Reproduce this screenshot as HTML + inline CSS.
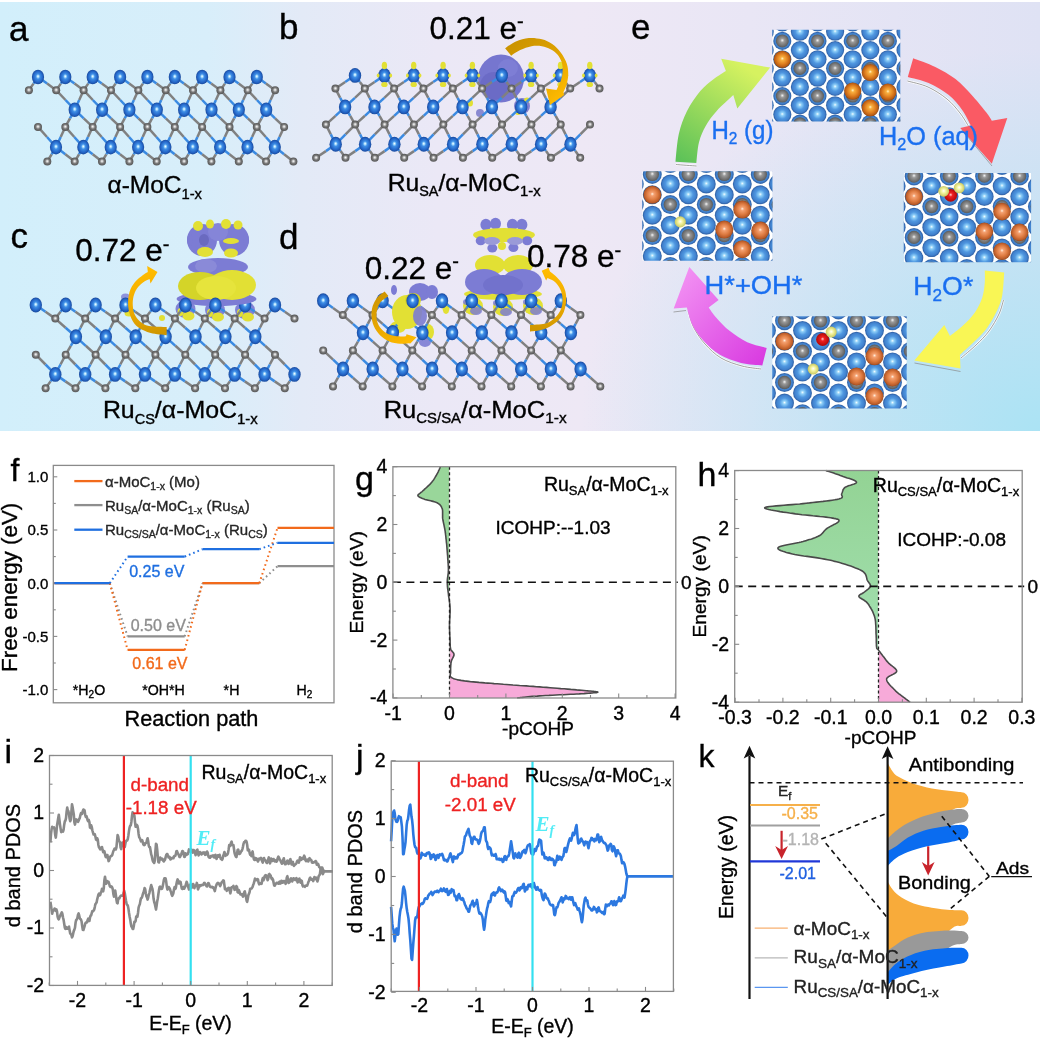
<!DOCTYPE html>
<html><head><meta charset="utf-8"><title>Figure</title>
<style>html,body{margin:0;padding:0;background:#fff;width:1042px;height:1041px;overflow:hidden} svg{display:block;will-change:transform}</style>
</head><body>
<svg width="1042" height="1041" viewBox="0 0 1042 1041" font-family="'Liberation Sans', Arial, sans-serif">
<defs>
<radialGradient id="mo" cx="0.5" cy="0.5" r="0.5" fx="0.5" fy="0.45">
  <stop offset="0" stop-color="#ffffff"/><stop offset="0.12" stop-color="#b8e6ff"/><stop offset="0.35" stop-color="#3f8fe6"/>
  <stop offset="0.75" stop-color="#2466c8"/><stop offset="1" stop-color="#1a4a9c"/></radialGradient>
<radialGradient id="cc" cx="0.5" cy="0.5" r="0.5" fx="0.5" fy="0.45">
  <stop offset="0" stop-color="#ffffff"/><stop offset="0.25" stop-color="#c8c8c8"/><stop offset="0.55" stop-color="#7a7a7a"/><stop offset="1" stop-color="#555555"/></radialGradient>
<radialGradient id="moT" cx="0.5" cy="0.5" r="0.5" fx="0.5" fy="0.47">
  <stop offset="0" stop-color="#f2fcff"/><stop offset="0.18" stop-color="#8fd0f8"/><stop offset="0.5" stop-color="#4f97e0"/>
  <stop offset="0.82" stop-color="#4080cc"/><stop offset="0.92" stop-color="#3468b0"/><stop offset="1" stop-color="#4a78b0"/></radialGradient>
<radialGradient id="cT" cx="0.5" cy="0.5" r="0.5" fx="0.5" fy="0.45">
  <stop offset="0" stop-color="#f4f4f4"/><stop offset="0.3" stop-color="#9a9a9a"/><stop offset="0.8" stop-color="#6e6e6e"/><stop offset="1" stop-color="#5a5a5a"/></radialGradient>
<radialGradient id="ru" cx="0.5" cy="0.5" r="0.5" fx="0.5" fy="0.45">
  <stop offset="0" stop-color="#fff6c8"/><stop offset="0.2" stop-color="#f8b040"/><stop offset="0.6" stop-color="#e08020"/>
  <stop offset="0.9" stop-color="#b85c14"/><stop offset="1" stop-color="#8c4410"/></radialGradient>
<radialGradient id="ru2" cx="0.5" cy="0.5" r="0.5" fx="0.5" fy="0.45">
  <stop offset="0" stop-color="#fff0e0"/><stop offset="0.2" stop-color="#f4a070"/><stop offset="0.6" stop-color="#dd7a40"/>
  <stop offset="0.9" stop-color="#b85a28"/><stop offset="1" stop-color="#904418"/></radialGradient>
<radialGradient id="hh" cx="0.5" cy="0.5" r="0.5" fx="0.5" fy="0.45">
  <stop offset="0" stop-color="#ffffff"/><stop offset="0.4" stop-color="#f4f4a0"/><stop offset="1" stop-color="#c8c860"/></radialGradient>
<radialGradient id="oo" cx="0.5" cy="0.5" r="0.5" fx="0.5" fy="0.45">
  <stop offset="0" stop-color="#ffd0d0"/><stop offset="0.3" stop-color="#f02020"/><stop offset="1" stop-color="#b00808"/></radialGradient>
<linearGradient id="bgmain" gradientUnits="userSpaceOnUse" x1="0" y1="0" x2="1040" y2="0">
  <stop offset="0" stop-color="#d2effb"/><stop offset="0.2" stop-color="#d8eefa"/><stop offset="0.29" stop-color="#e3eaf7"/>
  <stop offset="0.42" stop-color="#ebe8f6"/><stop offset="0.56" stop-color="#eee8f5"/><stop offset="0.72" stop-color="#e9e6f5"/><stop offset="1" stop-color="#dfe2f4"/></linearGradient>
<radialGradient id="bgcyan" gradientUnits="userSpaceOnUse" cx="1040" cy="431" r="460" gradientTransform="translate(1040 431) scale(1 0.83) translate(-1040 -431)">
  <stop offset="0" stop-color="#abe3f4" stop-opacity="1"/><stop offset="0.5" stop-color="#abe3f4" stop-opacity="0.5"/><stop offset="1" stop-color="#abe3f4" stop-opacity="0"/></radialGradient>
<linearGradient id="arrB" gradientUnits="userSpaceOnUse" x1="505" y1="45" x2="560" y2="100">
  <stop offset="0" stop-color="#c99200"/><stop offset="0.5" stop-color="#dca000"/><stop offset="1" stop-color="#ffbb00"/></linearGradient>
<linearGradient id="arrC" gradientUnits="userSpaceOnUse" x1="165" y1="332" x2="150" y2="270">
  <stop offset="0" stop-color="#cf9600"/><stop offset="0.5" stop-color="#f0ac00"/><stop offset="1" stop-color="#ffbb00"/></linearGradient>
<linearGradient id="arrDL" gradientUnits="userSpaceOnUse" x1="385" y1="292" x2="415" y2="340">
  <stop offset="0" stop-color="#cf9600"/><stop offset="0.5" stop-color="#eaa800"/><stop offset="1" stop-color="#ffbb00"/></linearGradient>
<linearGradient id="arrDR" gradientUnits="userSpaceOnUse" x1="530" y1="328" x2="545" y2="270">
  <stop offset="0" stop-color="#cf9600"/><stop offset="0.5" stop-color="#eaa800"/><stop offset="1" stop-color="#ffbb00"/></linearGradient>
<linearGradient id="arrO" x1="0" y1="0" x2="1" y2="0">
  <stop offset="0" stop-color="#d49200"/><stop offset="1" stop-color="#f6b800"/></linearGradient>
<linearGradient id="gGreen" x1="0" y1="1" x2="0.6" y2="0">
  <stop offset="0" stop-color="#58c058"/><stop offset="1" stop-color="#d6f260"/></linearGradient>
<linearGradient id="gRed" x1="0" y1="0" x2="0" y2="1">
  <stop offset="0" stop-color="#f45050"/><stop offset="1" stop-color="#ff5a6a"/></linearGradient>
<linearGradient id="gYel" x1="0" y1="0" x2="0" y2="1">
  <stop offset="0" stop-color="#fbf75a"/><stop offset="1" stop-color="#f2ec30"/></linearGradient>
<linearGradient id="gMag" x1="1" y1="1" x2="0" y2="0">
  <stop offset="0" stop-color="#d838e0"/><stop offset="1" stop-color="#f498f4"/></linearGradient>
</defs>
<rect x="0" y="0" width="1042" height="1041" fill="#ffffff"/>
<rect x="0" y="2" width="1040" height="429" fill="url(#bgmain)"/>
<rect x="0" y="2" width="1040" height="429" fill="url(#bgcyan)"/>
<line x1="38.0" y1="77.0" x2="33.5" y2="83.6" stroke="#3a8ae2" stroke-width="2.5"/><line x1="33.5" y1="83.6" x2="28.9" y2="90.2" stroke="#808080" stroke-width="2.5"/>
<line x1="38.0" y1="77.0" x2="47.1" y2="83.6" stroke="#3a8ae2" stroke-width="2.5"/><line x1="47.1" y1="83.6" x2="56.2" y2="90.2" stroke="#808080" stroke-width="2.5"/>
<line x1="65.3" y1="77.0" x2="60.8" y2="83.6" stroke="#3a8ae2" stroke-width="2.5"/><line x1="60.8" y1="83.6" x2="56.2" y2="90.2" stroke="#808080" stroke-width="2.5"/>
<line x1="65.3" y1="77.0" x2="74.5" y2="83.6" stroke="#3a8ae2" stroke-width="2.5"/><line x1="74.5" y1="83.6" x2="83.6" y2="90.2" stroke="#808080" stroke-width="2.5"/>
<line x1="92.7" y1="77.0" x2="88.2" y2="83.6" stroke="#3a8ae2" stroke-width="2.5"/><line x1="88.2" y1="83.6" x2="83.6" y2="90.2" stroke="#808080" stroke-width="2.5"/>
<line x1="92.7" y1="77.0" x2="101.8" y2="83.6" stroke="#3a8ae2" stroke-width="2.5"/><line x1="101.8" y1="83.6" x2="111.0" y2="90.2" stroke="#808080" stroke-width="2.5"/>
<line x1="120.1" y1="77.0" x2="115.5" y2="83.6" stroke="#3a8ae2" stroke-width="2.5"/><line x1="115.5" y1="83.6" x2="111.0" y2="90.2" stroke="#808080" stroke-width="2.5"/>
<line x1="120.1" y1="77.0" x2="129.2" y2="83.6" stroke="#3a8ae2" stroke-width="2.5"/><line x1="129.2" y1="83.6" x2="138.3" y2="90.2" stroke="#808080" stroke-width="2.5"/>
<line x1="147.4" y1="77.0" x2="142.9" y2="83.6" stroke="#3a8ae2" stroke-width="2.5"/><line x1="142.9" y1="83.6" x2="138.3" y2="90.2" stroke="#808080" stroke-width="2.5"/>
<line x1="147.4" y1="77.0" x2="156.5" y2="83.6" stroke="#3a8ae2" stroke-width="2.5"/><line x1="156.5" y1="83.6" x2="165.7" y2="90.2" stroke="#808080" stroke-width="2.5"/>
<line x1="174.8" y1="77.0" x2="170.2" y2="83.6" stroke="#3a8ae2" stroke-width="2.5"/><line x1="170.2" y1="83.6" x2="165.7" y2="90.2" stroke="#808080" stroke-width="2.5"/>
<line x1="174.8" y1="77.0" x2="183.9" y2="83.6" stroke="#3a8ae2" stroke-width="2.5"/><line x1="183.9" y1="83.6" x2="193.0" y2="90.2" stroke="#808080" stroke-width="2.5"/>
<line x1="202.1" y1="77.0" x2="197.6" y2="83.6" stroke="#3a8ae2" stroke-width="2.5"/><line x1="197.6" y1="83.6" x2="193.0" y2="90.2" stroke="#808080" stroke-width="2.5"/>
<line x1="202.1" y1="77.0" x2="211.2" y2="83.6" stroke="#3a8ae2" stroke-width="2.5"/><line x1="211.2" y1="83.6" x2="220.4" y2="90.2" stroke="#808080" stroke-width="2.5"/>
<line x1="229.5" y1="77.0" x2="224.9" y2="83.6" stroke="#3a8ae2" stroke-width="2.5"/><line x1="224.9" y1="83.6" x2="220.4" y2="90.2" stroke="#808080" stroke-width="2.5"/>
<line x1="229.5" y1="77.0" x2="238.6" y2="83.6" stroke="#3a8ae2" stroke-width="2.5"/><line x1="238.6" y1="83.6" x2="247.7" y2="90.2" stroke="#808080" stroke-width="2.5"/>
<line x1="256.8" y1="77.0" x2="252.2" y2="83.6" stroke="#3a8ae2" stroke-width="2.5"/><line x1="252.2" y1="83.6" x2="247.7" y2="90.2" stroke="#808080" stroke-width="2.5"/>
<line x1="256.8" y1="77.0" x2="265.9" y2="83.6" stroke="#3a8ae2" stroke-width="2.5"/><line x1="265.9" y1="83.6" x2="275.1" y2="90.2" stroke="#808080" stroke-width="2.5"/>
<line x1="56.2" y1="90.2" x2="65.5" y2="100.0" stroke="#808080" stroke-width="2.5"/><line x1="65.5" y1="100.0" x2="74.7" y2="109.7" stroke="#3a8ae2" stroke-width="2.5"/>
<line x1="83.6" y1="90.2" x2="79.2" y2="100.0" stroke="#808080" stroke-width="2.5"/><line x1="79.2" y1="100.0" x2="74.7" y2="109.7" stroke="#3a8ae2" stroke-width="2.5"/>
<line x1="83.6" y1="90.2" x2="92.8" y2="100.0" stroke="#808080" stroke-width="2.5"/><line x1="92.8" y1="100.0" x2="102.1" y2="109.7" stroke="#3a8ae2" stroke-width="2.5"/>
<line x1="111.0" y1="90.2" x2="106.5" y2="100.0" stroke="#808080" stroke-width="2.5"/><line x1="106.5" y1="100.0" x2="102.1" y2="109.7" stroke="#3a8ae2" stroke-width="2.5"/>
<line x1="111.0" y1="90.2" x2="120.2" y2="100.0" stroke="#808080" stroke-width="2.5"/><line x1="120.2" y1="100.0" x2="129.4" y2="109.7" stroke="#3a8ae2" stroke-width="2.5"/>
<line x1="138.3" y1="90.2" x2="133.9" y2="100.0" stroke="#808080" stroke-width="2.5"/><line x1="133.9" y1="100.0" x2="129.4" y2="109.7" stroke="#3a8ae2" stroke-width="2.5"/>
<line x1="138.3" y1="90.2" x2="147.5" y2="100.0" stroke="#808080" stroke-width="2.5"/><line x1="147.5" y1="100.0" x2="156.8" y2="109.7" stroke="#3a8ae2" stroke-width="2.5"/>
<line x1="165.7" y1="90.2" x2="161.2" y2="100.0" stroke="#808080" stroke-width="2.5"/><line x1="161.2" y1="100.0" x2="156.8" y2="109.7" stroke="#3a8ae2" stroke-width="2.5"/>
<line x1="165.7" y1="90.2" x2="174.9" y2="100.0" stroke="#808080" stroke-width="2.5"/><line x1="174.9" y1="100.0" x2="184.1" y2="109.7" stroke="#3a8ae2" stroke-width="2.5"/>
<line x1="193.0" y1="90.2" x2="188.6" y2="100.0" stroke="#808080" stroke-width="2.5"/><line x1="188.6" y1="100.0" x2="184.1" y2="109.7" stroke="#3a8ae2" stroke-width="2.5"/>
<line x1="193.0" y1="90.2" x2="202.2" y2="100.0" stroke="#808080" stroke-width="2.5"/><line x1="202.2" y1="100.0" x2="211.5" y2="109.7" stroke="#3a8ae2" stroke-width="2.5"/>
<line x1="220.4" y1="90.2" x2="215.9" y2="100.0" stroke="#808080" stroke-width="2.5"/><line x1="215.9" y1="100.0" x2="211.5" y2="109.7" stroke="#3a8ae2" stroke-width="2.5"/>
<line x1="220.4" y1="90.2" x2="229.6" y2="100.0" stroke="#808080" stroke-width="2.5"/><line x1="229.6" y1="100.0" x2="238.8" y2="109.7" stroke="#3a8ae2" stroke-width="2.5"/>
<line x1="247.7" y1="90.2" x2="243.2" y2="100.0" stroke="#808080" stroke-width="2.5"/><line x1="243.2" y1="100.0" x2="238.8" y2="109.7" stroke="#3a8ae2" stroke-width="2.5"/>
<line x1="247.7" y1="90.2" x2="256.9" y2="100.0" stroke="#808080" stroke-width="2.5"/><line x1="256.9" y1="100.0" x2="266.2" y2="109.7" stroke="#3a8ae2" stroke-width="2.5"/>
<line x1="275.1" y1="90.2" x2="270.6" y2="100.0" stroke="#808080" stroke-width="2.5"/><line x1="270.6" y1="100.0" x2="266.2" y2="109.7" stroke="#3a8ae2" stroke-width="2.5"/>
<line x1="74.7" y1="109.7" x2="70.0" y2="118.3" stroke="#3a8ae2" stroke-width="2.5"/><line x1="70.0" y1="118.3" x2="65.3" y2="126.9" stroke="#808080" stroke-width="2.5"/>
<line x1="74.7" y1="109.7" x2="83.7" y2="118.3" stroke="#3a8ae2" stroke-width="2.5"/><line x1="83.7" y1="118.3" x2="92.7" y2="126.9" stroke="#808080" stroke-width="2.5"/>
<line x1="102.1" y1="109.7" x2="97.4" y2="118.3" stroke="#3a8ae2" stroke-width="2.5"/><line x1="97.4" y1="118.3" x2="92.7" y2="126.9" stroke="#808080" stroke-width="2.5"/>
<line x1="102.1" y1="109.7" x2="111.1" y2="118.3" stroke="#3a8ae2" stroke-width="2.5"/><line x1="111.1" y1="118.3" x2="120.1" y2="126.9" stroke="#808080" stroke-width="2.5"/>
<line x1="129.4" y1="109.7" x2="124.7" y2="118.3" stroke="#3a8ae2" stroke-width="2.5"/><line x1="124.7" y1="118.3" x2="120.1" y2="126.9" stroke="#808080" stroke-width="2.5"/>
<line x1="129.4" y1="109.7" x2="138.4" y2="118.3" stroke="#3a8ae2" stroke-width="2.5"/><line x1="138.4" y1="118.3" x2="147.4" y2="126.9" stroke="#808080" stroke-width="2.5"/>
<line x1="156.8" y1="109.7" x2="152.1" y2="118.3" stroke="#3a8ae2" stroke-width="2.5"/><line x1="152.1" y1="118.3" x2="147.4" y2="126.9" stroke="#808080" stroke-width="2.5"/>
<line x1="156.8" y1="109.7" x2="165.8" y2="118.3" stroke="#3a8ae2" stroke-width="2.5"/><line x1="165.8" y1="118.3" x2="174.8" y2="126.9" stroke="#808080" stroke-width="2.5"/>
<line x1="184.1" y1="109.7" x2="179.4" y2="118.3" stroke="#3a8ae2" stroke-width="2.5"/><line x1="179.4" y1="118.3" x2="174.8" y2="126.9" stroke="#808080" stroke-width="2.5"/>
<line x1="184.1" y1="109.7" x2="193.1" y2="118.3" stroke="#3a8ae2" stroke-width="2.5"/><line x1="193.1" y1="118.3" x2="202.1" y2="126.9" stroke="#808080" stroke-width="2.5"/>
<line x1="211.5" y1="109.7" x2="206.8" y2="118.3" stroke="#3a8ae2" stroke-width="2.5"/><line x1="206.8" y1="118.3" x2="202.1" y2="126.9" stroke="#808080" stroke-width="2.5"/>
<line x1="211.5" y1="109.7" x2="220.5" y2="118.3" stroke="#3a8ae2" stroke-width="2.5"/><line x1="220.5" y1="118.3" x2="229.5" y2="126.9" stroke="#808080" stroke-width="2.5"/>
<line x1="238.8" y1="109.7" x2="234.1" y2="118.3" stroke="#3a8ae2" stroke-width="2.5"/><line x1="234.1" y1="118.3" x2="229.5" y2="126.9" stroke="#808080" stroke-width="2.5"/>
<line x1="238.8" y1="109.7" x2="247.8" y2="118.3" stroke="#3a8ae2" stroke-width="2.5"/><line x1="247.8" y1="118.3" x2="256.8" y2="126.9" stroke="#808080" stroke-width="2.5"/>
<line x1="266.2" y1="109.7" x2="261.5" y2="118.3" stroke="#3a8ae2" stroke-width="2.5"/><line x1="261.5" y1="118.3" x2="256.8" y2="126.9" stroke="#808080" stroke-width="2.5"/>
<line x1="266.2" y1="109.7" x2="275.1" y2="118.3" stroke="#3a8ae2" stroke-width="2.5"/><line x1="275.1" y1="118.3" x2="284.1" y2="126.9" stroke="#808080" stroke-width="2.5"/>
<line x1="38.0" y1="126.9" x2="47.0" y2="137.0" stroke="#808080" stroke-width="2.5"/><line x1="47.0" y1="137.0" x2="56.0" y2="147.1" stroke="#3a8ae2" stroke-width="2.5"/>
<line x1="65.3" y1="126.9" x2="60.7" y2="137.0" stroke="#808080" stroke-width="2.5"/><line x1="60.7" y1="137.0" x2="56.0" y2="147.1" stroke="#3a8ae2" stroke-width="2.5"/>
<line x1="65.3" y1="126.9" x2="74.3" y2="137.0" stroke="#808080" stroke-width="2.5"/><line x1="74.3" y1="137.0" x2="83.3" y2="147.1" stroke="#3a8ae2" stroke-width="2.5"/>
<line x1="92.7" y1="126.9" x2="88.0" y2="137.0" stroke="#808080" stroke-width="2.5"/><line x1="88.0" y1="137.0" x2="83.3" y2="147.1" stroke="#3a8ae2" stroke-width="2.5"/>
<line x1="92.7" y1="126.9" x2="101.7" y2="137.0" stroke="#808080" stroke-width="2.5"/><line x1="101.7" y1="137.0" x2="110.7" y2="147.1" stroke="#3a8ae2" stroke-width="2.5"/>
<line x1="120.1" y1="126.9" x2="115.4" y2="137.0" stroke="#808080" stroke-width="2.5"/><line x1="115.4" y1="137.0" x2="110.7" y2="147.1" stroke="#3a8ae2" stroke-width="2.5"/>
<line x1="120.1" y1="126.9" x2="129.1" y2="137.0" stroke="#808080" stroke-width="2.5"/><line x1="129.1" y1="137.0" x2="138.1" y2="147.1" stroke="#3a8ae2" stroke-width="2.5"/>
<line x1="147.4" y1="126.9" x2="142.7" y2="137.0" stroke="#808080" stroke-width="2.5"/><line x1="142.7" y1="137.0" x2="138.1" y2="147.1" stroke="#3a8ae2" stroke-width="2.5"/>
<line x1="147.4" y1="126.9" x2="156.4" y2="137.0" stroke="#808080" stroke-width="2.5"/><line x1="156.4" y1="137.0" x2="165.4" y2="147.1" stroke="#3a8ae2" stroke-width="2.5"/>
<line x1="174.8" y1="126.9" x2="170.1" y2="137.0" stroke="#808080" stroke-width="2.5"/><line x1="170.1" y1="137.0" x2="165.4" y2="147.1" stroke="#3a8ae2" stroke-width="2.5"/>
<line x1="174.8" y1="126.9" x2="183.8" y2="137.0" stroke="#808080" stroke-width="2.5"/><line x1="183.8" y1="137.0" x2="192.8" y2="147.1" stroke="#3a8ae2" stroke-width="2.5"/>
<line x1="202.1" y1="126.9" x2="197.4" y2="137.0" stroke="#808080" stroke-width="2.5"/><line x1="197.4" y1="137.0" x2="192.8" y2="147.1" stroke="#3a8ae2" stroke-width="2.5"/>
<line x1="202.1" y1="126.9" x2="211.1" y2="137.0" stroke="#808080" stroke-width="2.5"/><line x1="211.1" y1="137.0" x2="220.1" y2="147.1" stroke="#3a8ae2" stroke-width="2.5"/>
<line x1="229.5" y1="126.9" x2="224.8" y2="137.0" stroke="#808080" stroke-width="2.5"/><line x1="224.8" y1="137.0" x2="220.1" y2="147.1" stroke="#3a8ae2" stroke-width="2.5"/>
<line x1="229.5" y1="126.9" x2="238.5" y2="137.0" stroke="#808080" stroke-width="2.5"/><line x1="238.5" y1="137.0" x2="247.5" y2="147.1" stroke="#3a8ae2" stroke-width="2.5"/>
<line x1="256.8" y1="126.9" x2="252.1" y2="137.0" stroke="#808080" stroke-width="2.5"/><line x1="252.1" y1="137.0" x2="247.5" y2="147.1" stroke="#3a8ae2" stroke-width="2.5"/>
<line x1="256.8" y1="126.9" x2="265.8" y2="137.0" stroke="#808080" stroke-width="2.5"/><line x1="265.8" y1="137.0" x2="274.8" y2="147.1" stroke="#3a8ae2" stroke-width="2.5"/>
<line x1="284.1" y1="126.9" x2="279.5" y2="137.0" stroke="#808080" stroke-width="2.5"/><line x1="279.5" y1="137.0" x2="274.8" y2="147.1" stroke="#3a8ae2" stroke-width="2.5"/>
<line x1="56.0" y1="147.1" x2="51.6" y2="154.3" stroke="#3a8ae2" stroke-width="2.5"/><line x1="51.6" y1="154.3" x2="47.3" y2="161.5" stroke="#808080" stroke-width="2.5"/>
<line x1="56.0" y1="147.1" x2="65.3" y2="154.3" stroke="#3a8ae2" stroke-width="2.5"/><line x1="65.3" y1="154.3" x2="74.7" y2="161.5" stroke="#808080" stroke-width="2.5"/>
<line x1="83.3" y1="147.1" x2="79.0" y2="154.3" stroke="#3a8ae2" stroke-width="2.5"/><line x1="79.0" y1="154.3" x2="74.7" y2="161.5" stroke="#808080" stroke-width="2.5"/>
<line x1="83.3" y1="147.1" x2="92.7" y2="154.3" stroke="#3a8ae2" stroke-width="2.5"/><line x1="92.7" y1="154.3" x2="102.0" y2="161.5" stroke="#808080" stroke-width="2.5"/>
<line x1="110.7" y1="147.1" x2="106.3" y2="154.3" stroke="#3a8ae2" stroke-width="2.5"/><line x1="106.3" y1="154.3" x2="102.0" y2="161.5" stroke="#808080" stroke-width="2.5"/>
<line x1="110.7" y1="147.1" x2="120.0" y2="154.3" stroke="#3a8ae2" stroke-width="2.5"/><line x1="120.0" y1="154.3" x2="129.4" y2="161.5" stroke="#808080" stroke-width="2.5"/>
<line x1="138.1" y1="147.1" x2="133.7" y2="154.3" stroke="#3a8ae2" stroke-width="2.5"/><line x1="133.7" y1="154.3" x2="129.4" y2="161.5" stroke="#808080" stroke-width="2.5"/>
<line x1="138.1" y1="147.1" x2="147.4" y2="154.3" stroke="#3a8ae2" stroke-width="2.5"/><line x1="147.4" y1="154.3" x2="156.7" y2="161.5" stroke="#808080" stroke-width="2.5"/>
<line x1="165.4" y1="147.1" x2="161.1" y2="154.3" stroke="#3a8ae2" stroke-width="2.5"/><line x1="161.1" y1="154.3" x2="156.7" y2="161.5" stroke="#808080" stroke-width="2.5"/>
<line x1="165.4" y1="147.1" x2="174.7" y2="154.3" stroke="#3a8ae2" stroke-width="2.5"/><line x1="174.7" y1="154.3" x2="184.1" y2="161.5" stroke="#808080" stroke-width="2.5"/>
<line x1="192.8" y1="147.1" x2="188.4" y2="154.3" stroke="#3a8ae2" stroke-width="2.5"/><line x1="188.4" y1="154.3" x2="184.1" y2="161.5" stroke="#808080" stroke-width="2.5"/>
<line x1="192.8" y1="147.1" x2="202.1" y2="154.3" stroke="#3a8ae2" stroke-width="2.5"/><line x1="202.1" y1="154.3" x2="211.4" y2="161.5" stroke="#808080" stroke-width="2.5"/>
<line x1="220.1" y1="147.1" x2="215.8" y2="154.3" stroke="#3a8ae2" stroke-width="2.5"/><line x1="215.8" y1="154.3" x2="211.4" y2="161.5" stroke="#808080" stroke-width="2.5"/>
<line x1="220.1" y1="147.1" x2="229.4" y2="154.3" stroke="#3a8ae2" stroke-width="2.5"/><line x1="229.4" y1="154.3" x2="238.8" y2="161.5" stroke="#808080" stroke-width="2.5"/>
<line x1="247.5" y1="147.1" x2="243.1" y2="154.3" stroke="#3a8ae2" stroke-width="2.5"/><line x1="243.1" y1="154.3" x2="238.8" y2="161.5" stroke="#808080" stroke-width="2.5"/>
<line x1="247.5" y1="147.1" x2="256.8" y2="154.3" stroke="#3a8ae2" stroke-width="2.5"/><line x1="256.8" y1="154.3" x2="266.1" y2="161.5" stroke="#808080" stroke-width="2.5"/>
<line x1="274.8" y1="147.1" x2="270.5" y2="154.3" stroke="#3a8ae2" stroke-width="2.5"/><line x1="270.5" y1="154.3" x2="266.1" y2="161.5" stroke="#808080" stroke-width="2.5"/>
<line x1="274.8" y1="147.1" x2="284.1" y2="154.3" stroke="#3a8ae2" stroke-width="2.5"/><line x1="284.1" y1="154.3" x2="293.4" y2="161.5" stroke="#808080" stroke-width="2.5"/>
<ellipse cx="38.0" cy="77.0" rx="6.1" ry="7.32" fill="url(#mo)"/>
<ellipse cx="65.3" cy="77.0" rx="6.1" ry="7.32" fill="url(#mo)"/>
<ellipse cx="92.7" cy="77.0" rx="6.1" ry="7.32" fill="url(#mo)"/>
<ellipse cx="120.1" cy="77.0" rx="6.1" ry="7.32" fill="url(#mo)"/>
<ellipse cx="147.4" cy="77.0" rx="6.1" ry="7.32" fill="url(#mo)"/>
<ellipse cx="174.8" cy="77.0" rx="6.1" ry="7.32" fill="url(#mo)"/>
<ellipse cx="202.1" cy="77.0" rx="6.1" ry="7.32" fill="url(#mo)"/>
<ellipse cx="229.5" cy="77.0" rx="6.1" ry="7.32" fill="url(#mo)"/>
<ellipse cx="256.8" cy="77.0" rx="6.1" ry="7.32" fill="url(#mo)"/>
<circle cx="28.9" cy="90.2" r="4.0" fill="url(#cc)"/>
<circle cx="56.2" cy="90.2" r="4.0" fill="url(#cc)"/>
<circle cx="83.6" cy="90.2" r="4.0" fill="url(#cc)"/>
<circle cx="111.0" cy="90.2" r="4.0" fill="url(#cc)"/>
<circle cx="138.3" cy="90.2" r="4.0" fill="url(#cc)"/>
<circle cx="165.7" cy="90.2" r="4.0" fill="url(#cc)"/>
<circle cx="193.0" cy="90.2" r="4.0" fill="url(#cc)"/>
<circle cx="220.4" cy="90.2" r="4.0" fill="url(#cc)"/>
<circle cx="247.7" cy="90.2" r="4.0" fill="url(#cc)"/>
<circle cx="275.1" cy="90.2" r="4.0" fill="url(#cc)"/>
<ellipse cx="74.7" cy="109.7" rx="6.1" ry="7.32" fill="url(#mo)"/>
<ellipse cx="102.1" cy="109.7" rx="6.1" ry="7.32" fill="url(#mo)"/>
<ellipse cx="129.4" cy="109.7" rx="6.1" ry="7.32" fill="url(#mo)"/>
<ellipse cx="156.8" cy="109.7" rx="6.1" ry="7.32" fill="url(#mo)"/>
<ellipse cx="184.1" cy="109.7" rx="6.1" ry="7.32" fill="url(#mo)"/>
<ellipse cx="211.5" cy="109.7" rx="6.1" ry="7.32" fill="url(#mo)"/>
<ellipse cx="238.8" cy="109.7" rx="6.1" ry="7.32" fill="url(#mo)"/>
<ellipse cx="266.2" cy="109.7" rx="6.1" ry="7.32" fill="url(#mo)"/>
<circle cx="38.0" cy="126.9" r="4.0" fill="url(#cc)"/>
<circle cx="65.3" cy="126.9" r="4.0" fill="url(#cc)"/>
<circle cx="92.7" cy="126.9" r="4.0" fill="url(#cc)"/>
<circle cx="120.1" cy="126.9" r="4.0" fill="url(#cc)"/>
<circle cx="147.4" cy="126.9" r="4.0" fill="url(#cc)"/>
<circle cx="174.8" cy="126.9" r="4.0" fill="url(#cc)"/>
<circle cx="202.1" cy="126.9" r="4.0" fill="url(#cc)"/>
<circle cx="229.5" cy="126.9" r="4.0" fill="url(#cc)"/>
<circle cx="256.8" cy="126.9" r="4.0" fill="url(#cc)"/>
<circle cx="284.1" cy="126.9" r="4.0" fill="url(#cc)"/>
<ellipse cx="56.0" cy="147.1" rx="6.1" ry="7.32" fill="url(#mo)"/>
<ellipse cx="83.3" cy="147.1" rx="6.1" ry="7.32" fill="url(#mo)"/>
<ellipse cx="110.7" cy="147.1" rx="6.1" ry="7.32" fill="url(#mo)"/>
<ellipse cx="138.1" cy="147.1" rx="6.1" ry="7.32" fill="url(#mo)"/>
<ellipse cx="165.4" cy="147.1" rx="6.1" ry="7.32" fill="url(#mo)"/>
<ellipse cx="192.8" cy="147.1" rx="6.1" ry="7.32" fill="url(#mo)"/>
<ellipse cx="220.1" cy="147.1" rx="6.1" ry="7.32" fill="url(#mo)"/>
<ellipse cx="247.5" cy="147.1" rx="6.1" ry="7.32" fill="url(#mo)"/>
<ellipse cx="274.8" cy="147.1" rx="6.1" ry="7.32" fill="url(#mo)"/>
<circle cx="47.3" cy="161.5" r="4.0" fill="url(#cc)"/>
<circle cx="74.7" cy="161.5" r="4.0" fill="url(#cc)"/>
<circle cx="102.0" cy="161.5" r="4.0" fill="url(#cc)"/>
<circle cx="129.4" cy="161.5" r="4.0" fill="url(#cc)"/>
<circle cx="156.7" cy="161.5" r="4.0" fill="url(#cc)"/>
<circle cx="184.1" cy="161.5" r="4.0" fill="url(#cc)"/>
<circle cx="211.4" cy="161.5" r="4.0" fill="url(#cc)"/>
<circle cx="238.8" cy="161.5" r="4.0" fill="url(#cc)"/>
<circle cx="266.1" cy="161.5" r="4.0" fill="url(#cc)"/>
<circle cx="293.4" cy="161.5" r="4.0" fill="url(#cc)"/>
<ellipse cx="501.0" cy="78.5" rx="23.0" ry="24.0" fill="#7070cc" opacity="0.95"/>
<ellipse cx="494.0" cy="86.0" rx="14.0" ry="14.0" fill="#6464c0" opacity="0.6"/>
<ellipse cx="508.0" cy="68.0" rx="10.0" ry="9.0" fill="#8484d8" opacity="0.6"/>
<ellipse cx="522.0" cy="106.0" rx="8.0" ry="8.0" fill="#7474cc" opacity="0.9"/>
<ellipse cx="518.0" cy="112.0" rx="3.0" ry="3.0" fill="#e2e034" opacity="1.0"/>
<ellipse cx="527.0" cy="100.0" rx="3.0" ry="2.5" fill="#e2e034" opacity="1.0"/>
<ellipse cx="480.0" cy="113.0" rx="4.0" ry="4.0" fill="#7070c8" opacity="0.8"/>
<ellipse cx="470.0" cy="103.0" rx="3.0" ry="3.5" fill="#e2e034" opacity="1.0"/>
<line x1="355.0" y1="75.4" x2="345.2" y2="82.0" stroke="#3a8ae2" stroke-width="2.5"/><line x1="345.2" y1="82.0" x2="335.4" y2="88.6" stroke="#808080" stroke-width="2.5"/>
<line x1="355.0" y1="75.4" x2="359.9" y2="82.0" stroke="#3a8ae2" stroke-width="2.5"/><line x1="359.9" y1="82.0" x2="364.8" y2="88.6" stroke="#808080" stroke-width="2.5"/>
<line x1="384.4" y1="75.4" x2="374.6" y2="82.0" stroke="#3a8ae2" stroke-width="2.5"/><line x1="374.6" y1="82.0" x2="364.8" y2="88.6" stroke="#808080" stroke-width="2.5"/>
<line x1="384.4" y1="75.4" x2="389.2" y2="82.0" stroke="#3a8ae2" stroke-width="2.5"/><line x1="389.2" y1="82.0" x2="394.1" y2="88.6" stroke="#808080" stroke-width="2.5"/>
<line x1="413.7" y1="75.4" x2="403.9" y2="82.0" stroke="#3a8ae2" stroke-width="2.5"/><line x1="403.9" y1="82.0" x2="394.1" y2="88.6" stroke="#808080" stroke-width="2.5"/>
<line x1="413.7" y1="75.4" x2="418.6" y2="82.0" stroke="#3a8ae2" stroke-width="2.5"/><line x1="418.6" y1="82.0" x2="423.4" y2="88.6" stroke="#808080" stroke-width="2.5"/>
<line x1="443.1" y1="75.4" x2="433.2" y2="82.0" stroke="#3a8ae2" stroke-width="2.5"/><line x1="433.2" y1="82.0" x2="423.4" y2="88.6" stroke="#808080" stroke-width="2.5"/>
<line x1="443.1" y1="75.4" x2="447.9" y2="82.0" stroke="#3a8ae2" stroke-width="2.5"/><line x1="447.9" y1="82.0" x2="452.8" y2="88.6" stroke="#808080" stroke-width="2.5"/>
<line x1="472.4" y1="75.4" x2="462.6" y2="82.0" stroke="#3a8ae2" stroke-width="2.5"/><line x1="462.6" y1="82.0" x2="452.8" y2="88.6" stroke="#808080" stroke-width="2.5"/>
<line x1="472.4" y1="75.4" x2="477.3" y2="82.0" stroke="#3a8ae2" stroke-width="2.5"/><line x1="477.3" y1="82.0" x2="482.1" y2="88.6" stroke="#808080" stroke-width="2.5"/>
<line x1="501.8" y1="75.4" x2="491.9" y2="82.0" stroke="#3a8ae2" stroke-width="2.5"/><line x1="491.9" y1="82.0" x2="482.1" y2="88.6" stroke="#808080" stroke-width="2.5"/>
<line x1="501.8" y1="75.4" x2="506.6" y2="82.0" stroke="#3a8ae2" stroke-width="2.5"/><line x1="506.6" y1="82.0" x2="511.5" y2="88.6" stroke="#808080" stroke-width="2.5"/>
<line x1="531.1" y1="75.4" x2="521.3" y2="82.0" stroke="#3a8ae2" stroke-width="2.5"/><line x1="521.3" y1="82.0" x2="511.5" y2="88.6" stroke="#808080" stroke-width="2.5"/>
<line x1="531.1" y1="75.4" x2="536.0" y2="82.0" stroke="#3a8ae2" stroke-width="2.5"/><line x1="536.0" y1="82.0" x2="540.9" y2="88.6" stroke="#808080" stroke-width="2.5"/>
<line x1="560.5" y1="75.4" x2="550.7" y2="82.0" stroke="#3a8ae2" stroke-width="2.5"/><line x1="550.7" y1="82.0" x2="540.9" y2="88.6" stroke="#808080" stroke-width="2.5"/>
<line x1="560.5" y1="75.4" x2="565.3" y2="82.0" stroke="#3a8ae2" stroke-width="2.5"/><line x1="565.3" y1="82.0" x2="570.2" y2="88.6" stroke="#808080" stroke-width="2.5"/>
<line x1="589.8" y1="75.4" x2="580.0" y2="82.0" stroke="#3a8ae2" stroke-width="2.5"/><line x1="580.0" y1="82.0" x2="570.2" y2="88.6" stroke="#808080" stroke-width="2.5"/>
<line x1="589.8" y1="75.4" x2="594.7" y2="82.0" stroke="#3a8ae2" stroke-width="2.5"/><line x1="594.7" y1="82.0" x2="599.5" y2="88.6" stroke="#808080" stroke-width="2.5"/>
<line x1="335.4" y1="88.6" x2="340.2" y2="97.8" stroke="#808080" stroke-width="2.5"/><line x1="340.2" y1="97.8" x2="345.1" y2="106.9" stroke="#3a8ae2" stroke-width="2.5"/>
<line x1="364.8" y1="88.6" x2="354.9" y2="97.8" stroke="#808080" stroke-width="2.5"/><line x1="354.9" y1="97.8" x2="345.1" y2="106.9" stroke="#3a8ae2" stroke-width="2.5"/>
<line x1="364.8" y1="88.6" x2="369.6" y2="97.8" stroke="#808080" stroke-width="2.5"/><line x1="369.6" y1="97.8" x2="374.5" y2="106.9" stroke="#3a8ae2" stroke-width="2.5"/>
<line x1="394.1" y1="88.6" x2="384.3" y2="97.8" stroke="#808080" stroke-width="2.5"/><line x1="384.3" y1="97.8" x2="374.5" y2="106.9" stroke="#3a8ae2" stroke-width="2.5"/>
<line x1="394.1" y1="88.6" x2="398.9" y2="97.8" stroke="#808080" stroke-width="2.5"/><line x1="398.9" y1="97.8" x2="403.8" y2="106.9" stroke="#3a8ae2" stroke-width="2.5"/>
<line x1="423.4" y1="88.6" x2="413.6" y2="97.8" stroke="#808080" stroke-width="2.5"/><line x1="413.6" y1="97.8" x2="403.8" y2="106.9" stroke="#3a8ae2" stroke-width="2.5"/>
<line x1="423.4" y1="88.6" x2="428.3" y2="97.8" stroke="#808080" stroke-width="2.5"/><line x1="428.3" y1="97.8" x2="433.2" y2="106.9" stroke="#3a8ae2" stroke-width="2.5"/>
<line x1="452.8" y1="88.6" x2="443.0" y2="97.8" stroke="#808080" stroke-width="2.5"/><line x1="443.0" y1="97.8" x2="433.2" y2="106.9" stroke="#3a8ae2" stroke-width="2.5"/>
<line x1="452.8" y1="88.6" x2="457.6" y2="97.8" stroke="#808080" stroke-width="2.5"/><line x1="457.6" y1="97.8" x2="462.5" y2="106.9" stroke="#3a8ae2" stroke-width="2.5"/>
<line x1="482.1" y1="88.6" x2="472.3" y2="97.8" stroke="#808080" stroke-width="2.5"/><line x1="472.3" y1="97.8" x2="462.5" y2="106.9" stroke="#3a8ae2" stroke-width="2.5"/>
<line x1="482.1" y1="88.6" x2="487.0" y2="97.8" stroke="#808080" stroke-width="2.5"/><line x1="487.0" y1="97.8" x2="491.9" y2="106.9" stroke="#3a8ae2" stroke-width="2.5"/>
<line x1="511.5" y1="88.6" x2="501.7" y2="97.8" stroke="#808080" stroke-width="2.5"/><line x1="501.7" y1="97.8" x2="491.9" y2="106.9" stroke="#3a8ae2" stroke-width="2.5"/>
<line x1="511.5" y1="88.6" x2="516.4" y2="97.8" stroke="#808080" stroke-width="2.5"/><line x1="516.4" y1="97.8" x2="521.2" y2="106.9" stroke="#3a8ae2" stroke-width="2.5"/>
<line x1="540.9" y1="88.6" x2="531.0" y2="97.8" stroke="#808080" stroke-width="2.5"/><line x1="531.0" y1="97.8" x2="521.2" y2="106.9" stroke="#3a8ae2" stroke-width="2.5"/>
<line x1="540.9" y1="88.6" x2="545.7" y2="97.8" stroke="#808080" stroke-width="2.5"/><line x1="545.7" y1="97.8" x2="550.6" y2="106.9" stroke="#3a8ae2" stroke-width="2.5"/>
<line x1="570.2" y1="88.6" x2="560.4" y2="97.8" stroke="#808080" stroke-width="2.5"/><line x1="560.4" y1="97.8" x2="550.6" y2="106.9" stroke="#3a8ae2" stroke-width="2.5"/>
<line x1="345.1" y1="106.9" x2="335.5" y2="115.8" stroke="#3a8ae2" stroke-width="2.5"/><line x1="335.5" y1="115.8" x2="325.9" y2="124.6" stroke="#808080" stroke-width="2.5"/>
<line x1="345.1" y1="106.9" x2="350.2" y2="115.8" stroke="#3a8ae2" stroke-width="2.5"/><line x1="350.2" y1="115.8" x2="355.2" y2="124.6" stroke="#808080" stroke-width="2.5"/>
<line x1="374.5" y1="106.9" x2="364.9" y2="115.8" stroke="#3a8ae2" stroke-width="2.5"/><line x1="364.9" y1="115.8" x2="355.2" y2="124.6" stroke="#808080" stroke-width="2.5"/>
<line x1="374.5" y1="106.9" x2="379.5" y2="115.8" stroke="#3a8ae2" stroke-width="2.5"/><line x1="379.5" y1="115.8" x2="384.6" y2="124.6" stroke="#808080" stroke-width="2.5"/>
<line x1="403.8" y1="106.9" x2="394.2" y2="115.8" stroke="#3a8ae2" stroke-width="2.5"/><line x1="394.2" y1="115.8" x2="384.6" y2="124.6" stroke="#808080" stroke-width="2.5"/>
<line x1="403.8" y1="106.9" x2="408.9" y2="115.8" stroke="#3a8ae2" stroke-width="2.5"/><line x1="408.9" y1="115.8" x2="413.9" y2="124.6" stroke="#808080" stroke-width="2.5"/>
<line x1="433.2" y1="106.9" x2="423.6" y2="115.8" stroke="#3a8ae2" stroke-width="2.5"/><line x1="423.6" y1="115.8" x2="413.9" y2="124.6" stroke="#808080" stroke-width="2.5"/>
<line x1="433.2" y1="106.9" x2="438.2" y2="115.8" stroke="#3a8ae2" stroke-width="2.5"/><line x1="438.2" y1="115.8" x2="443.3" y2="124.6" stroke="#808080" stroke-width="2.5"/>
<line x1="462.5" y1="106.9" x2="452.9" y2="115.8" stroke="#3a8ae2" stroke-width="2.5"/><line x1="452.9" y1="115.8" x2="443.3" y2="124.6" stroke="#808080" stroke-width="2.5"/>
<line x1="462.5" y1="106.9" x2="467.6" y2="115.8" stroke="#3a8ae2" stroke-width="2.5"/><line x1="467.6" y1="115.8" x2="472.6" y2="124.6" stroke="#808080" stroke-width="2.5"/>
<line x1="491.9" y1="106.9" x2="482.2" y2="115.8" stroke="#3a8ae2" stroke-width="2.5"/><line x1="482.2" y1="115.8" x2="472.6" y2="124.6" stroke="#808080" stroke-width="2.5"/>
<line x1="491.9" y1="106.9" x2="496.9" y2="115.8" stroke="#3a8ae2" stroke-width="2.5"/><line x1="496.9" y1="115.8" x2="502.0" y2="124.6" stroke="#808080" stroke-width="2.5"/>
<line x1="521.2" y1="106.9" x2="511.6" y2="115.8" stroke="#3a8ae2" stroke-width="2.5"/><line x1="511.6" y1="115.8" x2="502.0" y2="124.6" stroke="#808080" stroke-width="2.5"/>
<line x1="521.2" y1="106.9" x2="526.3" y2="115.8" stroke="#3a8ae2" stroke-width="2.5"/><line x1="526.3" y1="115.8" x2="531.4" y2="124.6" stroke="#808080" stroke-width="2.5"/>
<line x1="550.6" y1="106.9" x2="541.0" y2="115.8" stroke="#3a8ae2" stroke-width="2.5"/><line x1="541.0" y1="115.8" x2="531.4" y2="124.6" stroke="#808080" stroke-width="2.5"/>
<line x1="550.6" y1="106.9" x2="555.6" y2="115.8" stroke="#3a8ae2" stroke-width="2.5"/><line x1="555.6" y1="115.8" x2="560.7" y2="124.6" stroke="#808080" stroke-width="2.5"/>
<line x1="325.9" y1="124.6" x2="330.8" y2="134.4" stroke="#808080" stroke-width="2.5"/><line x1="330.8" y1="134.4" x2="335.7" y2="144.3" stroke="#3a8ae2" stroke-width="2.5"/>
<line x1="355.2" y1="124.6" x2="345.5" y2="134.4" stroke="#808080" stroke-width="2.5"/><line x1="345.5" y1="134.4" x2="335.7" y2="144.3" stroke="#3a8ae2" stroke-width="2.5"/>
<line x1="355.2" y1="124.6" x2="360.1" y2="134.4" stroke="#808080" stroke-width="2.5"/><line x1="360.1" y1="134.4" x2="365.1" y2="144.3" stroke="#3a8ae2" stroke-width="2.5"/>
<line x1="384.6" y1="124.6" x2="374.8" y2="134.4" stroke="#808080" stroke-width="2.5"/><line x1="374.8" y1="134.4" x2="365.1" y2="144.3" stroke="#3a8ae2" stroke-width="2.5"/>
<line x1="384.6" y1="124.6" x2="389.5" y2="134.4" stroke="#808080" stroke-width="2.5"/><line x1="389.5" y1="134.4" x2="394.4" y2="144.3" stroke="#3a8ae2" stroke-width="2.5"/>
<line x1="413.9" y1="124.6" x2="404.2" y2="134.4" stroke="#808080" stroke-width="2.5"/><line x1="404.2" y1="134.4" x2="394.4" y2="144.3" stroke="#3a8ae2" stroke-width="2.5"/>
<line x1="413.9" y1="124.6" x2="418.9" y2="134.4" stroke="#808080" stroke-width="2.5"/><line x1="418.9" y1="134.4" x2="423.8" y2="144.3" stroke="#3a8ae2" stroke-width="2.5"/>
<line x1="443.3" y1="124.6" x2="433.5" y2="134.4" stroke="#808080" stroke-width="2.5"/><line x1="433.5" y1="134.4" x2="423.8" y2="144.3" stroke="#3a8ae2" stroke-width="2.5"/>
<line x1="443.3" y1="124.6" x2="448.2" y2="134.4" stroke="#808080" stroke-width="2.5"/><line x1="448.2" y1="134.4" x2="453.1" y2="144.3" stroke="#3a8ae2" stroke-width="2.5"/>
<line x1="472.6" y1="124.6" x2="462.9" y2="134.4" stroke="#808080" stroke-width="2.5"/><line x1="462.9" y1="134.4" x2="453.1" y2="144.3" stroke="#3a8ae2" stroke-width="2.5"/>
<line x1="472.6" y1="124.6" x2="477.5" y2="134.4" stroke="#808080" stroke-width="2.5"/><line x1="477.5" y1="134.4" x2="482.4" y2="144.3" stroke="#3a8ae2" stroke-width="2.5"/>
<line x1="502.0" y1="124.6" x2="492.2" y2="134.4" stroke="#808080" stroke-width="2.5"/><line x1="492.2" y1="134.4" x2="482.4" y2="144.3" stroke="#3a8ae2" stroke-width="2.5"/>
<line x1="502.0" y1="124.6" x2="506.9" y2="134.4" stroke="#808080" stroke-width="2.5"/><line x1="506.9" y1="134.4" x2="511.8" y2="144.3" stroke="#3a8ae2" stroke-width="2.5"/>
<line x1="531.4" y1="124.6" x2="521.6" y2="134.4" stroke="#808080" stroke-width="2.5"/><line x1="521.6" y1="134.4" x2="511.8" y2="144.3" stroke="#3a8ae2" stroke-width="2.5"/>
<line x1="531.4" y1="124.6" x2="536.2" y2="134.4" stroke="#808080" stroke-width="2.5"/><line x1="536.2" y1="134.4" x2="541.1" y2="144.3" stroke="#3a8ae2" stroke-width="2.5"/>
<line x1="560.7" y1="124.6" x2="550.9" y2="134.4" stroke="#808080" stroke-width="2.5"/><line x1="550.9" y1="134.4" x2="541.1" y2="144.3" stroke="#3a8ae2" stroke-width="2.5"/>
<line x1="560.7" y1="124.6" x2="565.6" y2="134.4" stroke="#808080" stroke-width="2.5"/><line x1="565.6" y1="134.4" x2="570.5" y2="144.3" stroke="#3a8ae2" stroke-width="2.5"/>
<line x1="590.0" y1="124.6" x2="580.3" y2="134.4" stroke="#808080" stroke-width="2.5"/><line x1="580.3" y1="134.4" x2="570.5" y2="144.3" stroke="#3a8ae2" stroke-width="2.5"/>
<line x1="335.7" y1="144.3" x2="325.9" y2="151.1" stroke="#3a8ae2" stroke-width="2.5"/><line x1="325.9" y1="151.1" x2="316.1" y2="157.8" stroke="#808080" stroke-width="2.5"/>
<line x1="335.7" y1="144.3" x2="340.6" y2="151.1" stroke="#3a8ae2" stroke-width="2.5"/><line x1="340.6" y1="151.1" x2="345.5" y2="157.8" stroke="#808080" stroke-width="2.5"/>
<line x1="365.1" y1="144.3" x2="355.2" y2="151.1" stroke="#3a8ae2" stroke-width="2.5"/><line x1="355.2" y1="151.1" x2="345.5" y2="157.8" stroke="#808080" stroke-width="2.5"/>
<line x1="365.1" y1="144.3" x2="369.9" y2="151.1" stroke="#3a8ae2" stroke-width="2.5"/><line x1="369.9" y1="151.1" x2="374.8" y2="157.8" stroke="#808080" stroke-width="2.5"/>
<line x1="394.4" y1="144.3" x2="384.6" y2="151.1" stroke="#3a8ae2" stroke-width="2.5"/><line x1="384.6" y1="151.1" x2="374.8" y2="157.8" stroke="#808080" stroke-width="2.5"/>
<line x1="394.4" y1="144.3" x2="399.3" y2="151.1" stroke="#3a8ae2" stroke-width="2.5"/><line x1="399.3" y1="151.1" x2="404.2" y2="157.8" stroke="#808080" stroke-width="2.5"/>
<line x1="423.8" y1="144.3" x2="414.0" y2="151.1" stroke="#3a8ae2" stroke-width="2.5"/><line x1="414.0" y1="151.1" x2="404.2" y2="157.8" stroke="#808080" stroke-width="2.5"/>
<line x1="423.8" y1="144.3" x2="428.6" y2="151.1" stroke="#3a8ae2" stroke-width="2.5"/><line x1="428.6" y1="151.1" x2="433.5" y2="157.8" stroke="#808080" stroke-width="2.5"/>
<line x1="453.1" y1="144.3" x2="443.3" y2="151.1" stroke="#3a8ae2" stroke-width="2.5"/><line x1="443.3" y1="151.1" x2="433.5" y2="157.8" stroke="#808080" stroke-width="2.5"/>
<line x1="453.1" y1="144.3" x2="458.0" y2="151.1" stroke="#3a8ae2" stroke-width="2.5"/><line x1="458.0" y1="151.1" x2="462.9" y2="157.8" stroke="#808080" stroke-width="2.5"/>
<line x1="482.4" y1="144.3" x2="472.6" y2="151.1" stroke="#3a8ae2" stroke-width="2.5"/><line x1="472.6" y1="151.1" x2="462.9" y2="157.8" stroke="#808080" stroke-width="2.5"/>
<line x1="482.4" y1="144.3" x2="487.3" y2="151.1" stroke="#3a8ae2" stroke-width="2.5"/><line x1="487.3" y1="151.1" x2="492.2" y2="157.8" stroke="#808080" stroke-width="2.5"/>
<line x1="511.8" y1="144.3" x2="502.0" y2="151.1" stroke="#3a8ae2" stroke-width="2.5"/><line x1="502.0" y1="151.1" x2="492.2" y2="157.8" stroke="#808080" stroke-width="2.5"/>
<line x1="511.8" y1="144.3" x2="516.7" y2="151.1" stroke="#3a8ae2" stroke-width="2.5"/><line x1="516.7" y1="151.1" x2="521.6" y2="157.8" stroke="#808080" stroke-width="2.5"/>
<line x1="541.1" y1="144.3" x2="531.4" y2="151.1" stroke="#3a8ae2" stroke-width="2.5"/><line x1="531.4" y1="151.1" x2="521.6" y2="157.8" stroke="#808080" stroke-width="2.5"/>
<line x1="541.1" y1="144.3" x2="546.0" y2="151.1" stroke="#3a8ae2" stroke-width="2.5"/><line x1="546.0" y1="151.1" x2="550.9" y2="157.8" stroke="#808080" stroke-width="2.5"/>
<line x1="570.5" y1="144.3" x2="560.7" y2="151.1" stroke="#3a8ae2" stroke-width="2.5"/><line x1="560.7" y1="151.1" x2="550.9" y2="157.8" stroke="#808080" stroke-width="2.5"/>
<line x1="570.5" y1="144.3" x2="575.4" y2="151.1" stroke="#3a8ae2" stroke-width="2.5"/><line x1="575.4" y1="151.1" x2="580.2" y2="157.8" stroke="#808080" stroke-width="2.5"/>
<ellipse cx="355.0" cy="75.4" rx="6.2" ry="7.44" fill="url(#mo)"/>
<ellipse cx="384.4" cy="75.4" rx="6.2" ry="7.44" fill="url(#mo)"/>
<ellipse cx="413.7" cy="75.4" rx="6.2" ry="7.44" fill="url(#mo)"/>
<ellipse cx="443.1" cy="75.4" rx="6.2" ry="7.44" fill="url(#mo)"/>
<ellipse cx="472.4" cy="75.4" rx="6.2" ry="7.44" fill="url(#mo)"/>
<ellipse cx="501.8" cy="75.4" rx="6.2" ry="7.44" fill="url(#mo)"/>
<ellipse cx="531.1" cy="75.4" rx="6.2" ry="7.44" fill="url(#mo)"/>
<ellipse cx="560.5" cy="75.4" rx="6.2" ry="7.44" fill="url(#mo)"/>
<ellipse cx="589.8" cy="75.4" rx="6.2" ry="7.44" fill="url(#mo)"/>
<circle cx="335.4" cy="88.6" r="4.0" fill="url(#cc)"/>
<circle cx="364.8" cy="88.6" r="4.0" fill="url(#cc)"/>
<circle cx="394.1" cy="88.6" r="4.0" fill="url(#cc)"/>
<circle cx="423.4" cy="88.6" r="4.0" fill="url(#cc)"/>
<circle cx="452.8" cy="88.6" r="4.0" fill="url(#cc)"/>
<circle cx="482.1" cy="88.6" r="4.0" fill="url(#cc)"/>
<circle cx="511.5" cy="88.6" r="4.0" fill="url(#cc)"/>
<circle cx="540.9" cy="88.6" r="4.0" fill="url(#cc)"/>
<circle cx="570.2" cy="88.6" r="4.0" fill="url(#cc)"/>
<circle cx="599.5" cy="88.6" r="4.0" fill="url(#cc)"/>
<ellipse cx="345.1" cy="106.9" rx="6.2" ry="7.44" fill="url(#mo)"/>
<ellipse cx="374.5" cy="106.9" rx="6.2" ry="7.44" fill="url(#mo)"/>
<ellipse cx="403.8" cy="106.9" rx="6.2" ry="7.44" fill="url(#mo)"/>
<ellipse cx="433.2" cy="106.9" rx="6.2" ry="7.44" fill="url(#mo)"/>
<ellipse cx="462.5" cy="106.9" rx="6.2" ry="7.44" fill="url(#mo)"/>
<ellipse cx="491.9" cy="106.9" rx="6.2" ry="7.44" fill="url(#mo)"/>
<ellipse cx="521.2" cy="106.9" rx="6.2" ry="7.44" fill="url(#mo)"/>
<ellipse cx="550.6" cy="106.9" rx="6.2" ry="7.44" fill="url(#mo)"/>
<circle cx="325.9" cy="124.6" r="4.0" fill="url(#cc)"/>
<circle cx="355.2" cy="124.6" r="4.0" fill="url(#cc)"/>
<circle cx="384.6" cy="124.6" r="4.0" fill="url(#cc)"/>
<circle cx="413.9" cy="124.6" r="4.0" fill="url(#cc)"/>
<circle cx="443.3" cy="124.6" r="4.0" fill="url(#cc)"/>
<circle cx="472.6" cy="124.6" r="4.0" fill="url(#cc)"/>
<circle cx="502.0" cy="124.6" r="4.0" fill="url(#cc)"/>
<circle cx="531.4" cy="124.6" r="4.0" fill="url(#cc)"/>
<circle cx="560.7" cy="124.6" r="4.0" fill="url(#cc)"/>
<circle cx="590.0" cy="124.6" r="4.0" fill="url(#cc)"/>
<ellipse cx="335.7" cy="144.3" rx="6.2" ry="7.44" fill="url(#mo)"/>
<ellipse cx="365.1" cy="144.3" rx="6.2" ry="7.44" fill="url(#mo)"/>
<ellipse cx="394.4" cy="144.3" rx="6.2" ry="7.44" fill="url(#mo)"/>
<ellipse cx="423.8" cy="144.3" rx="6.2" ry="7.44" fill="url(#mo)"/>
<ellipse cx="453.1" cy="144.3" rx="6.2" ry="7.44" fill="url(#mo)"/>
<ellipse cx="482.4" cy="144.3" rx="6.2" ry="7.44" fill="url(#mo)"/>
<ellipse cx="511.8" cy="144.3" rx="6.2" ry="7.44" fill="url(#mo)"/>
<ellipse cx="541.1" cy="144.3" rx="6.2" ry="7.44" fill="url(#mo)"/>
<ellipse cx="570.5" cy="144.3" rx="6.2" ry="7.44" fill="url(#mo)"/>
<circle cx="316.1" cy="157.8" r="4.0" fill="url(#cc)"/>
<circle cx="345.5" cy="157.8" r="4.0" fill="url(#cc)"/>
<circle cx="374.8" cy="157.8" r="4.0" fill="url(#cc)"/>
<circle cx="404.2" cy="157.8" r="4.0" fill="url(#cc)"/>
<circle cx="433.5" cy="157.8" r="4.0" fill="url(#cc)"/>
<circle cx="462.9" cy="157.8" r="4.0" fill="url(#cc)"/>
<circle cx="492.2" cy="157.8" r="4.0" fill="url(#cc)"/>
<circle cx="521.6" cy="157.8" r="4.0" fill="url(#cc)"/>
<circle cx="550.9" cy="157.8" r="4.0" fill="url(#cc)"/>
<circle cx="580.2" cy="157.8" r="4.0" fill="url(#cc)"/>
<ellipse cx="384.4" cy="65.5" rx="2.7" ry="3.8" fill="#e2e034" opacity="1.0"/>
<ellipse cx="384.4" cy="84.5" rx="3.2" ry="2.6" fill="#e2e034" opacity="1.0"/>
<ellipse cx="378.1" cy="75.5" rx="1.4" ry="2.0" fill="#e2e034" opacity="1.0"/>
<ellipse cx="390.7" cy="75.5" rx="1.4" ry="2.0" fill="#e2e034" opacity="1.0"/>
<ellipse cx="413.7" cy="65.5" rx="2.7" ry="3.8" fill="#e2e034" opacity="1.0"/>
<ellipse cx="413.7" cy="84.5" rx="3.2" ry="2.6" fill="#e2e034" opacity="1.0"/>
<ellipse cx="407.4" cy="75.5" rx="1.4" ry="2.0" fill="#e2e034" opacity="1.0"/>
<ellipse cx="420.0" cy="75.5" rx="1.4" ry="2.0" fill="#e2e034" opacity="1.0"/>
<ellipse cx="443.1" cy="65.5" rx="2.7" ry="3.8" fill="#e2e034" opacity="1.0"/>
<ellipse cx="443.1" cy="84.5" rx="3.2" ry="2.6" fill="#e2e034" opacity="1.0"/>
<ellipse cx="436.8" cy="75.5" rx="1.4" ry="2.0" fill="#e2e034" opacity="1.0"/>
<ellipse cx="449.4" cy="75.5" rx="1.4" ry="2.0" fill="#e2e034" opacity="1.0"/>
<ellipse cx="472.4" cy="65.5" rx="2.7" ry="3.8" fill="#e2e034" opacity="1.0"/>
<ellipse cx="472.4" cy="84.5" rx="3.2" ry="2.6" fill="#e2e034" opacity="1.0"/>
<ellipse cx="466.1" cy="75.5" rx="1.4" ry="2.0" fill="#e2e034" opacity="1.0"/>
<ellipse cx="478.7" cy="75.5" rx="1.4" ry="2.0" fill="#e2e034" opacity="1.0"/>
<ellipse cx="531.1" cy="65.5" rx="2.7" ry="3.8" fill="#e2e034" opacity="1.0"/>
<ellipse cx="531.1" cy="84.5" rx="3.2" ry="2.6" fill="#e2e034" opacity="1.0"/>
<ellipse cx="524.8" cy="75.5" rx="1.4" ry="2.0" fill="#e2e034" opacity="1.0"/>
<ellipse cx="537.4" cy="75.5" rx="1.4" ry="2.0" fill="#e2e034" opacity="1.0"/>
<ellipse cx="560.5" cy="65.5" rx="2.7" ry="3.8" fill="#e2e034" opacity="1.0"/>
<ellipse cx="560.5" cy="84.5" rx="3.2" ry="2.6" fill="#e2e034" opacity="1.0"/>
<ellipse cx="554.2" cy="75.5" rx="1.4" ry="2.0" fill="#e2e034" opacity="1.0"/>
<ellipse cx="566.8" cy="75.5" rx="1.4" ry="2.0" fill="#e2e034" opacity="1.0"/>
<ellipse cx="589.8" cy="65.5" rx="2.7" ry="3.8" fill="#e2e034" opacity="1.0"/>
<ellipse cx="589.8" cy="84.5" rx="3.2" ry="2.6" fill="#e2e034" opacity="1.0"/>
<ellipse cx="583.5" cy="75.5" rx="1.4" ry="2.0" fill="#e2e034" opacity="1.0"/>
<ellipse cx="596.1" cy="75.5" rx="1.4" ry="2.0" fill="#e2e034" opacity="1.0"/>
<ellipse cx="185.5" cy="309.0" rx="10.0" ry="9.0" fill="#7c7cd4" opacity="0.95"/>
<ellipse cx="188.5" cy="316.0" rx="6.0" ry="4.5" fill="#e2e034" opacity="1.0"/>
<ellipse cx="180.5" cy="312.0" rx="3.0" ry="4.0" fill="#e2e034" opacity="1.0"/>
<ellipse cx="215.0" cy="310.0" rx="10.0" ry="9.0" fill="#7c7cd4" opacity="0.95"/>
<ellipse cx="218.0" cy="317.0" rx="6.0" ry="4.5" fill="#e2e034" opacity="1.0"/>
<ellipse cx="210.0" cy="313.0" rx="3.0" ry="4.0" fill="#e2e034" opacity="1.0"/>
<ellipse cx="245.0" cy="310.0" rx="10.0" ry="9.0" fill="#7c7cd4" opacity="0.95"/>
<ellipse cx="248.0" cy="317.0" rx="6.0" ry="4.5" fill="#e2e034" opacity="1.0"/>
<ellipse cx="240.0" cy="313.0" rx="3.0" ry="4.0" fill="#e2e034" opacity="1.0"/>
<ellipse cx="125.5" cy="297.0" rx="4.5" ry="3.5" fill="#7c7cd4" opacity="0.8"/>
<ellipse cx="129.0" cy="313.0" rx="4.5" ry="3.5" fill="#e2e034" opacity="1.0"/>
<ellipse cx="162.0" cy="318.0" rx="3.0" ry="3.0" fill="#e2e034" opacity="1.0"/>
<ellipse cx="473.0" cy="306.0" rx="10.0" ry="9.0" fill="#e2e034" opacity="1.0"/>
<ellipse cx="476.0" cy="311.0" rx="6.0" ry="4.0" fill="#7c7cd4" opacity="0.85"/>
<ellipse cx="467.0" cy="302.0" rx="4.0" ry="3.0" fill="#7c7cd4" opacity="0.85"/>
<ellipse cx="503.0" cy="307.0" rx="10.0" ry="9.0" fill="#e2e034" opacity="1.0"/>
<ellipse cx="506.0" cy="312.0" rx="6.0" ry="4.0" fill="#7c7cd4" opacity="0.85"/>
<ellipse cx="497.0" cy="303.0" rx="4.0" ry="3.0" fill="#7c7cd4" opacity="0.85"/>
<ellipse cx="533.0" cy="306.0" rx="10.0" ry="9.0" fill="#e2e034" opacity="1.0"/>
<ellipse cx="536.0" cy="311.0" rx="6.0" ry="4.0" fill="#7c7cd4" opacity="0.85"/>
<ellipse cx="527.0" cy="302.0" rx="4.0" ry="3.0" fill="#7c7cd4" opacity="0.85"/>
<ellipse cx="446.0" cy="308.0" rx="3.5" ry="6.0" fill="#e2e034" opacity="1.0"/>
<ellipse cx="398.0" cy="327.0" rx="8.0" ry="6.0" fill="#e2e034" opacity="1.0"/>
<ellipse cx="428.0" cy="332.0" rx="6.0" ry="8.0" fill="#e2e034" opacity="1.0"/>
<ellipse cx="425.0" cy="342.0" rx="6.0" ry="5.0" fill="#7c7cd4" opacity="0.9"/>
<line x1="35.8" y1="305.0" x2="45.5" y2="311.8" stroke="#3a8ae2" stroke-width="2.5"/><line x1="45.5" y1="311.8" x2="55.3" y2="318.6" stroke="#808080" stroke-width="2.5"/>
<line x1="65.7" y1="305.0" x2="60.5" y2="311.8" stroke="#3a8ae2" stroke-width="2.5"/><line x1="60.5" y1="311.8" x2="55.3" y2="318.6" stroke="#808080" stroke-width="2.5"/>
<line x1="65.7" y1="305.0" x2="75.4" y2="311.8" stroke="#3a8ae2" stroke-width="2.5"/><line x1="75.4" y1="311.8" x2="85.2" y2="318.6" stroke="#808080" stroke-width="2.5"/>
<line x1="95.6" y1="305.0" x2="90.4" y2="311.8" stroke="#3a8ae2" stroke-width="2.5"/><line x1="90.4" y1="311.8" x2="85.2" y2="318.6" stroke="#808080" stroke-width="2.5"/>
<line x1="95.6" y1="305.0" x2="105.3" y2="311.8" stroke="#3a8ae2" stroke-width="2.5"/><line x1="105.3" y1="311.8" x2="115.1" y2="318.6" stroke="#808080" stroke-width="2.5"/>
<line x1="125.5" y1="305.0" x2="120.3" y2="311.8" stroke="#3a8ae2" stroke-width="2.5"/><line x1="120.3" y1="311.8" x2="115.1" y2="318.6" stroke="#808080" stroke-width="2.5"/>
<line x1="125.5" y1="305.0" x2="135.2" y2="311.8" stroke="#3a8ae2" stroke-width="2.5"/><line x1="135.2" y1="311.8" x2="145.0" y2="318.6" stroke="#808080" stroke-width="2.5"/>
<line x1="155.4" y1="305.0" x2="150.2" y2="311.8" stroke="#3a8ae2" stroke-width="2.5"/><line x1="150.2" y1="311.8" x2="145.0" y2="318.6" stroke="#808080" stroke-width="2.5"/>
<line x1="155.4" y1="305.0" x2="165.1" y2="311.8" stroke="#3a8ae2" stroke-width="2.5"/><line x1="165.1" y1="311.8" x2="174.9" y2="318.6" stroke="#808080" stroke-width="2.5"/>
<line x1="185.3" y1="305.0" x2="180.1" y2="311.8" stroke="#3a8ae2" stroke-width="2.5"/><line x1="180.1" y1="311.8" x2="174.9" y2="318.6" stroke="#808080" stroke-width="2.5"/>
<line x1="185.3" y1="305.0" x2="195.1" y2="311.8" stroke="#3a8ae2" stroke-width="2.5"/><line x1="195.1" y1="311.8" x2="204.8" y2="318.6" stroke="#808080" stroke-width="2.5"/>
<line x1="215.2" y1="305.0" x2="210.0" y2="311.8" stroke="#3a8ae2" stroke-width="2.5"/><line x1="210.0" y1="311.8" x2="204.8" y2="318.6" stroke="#808080" stroke-width="2.5"/>
<line x1="215.2" y1="305.0" x2="224.9" y2="311.8" stroke="#3a8ae2" stroke-width="2.5"/><line x1="224.9" y1="311.8" x2="234.7" y2="318.6" stroke="#808080" stroke-width="2.5"/>
<line x1="245.1" y1="305.0" x2="239.9" y2="311.8" stroke="#3a8ae2" stroke-width="2.5"/><line x1="239.9" y1="311.8" x2="234.7" y2="318.6" stroke="#808080" stroke-width="2.5"/>
<line x1="245.1" y1="305.0" x2="254.8" y2="311.8" stroke="#3a8ae2" stroke-width="2.5"/><line x1="254.8" y1="311.8" x2="264.6" y2="318.6" stroke="#808080" stroke-width="2.5"/>
<line x1="275.0" y1="305.0" x2="269.8" y2="311.8" stroke="#3a8ae2" stroke-width="2.5"/><line x1="269.8" y1="311.8" x2="264.6" y2="318.6" stroke="#808080" stroke-width="2.5"/>
<line x1="275.0" y1="305.0" x2="284.8" y2="311.8" stroke="#3a8ae2" stroke-width="2.5"/><line x1="284.8" y1="311.8" x2="294.5" y2="318.6" stroke="#808080" stroke-width="2.5"/>
<line x1="55.3" y1="318.6" x2="65.6" y2="327.7" stroke="#808080" stroke-width="2.5"/><line x1="65.6" y1="327.7" x2="75.9" y2="336.8" stroke="#3a8ae2" stroke-width="2.5"/>
<line x1="85.2" y1="318.6" x2="80.5" y2="327.7" stroke="#808080" stroke-width="2.5"/><line x1="80.5" y1="327.7" x2="75.9" y2="336.8" stroke="#3a8ae2" stroke-width="2.5"/>
<line x1="85.2" y1="318.6" x2="95.5" y2="327.7" stroke="#808080" stroke-width="2.5"/><line x1="95.5" y1="327.7" x2="105.8" y2="336.8" stroke="#3a8ae2" stroke-width="2.5"/>
<line x1="115.1" y1="318.6" x2="110.5" y2="327.7" stroke="#808080" stroke-width="2.5"/><line x1="110.5" y1="327.7" x2="105.8" y2="336.8" stroke="#3a8ae2" stroke-width="2.5"/>
<line x1="115.1" y1="318.6" x2="125.4" y2="327.7" stroke="#808080" stroke-width="2.5"/><line x1="125.4" y1="327.7" x2="135.7" y2="336.8" stroke="#3a8ae2" stroke-width="2.5"/>
<line x1="145.0" y1="318.6" x2="140.3" y2="327.7" stroke="#808080" stroke-width="2.5"/><line x1="140.3" y1="327.7" x2="135.7" y2="336.8" stroke="#3a8ae2" stroke-width="2.5"/>
<line x1="145.0" y1="318.6" x2="155.3" y2="327.7" stroke="#808080" stroke-width="2.5"/><line x1="155.3" y1="327.7" x2="165.6" y2="336.8" stroke="#3a8ae2" stroke-width="2.5"/>
<line x1="174.9" y1="318.6" x2="170.2" y2="327.7" stroke="#808080" stroke-width="2.5"/><line x1="170.2" y1="327.7" x2="165.6" y2="336.8" stroke="#3a8ae2" stroke-width="2.5"/>
<line x1="174.9" y1="318.6" x2="185.2" y2="327.7" stroke="#808080" stroke-width="2.5"/><line x1="185.2" y1="327.7" x2="195.5" y2="336.8" stroke="#3a8ae2" stroke-width="2.5"/>
<line x1="204.8" y1="318.6" x2="200.2" y2="327.7" stroke="#808080" stroke-width="2.5"/><line x1="200.2" y1="327.7" x2="195.5" y2="336.8" stroke="#3a8ae2" stroke-width="2.5"/>
<line x1="204.8" y1="318.6" x2="215.1" y2="327.7" stroke="#808080" stroke-width="2.5"/><line x1="215.1" y1="327.7" x2="225.4" y2="336.8" stroke="#3a8ae2" stroke-width="2.5"/>
<line x1="234.7" y1="318.6" x2="230.1" y2="327.7" stroke="#808080" stroke-width="2.5"/><line x1="230.1" y1="327.7" x2="225.4" y2="336.8" stroke="#3a8ae2" stroke-width="2.5"/>
<line x1="234.7" y1="318.6" x2="245.0" y2="327.7" stroke="#808080" stroke-width="2.5"/><line x1="245.0" y1="327.7" x2="255.3" y2="336.8" stroke="#3a8ae2" stroke-width="2.5"/>
<line x1="264.6" y1="318.6" x2="259.9" y2="327.7" stroke="#808080" stroke-width="2.5"/><line x1="259.9" y1="327.7" x2="255.3" y2="336.8" stroke="#3a8ae2" stroke-width="2.5"/>
<line x1="75.9" y1="336.8" x2="70.8" y2="345.8" stroke="#3a8ae2" stroke-width="2.5"/><line x1="70.8" y1="345.8" x2="65.7" y2="354.7" stroke="#808080" stroke-width="2.5"/>
<line x1="75.9" y1="336.8" x2="85.8" y2="345.8" stroke="#3a8ae2" stroke-width="2.5"/><line x1="85.8" y1="345.8" x2="95.6" y2="354.7" stroke="#808080" stroke-width="2.5"/>
<line x1="105.8" y1="336.8" x2="100.7" y2="345.8" stroke="#3a8ae2" stroke-width="2.5"/><line x1="100.7" y1="345.8" x2="95.6" y2="354.7" stroke="#808080" stroke-width="2.5"/>
<line x1="105.8" y1="336.8" x2="115.7" y2="345.8" stroke="#3a8ae2" stroke-width="2.5"/><line x1="115.7" y1="345.8" x2="125.5" y2="354.7" stroke="#808080" stroke-width="2.5"/>
<line x1="135.7" y1="336.8" x2="130.6" y2="345.8" stroke="#3a8ae2" stroke-width="2.5"/><line x1="130.6" y1="345.8" x2="125.5" y2="354.7" stroke="#808080" stroke-width="2.5"/>
<line x1="135.7" y1="336.8" x2="145.5" y2="345.8" stroke="#3a8ae2" stroke-width="2.5"/><line x1="145.5" y1="345.8" x2="155.4" y2="354.7" stroke="#808080" stroke-width="2.5"/>
<line x1="165.6" y1="336.8" x2="160.5" y2="345.8" stroke="#3a8ae2" stroke-width="2.5"/><line x1="160.5" y1="345.8" x2="155.4" y2="354.7" stroke="#808080" stroke-width="2.5"/>
<line x1="165.6" y1="336.8" x2="175.4" y2="345.8" stroke="#3a8ae2" stroke-width="2.5"/><line x1="175.4" y1="345.8" x2="185.3" y2="354.7" stroke="#808080" stroke-width="2.5"/>
<line x1="195.5" y1="336.8" x2="190.4" y2="345.8" stroke="#3a8ae2" stroke-width="2.5"/><line x1="190.4" y1="345.8" x2="185.3" y2="354.7" stroke="#808080" stroke-width="2.5"/>
<line x1="195.5" y1="336.8" x2="205.3" y2="345.8" stroke="#3a8ae2" stroke-width="2.5"/><line x1="205.3" y1="345.8" x2="215.2" y2="354.7" stroke="#808080" stroke-width="2.5"/>
<line x1="225.4" y1="336.8" x2="220.3" y2="345.8" stroke="#3a8ae2" stroke-width="2.5"/><line x1="220.3" y1="345.8" x2="215.2" y2="354.7" stroke="#808080" stroke-width="2.5"/>
<line x1="225.4" y1="336.8" x2="235.2" y2="345.8" stroke="#3a8ae2" stroke-width="2.5"/><line x1="235.2" y1="345.8" x2="245.1" y2="354.7" stroke="#808080" stroke-width="2.5"/>
<line x1="255.3" y1="336.8" x2="250.2" y2="345.8" stroke="#3a8ae2" stroke-width="2.5"/><line x1="250.2" y1="345.8" x2="245.1" y2="354.7" stroke="#808080" stroke-width="2.5"/>
<line x1="255.3" y1="336.8" x2="265.1" y2="345.8" stroke="#3a8ae2" stroke-width="2.5"/><line x1="265.1" y1="345.8" x2="275.0" y2="354.7" stroke="#808080" stroke-width="2.5"/>
<line x1="35.8" y1="354.7" x2="45.5" y2="364.5" stroke="#808080" stroke-width="2.5"/><line x1="45.5" y1="364.5" x2="55.3" y2="374.4" stroke="#3a8ae2" stroke-width="2.5"/>
<line x1="65.7" y1="354.7" x2="60.5" y2="364.5" stroke="#808080" stroke-width="2.5"/><line x1="60.5" y1="364.5" x2="55.3" y2="374.4" stroke="#3a8ae2" stroke-width="2.5"/>
<line x1="65.7" y1="354.7" x2="75.4" y2="364.5" stroke="#808080" stroke-width="2.5"/><line x1="75.4" y1="364.5" x2="85.2" y2="374.4" stroke="#3a8ae2" stroke-width="2.5"/>
<line x1="95.6" y1="354.7" x2="90.4" y2="364.5" stroke="#808080" stroke-width="2.5"/><line x1="90.4" y1="364.5" x2="85.2" y2="374.4" stroke="#3a8ae2" stroke-width="2.5"/>
<line x1="95.6" y1="354.7" x2="105.3" y2="364.5" stroke="#808080" stroke-width="2.5"/><line x1="105.3" y1="364.5" x2="115.1" y2="374.4" stroke="#3a8ae2" stroke-width="2.5"/>
<line x1="125.5" y1="354.7" x2="120.3" y2="364.5" stroke="#808080" stroke-width="2.5"/><line x1="120.3" y1="364.5" x2="115.1" y2="374.4" stroke="#3a8ae2" stroke-width="2.5"/>
<line x1="125.5" y1="354.7" x2="135.2" y2="364.5" stroke="#808080" stroke-width="2.5"/><line x1="135.2" y1="364.5" x2="145.0" y2="374.4" stroke="#3a8ae2" stroke-width="2.5"/>
<line x1="155.4" y1="354.7" x2="150.2" y2="364.5" stroke="#808080" stroke-width="2.5"/><line x1="150.2" y1="364.5" x2="145.0" y2="374.4" stroke="#3a8ae2" stroke-width="2.5"/>
<line x1="155.4" y1="354.7" x2="165.1" y2="364.5" stroke="#808080" stroke-width="2.5"/><line x1="165.1" y1="364.5" x2="174.9" y2="374.4" stroke="#3a8ae2" stroke-width="2.5"/>
<line x1="185.3" y1="354.7" x2="180.1" y2="364.5" stroke="#808080" stroke-width="2.5"/><line x1="180.1" y1="364.5" x2="174.9" y2="374.4" stroke="#3a8ae2" stroke-width="2.5"/>
<line x1="185.3" y1="354.7" x2="195.1" y2="364.5" stroke="#808080" stroke-width="2.5"/><line x1="195.1" y1="364.5" x2="204.8" y2="374.4" stroke="#3a8ae2" stroke-width="2.5"/>
<line x1="215.2" y1="354.7" x2="210.0" y2="364.5" stroke="#808080" stroke-width="2.5"/><line x1="210.0" y1="364.5" x2="204.8" y2="374.4" stroke="#3a8ae2" stroke-width="2.5"/>
<line x1="215.2" y1="354.7" x2="224.9" y2="364.5" stroke="#808080" stroke-width="2.5"/><line x1="224.9" y1="364.5" x2="234.7" y2="374.4" stroke="#3a8ae2" stroke-width="2.5"/>
<line x1="245.1" y1="354.7" x2="239.9" y2="364.5" stroke="#808080" stroke-width="2.5"/><line x1="239.9" y1="364.5" x2="234.7" y2="374.4" stroke="#3a8ae2" stroke-width="2.5"/>
<line x1="245.1" y1="354.7" x2="254.8" y2="364.5" stroke="#808080" stroke-width="2.5"/><line x1="254.8" y1="364.5" x2="264.6" y2="374.4" stroke="#3a8ae2" stroke-width="2.5"/>
<line x1="275.0" y1="354.7" x2="269.8" y2="364.5" stroke="#808080" stroke-width="2.5"/><line x1="269.8" y1="364.5" x2="264.6" y2="374.4" stroke="#3a8ae2" stroke-width="2.5"/>
<line x1="275.0" y1="354.7" x2="284.8" y2="364.5" stroke="#808080" stroke-width="2.5"/><line x1="284.8" y1="364.5" x2="294.5" y2="374.4" stroke="#3a8ae2" stroke-width="2.5"/>
<line x1="55.3" y1="374.4" x2="50.5" y2="381.4" stroke="#3a8ae2" stroke-width="2.5"/><line x1="50.5" y1="381.4" x2="45.6" y2="388.3" stroke="#808080" stroke-width="2.5"/>
<line x1="55.3" y1="374.4" x2="65.4" y2="381.4" stroke="#3a8ae2" stroke-width="2.5"/><line x1="65.4" y1="381.4" x2="75.5" y2="388.3" stroke="#808080" stroke-width="2.5"/>
<line x1="85.2" y1="374.4" x2="80.3" y2="381.4" stroke="#3a8ae2" stroke-width="2.5"/><line x1="80.3" y1="381.4" x2="75.5" y2="388.3" stroke="#808080" stroke-width="2.5"/>
<line x1="85.2" y1="374.4" x2="95.3" y2="381.4" stroke="#3a8ae2" stroke-width="2.5"/><line x1="95.3" y1="381.4" x2="105.4" y2="388.3" stroke="#808080" stroke-width="2.5"/>
<line x1="115.1" y1="374.4" x2="110.2" y2="381.4" stroke="#3a8ae2" stroke-width="2.5"/><line x1="110.2" y1="381.4" x2="105.4" y2="388.3" stroke="#808080" stroke-width="2.5"/>
<line x1="115.1" y1="374.4" x2="125.2" y2="381.4" stroke="#3a8ae2" stroke-width="2.5"/><line x1="125.2" y1="381.4" x2="135.3" y2="388.3" stroke="#808080" stroke-width="2.5"/>
<line x1="145.0" y1="374.4" x2="140.1" y2="381.4" stroke="#3a8ae2" stroke-width="2.5"/><line x1="140.1" y1="381.4" x2="135.3" y2="388.3" stroke="#808080" stroke-width="2.5"/>
<line x1="145.0" y1="374.4" x2="155.1" y2="381.4" stroke="#3a8ae2" stroke-width="2.5"/><line x1="155.1" y1="381.4" x2="165.2" y2="388.3" stroke="#808080" stroke-width="2.5"/>
<line x1="174.9" y1="374.4" x2="170.0" y2="381.4" stroke="#3a8ae2" stroke-width="2.5"/><line x1="170.0" y1="381.4" x2="165.2" y2="388.3" stroke="#808080" stroke-width="2.5"/>
<line x1="174.9" y1="374.4" x2="185.0" y2="381.4" stroke="#3a8ae2" stroke-width="2.5"/><line x1="185.0" y1="381.4" x2="195.1" y2="388.3" stroke="#808080" stroke-width="2.5"/>
<line x1="204.8" y1="374.4" x2="199.9" y2="381.4" stroke="#3a8ae2" stroke-width="2.5"/><line x1="199.9" y1="381.4" x2="195.1" y2="388.3" stroke="#808080" stroke-width="2.5"/>
<line x1="204.8" y1="374.4" x2="214.9" y2="381.4" stroke="#3a8ae2" stroke-width="2.5"/><line x1="214.9" y1="381.4" x2="225.0" y2="388.3" stroke="#808080" stroke-width="2.5"/>
<line x1="234.7" y1="374.4" x2="229.8" y2="381.4" stroke="#3a8ae2" stroke-width="2.5"/><line x1="229.8" y1="381.4" x2="225.0" y2="388.3" stroke="#808080" stroke-width="2.5"/>
<line x1="234.7" y1="374.4" x2="244.8" y2="381.4" stroke="#3a8ae2" stroke-width="2.5"/><line x1="244.8" y1="381.4" x2="254.9" y2="388.3" stroke="#808080" stroke-width="2.5"/>
<line x1="264.6" y1="374.4" x2="259.8" y2="381.4" stroke="#3a8ae2" stroke-width="2.5"/><line x1="259.8" y1="381.4" x2="254.9" y2="388.3" stroke="#808080" stroke-width="2.5"/>
<line x1="264.6" y1="374.4" x2="274.7" y2="381.4" stroke="#3a8ae2" stroke-width="2.5"/><line x1="274.7" y1="381.4" x2="284.8" y2="388.3" stroke="#808080" stroke-width="2.5"/>
<line x1="294.5" y1="374.4" x2="289.6" y2="381.4" stroke="#3a8ae2" stroke-width="2.5"/><line x1="289.6" y1="381.4" x2="284.8" y2="388.3" stroke="#808080" stroke-width="2.5"/>
<ellipse cx="35.8" cy="305.0" rx="6.2" ry="7.44" fill="url(#mo)"/>
<ellipse cx="65.7" cy="305.0" rx="6.2" ry="7.44" fill="url(#mo)"/>
<ellipse cx="95.6" cy="305.0" rx="6.2" ry="7.44" fill="url(#mo)"/>
<ellipse cx="125.5" cy="305.0" rx="6.2" ry="7.44" fill="url(#mo)"/>
<ellipse cx="155.4" cy="305.0" rx="6.2" ry="7.44" fill="url(#mo)"/>
<ellipse cx="185.3" cy="305.0" rx="6.2" ry="7.44" fill="url(#mo)"/>
<ellipse cx="215.2" cy="305.0" rx="6.2" ry="7.44" fill="url(#mo)"/>
<ellipse cx="245.1" cy="305.0" rx="6.2" ry="7.44" fill="url(#mo)"/>
<ellipse cx="275.0" cy="305.0" rx="6.2" ry="7.44" fill="url(#mo)"/>
<circle cx="55.3" cy="318.6" r="4.0" fill="url(#cc)"/>
<circle cx="85.2" cy="318.6" r="4.0" fill="url(#cc)"/>
<circle cx="115.1" cy="318.6" r="4.0" fill="url(#cc)"/>
<circle cx="145.0" cy="318.6" r="4.0" fill="url(#cc)"/>
<circle cx="174.9" cy="318.6" r="4.0" fill="url(#cc)"/>
<circle cx="204.8" cy="318.6" r="4.0" fill="url(#cc)"/>
<circle cx="234.7" cy="318.6" r="4.0" fill="url(#cc)"/>
<circle cx="264.6" cy="318.6" r="4.0" fill="url(#cc)"/>
<circle cx="294.5" cy="318.6" r="4.0" fill="url(#cc)"/>
<ellipse cx="75.9" cy="336.8" rx="6.2" ry="7.44" fill="url(#mo)"/>
<ellipse cx="105.8" cy="336.8" rx="6.2" ry="7.44" fill="url(#mo)"/>
<ellipse cx="135.7" cy="336.8" rx="6.2" ry="7.44" fill="url(#mo)"/>
<ellipse cx="165.6" cy="336.8" rx="6.2" ry="7.44" fill="url(#mo)"/>
<ellipse cx="195.5" cy="336.8" rx="6.2" ry="7.44" fill="url(#mo)"/>
<ellipse cx="225.4" cy="336.8" rx="6.2" ry="7.44" fill="url(#mo)"/>
<ellipse cx="255.3" cy="336.8" rx="6.2" ry="7.44" fill="url(#mo)"/>
<circle cx="35.8" cy="354.7" r="4.0" fill="url(#cc)"/>
<circle cx="65.7" cy="354.7" r="4.0" fill="url(#cc)"/>
<circle cx="95.6" cy="354.7" r="4.0" fill="url(#cc)"/>
<circle cx="125.5" cy="354.7" r="4.0" fill="url(#cc)"/>
<circle cx="155.4" cy="354.7" r="4.0" fill="url(#cc)"/>
<circle cx="185.3" cy="354.7" r="4.0" fill="url(#cc)"/>
<circle cx="215.2" cy="354.7" r="4.0" fill="url(#cc)"/>
<circle cx="245.1" cy="354.7" r="4.0" fill="url(#cc)"/>
<circle cx="275.0" cy="354.7" r="4.0" fill="url(#cc)"/>
<ellipse cx="55.3" cy="374.4" rx="6.2" ry="7.44" fill="url(#mo)"/>
<ellipse cx="85.2" cy="374.4" rx="6.2" ry="7.44" fill="url(#mo)"/>
<ellipse cx="115.1" cy="374.4" rx="6.2" ry="7.44" fill="url(#mo)"/>
<ellipse cx="145.0" cy="374.4" rx="6.2" ry="7.44" fill="url(#mo)"/>
<ellipse cx="174.9" cy="374.4" rx="6.2" ry="7.44" fill="url(#mo)"/>
<ellipse cx="204.8" cy="374.4" rx="6.2" ry="7.44" fill="url(#mo)"/>
<ellipse cx="234.7" cy="374.4" rx="6.2" ry="7.44" fill="url(#mo)"/>
<ellipse cx="264.6" cy="374.4" rx="6.2" ry="7.44" fill="url(#mo)"/>
<ellipse cx="294.5" cy="374.4" rx="6.2" ry="7.44" fill="url(#mo)"/>
<circle cx="45.6" cy="388.3" r="4.0" fill="url(#cc)"/>
<circle cx="75.5" cy="388.3" r="4.0" fill="url(#cc)"/>
<circle cx="105.4" cy="388.3" r="4.0" fill="url(#cc)"/>
<circle cx="135.3" cy="388.3" r="4.0" fill="url(#cc)"/>
<circle cx="165.2" cy="388.3" r="4.0" fill="url(#cc)"/>
<circle cx="195.1" cy="388.3" r="4.0" fill="url(#cc)"/>
<circle cx="225.0" cy="388.3" r="4.0" fill="url(#cc)"/>
<circle cx="254.9" cy="388.3" r="4.0" fill="url(#cc)"/>
<circle cx="284.8" cy="388.3" r="4.0" fill="url(#cc)"/>
<line x1="323.2" y1="300.8" x2="333.0" y2="307.9" stroke="#3a8ae2" stroke-width="2.5"/><line x1="333.0" y1="307.9" x2="342.8" y2="315.0" stroke="#808080" stroke-width="2.5"/>
<line x1="352.9" y1="300.8" x2="347.9" y2="307.9" stroke="#3a8ae2" stroke-width="2.5"/><line x1="347.9" y1="307.9" x2="342.8" y2="315.0" stroke="#808080" stroke-width="2.5"/>
<line x1="352.9" y1="300.8" x2="362.7" y2="307.9" stroke="#3a8ae2" stroke-width="2.5"/><line x1="362.7" y1="307.9" x2="372.5" y2="315.0" stroke="#808080" stroke-width="2.5"/>
<line x1="382.6" y1="300.8" x2="377.5" y2="307.9" stroke="#3a8ae2" stroke-width="2.5"/><line x1="377.5" y1="307.9" x2="372.5" y2="315.0" stroke="#808080" stroke-width="2.5"/>
<line x1="382.6" y1="300.8" x2="392.4" y2="307.9" stroke="#3a8ae2" stroke-width="2.5"/><line x1="392.4" y1="307.9" x2="402.2" y2="315.0" stroke="#808080" stroke-width="2.5"/>
<line x1="412.3" y1="300.8" x2="407.2" y2="307.9" stroke="#3a8ae2" stroke-width="2.5"/><line x1="407.2" y1="307.9" x2="402.2" y2="315.0" stroke="#808080" stroke-width="2.5"/>
<line x1="412.3" y1="300.8" x2="422.1" y2="307.9" stroke="#3a8ae2" stroke-width="2.5"/><line x1="422.1" y1="307.9" x2="431.9" y2="315.0" stroke="#808080" stroke-width="2.5"/>
<line x1="442.0" y1="300.8" x2="436.9" y2="307.9" stroke="#3a8ae2" stroke-width="2.5"/><line x1="436.9" y1="307.9" x2="431.9" y2="315.0" stroke="#808080" stroke-width="2.5"/>
<line x1="442.0" y1="300.8" x2="451.8" y2="307.9" stroke="#3a8ae2" stroke-width="2.5"/><line x1="451.8" y1="307.9" x2="461.6" y2="315.0" stroke="#808080" stroke-width="2.5"/>
<line x1="471.7" y1="300.8" x2="466.6" y2="307.9" stroke="#3a8ae2" stroke-width="2.5"/><line x1="466.6" y1="307.9" x2="461.6" y2="315.0" stroke="#808080" stroke-width="2.5"/>
<line x1="471.7" y1="300.8" x2="481.5" y2="307.9" stroke="#3a8ae2" stroke-width="2.5"/><line x1="481.5" y1="307.9" x2="491.3" y2="315.0" stroke="#808080" stroke-width="2.5"/>
<line x1="501.4" y1="300.8" x2="496.4" y2="307.9" stroke="#3a8ae2" stroke-width="2.5"/><line x1="496.4" y1="307.9" x2="491.3" y2="315.0" stroke="#808080" stroke-width="2.5"/>
<line x1="501.4" y1="300.8" x2="511.2" y2="307.9" stroke="#3a8ae2" stroke-width="2.5"/><line x1="511.2" y1="307.9" x2="521.0" y2="315.0" stroke="#808080" stroke-width="2.5"/>
<line x1="531.1" y1="300.8" x2="526.0" y2="307.9" stroke="#3a8ae2" stroke-width="2.5"/><line x1="526.0" y1="307.9" x2="521.0" y2="315.0" stroke="#808080" stroke-width="2.5"/>
<line x1="531.1" y1="300.8" x2="540.9" y2="307.9" stroke="#3a8ae2" stroke-width="2.5"/><line x1="540.9" y1="307.9" x2="550.7" y2="315.0" stroke="#808080" stroke-width="2.5"/>
<line x1="560.8" y1="300.8" x2="555.8" y2="307.9" stroke="#3a8ae2" stroke-width="2.5"/><line x1="555.8" y1="307.9" x2="550.7" y2="315.0" stroke="#808080" stroke-width="2.5"/>
<line x1="560.8" y1="300.8" x2="570.6" y2="307.9" stroke="#3a8ae2" stroke-width="2.5"/><line x1="570.6" y1="307.9" x2="580.4" y2="315.0" stroke="#808080" stroke-width="2.5"/>
<line x1="342.8" y1="315.0" x2="352.9" y2="323.9" stroke="#808080" stroke-width="2.5"/><line x1="352.9" y1="323.9" x2="363.0" y2="332.8" stroke="#3a8ae2" stroke-width="2.5"/>
<line x1="372.5" y1="315.0" x2="367.8" y2="323.9" stroke="#808080" stroke-width="2.5"/><line x1="367.8" y1="323.9" x2="363.0" y2="332.8" stroke="#3a8ae2" stroke-width="2.5"/>
<line x1="372.5" y1="315.0" x2="382.6" y2="323.9" stroke="#808080" stroke-width="2.5"/><line x1="382.6" y1="323.9" x2="392.7" y2="332.8" stroke="#3a8ae2" stroke-width="2.5"/>
<line x1="402.2" y1="315.0" x2="397.4" y2="323.9" stroke="#808080" stroke-width="2.5"/><line x1="397.4" y1="323.9" x2="392.7" y2="332.8" stroke="#3a8ae2" stroke-width="2.5"/>
<line x1="402.2" y1="315.0" x2="412.3" y2="323.9" stroke="#808080" stroke-width="2.5"/><line x1="412.3" y1="323.9" x2="422.4" y2="332.8" stroke="#3a8ae2" stroke-width="2.5"/>
<line x1="431.9" y1="315.0" x2="427.1" y2="323.9" stroke="#808080" stroke-width="2.5"/><line x1="427.1" y1="323.9" x2="422.4" y2="332.8" stroke="#3a8ae2" stroke-width="2.5"/>
<line x1="431.9" y1="315.0" x2="442.0" y2="323.9" stroke="#808080" stroke-width="2.5"/><line x1="442.0" y1="323.9" x2="452.1" y2="332.8" stroke="#3a8ae2" stroke-width="2.5"/>
<line x1="461.6" y1="315.0" x2="456.9" y2="323.9" stroke="#808080" stroke-width="2.5"/><line x1="456.9" y1="323.9" x2="452.1" y2="332.8" stroke="#3a8ae2" stroke-width="2.5"/>
<line x1="461.6" y1="315.0" x2="471.7" y2="323.9" stroke="#808080" stroke-width="2.5"/><line x1="471.7" y1="323.9" x2="481.8" y2="332.8" stroke="#3a8ae2" stroke-width="2.5"/>
<line x1="491.3" y1="315.0" x2="486.6" y2="323.9" stroke="#808080" stroke-width="2.5"/><line x1="486.6" y1="323.9" x2="481.8" y2="332.8" stroke="#3a8ae2" stroke-width="2.5"/>
<line x1="491.3" y1="315.0" x2="501.4" y2="323.9" stroke="#808080" stroke-width="2.5"/><line x1="501.4" y1="323.9" x2="511.5" y2="332.8" stroke="#3a8ae2" stroke-width="2.5"/>
<line x1="521.0" y1="315.0" x2="516.2" y2="323.9" stroke="#808080" stroke-width="2.5"/><line x1="516.2" y1="323.9" x2="511.5" y2="332.8" stroke="#3a8ae2" stroke-width="2.5"/>
<line x1="521.0" y1="315.0" x2="531.1" y2="323.9" stroke="#808080" stroke-width="2.5"/><line x1="531.1" y1="323.9" x2="541.2" y2="332.8" stroke="#3a8ae2" stroke-width="2.5"/>
<line x1="550.7" y1="315.0" x2="546.0" y2="323.9" stroke="#808080" stroke-width="2.5"/><line x1="546.0" y1="323.9" x2="541.2" y2="332.8" stroke="#3a8ae2" stroke-width="2.5"/>
<line x1="550.7" y1="315.0" x2="560.8" y2="323.9" stroke="#808080" stroke-width="2.5"/><line x1="560.8" y1="323.9" x2="570.9" y2="332.8" stroke="#3a8ae2" stroke-width="2.5"/>
<line x1="580.4" y1="315.0" x2="575.6" y2="323.9" stroke="#808080" stroke-width="2.5"/><line x1="575.6" y1="323.9" x2="570.9" y2="332.8" stroke="#3a8ae2" stroke-width="2.5"/>
<line x1="363.0" y1="332.8" x2="357.9" y2="341.6" stroke="#3a8ae2" stroke-width="2.5"/><line x1="357.9" y1="341.6" x2="352.9" y2="350.4" stroke="#808080" stroke-width="2.5"/>
<line x1="363.0" y1="332.8" x2="372.8" y2="341.6" stroke="#3a8ae2" stroke-width="2.5"/><line x1="372.8" y1="341.6" x2="382.6" y2="350.4" stroke="#808080" stroke-width="2.5"/>
<line x1="392.7" y1="332.8" x2="387.6" y2="341.6" stroke="#3a8ae2" stroke-width="2.5"/><line x1="387.6" y1="341.6" x2="382.6" y2="350.4" stroke="#808080" stroke-width="2.5"/>
<line x1="392.7" y1="332.8" x2="402.5" y2="341.6" stroke="#3a8ae2" stroke-width="2.5"/><line x1="402.5" y1="341.6" x2="412.3" y2="350.4" stroke="#808080" stroke-width="2.5"/>
<line x1="422.4" y1="332.8" x2="417.3" y2="341.6" stroke="#3a8ae2" stroke-width="2.5"/><line x1="417.3" y1="341.6" x2="412.3" y2="350.4" stroke="#808080" stroke-width="2.5"/>
<line x1="422.4" y1="332.8" x2="432.2" y2="341.6" stroke="#3a8ae2" stroke-width="2.5"/><line x1="432.2" y1="341.6" x2="442.0" y2="350.4" stroke="#808080" stroke-width="2.5"/>
<line x1="452.1" y1="332.8" x2="447.1" y2="341.6" stroke="#3a8ae2" stroke-width="2.5"/><line x1="447.1" y1="341.6" x2="442.0" y2="350.4" stroke="#808080" stroke-width="2.5"/>
<line x1="452.1" y1="332.8" x2="461.9" y2="341.6" stroke="#3a8ae2" stroke-width="2.5"/><line x1="461.9" y1="341.6" x2="471.7" y2="350.4" stroke="#808080" stroke-width="2.5"/>
<line x1="481.8" y1="332.8" x2="476.8" y2="341.6" stroke="#3a8ae2" stroke-width="2.5"/><line x1="476.8" y1="341.6" x2="471.7" y2="350.4" stroke="#808080" stroke-width="2.5"/>
<line x1="481.8" y1="332.8" x2="491.6" y2="341.6" stroke="#3a8ae2" stroke-width="2.5"/><line x1="491.6" y1="341.6" x2="501.4" y2="350.4" stroke="#808080" stroke-width="2.5"/>
<line x1="511.5" y1="332.8" x2="506.4" y2="341.6" stroke="#3a8ae2" stroke-width="2.5"/><line x1="506.4" y1="341.6" x2="501.4" y2="350.4" stroke="#808080" stroke-width="2.5"/>
<line x1="511.5" y1="332.8" x2="521.3" y2="341.6" stroke="#3a8ae2" stroke-width="2.5"/><line x1="521.3" y1="341.6" x2="531.1" y2="350.4" stroke="#808080" stroke-width="2.5"/>
<line x1="541.2" y1="332.8" x2="536.2" y2="341.6" stroke="#3a8ae2" stroke-width="2.5"/><line x1="536.2" y1="341.6" x2="531.1" y2="350.4" stroke="#808080" stroke-width="2.5"/>
<line x1="541.2" y1="332.8" x2="551.0" y2="341.6" stroke="#3a8ae2" stroke-width="2.5"/><line x1="551.0" y1="341.6" x2="560.8" y2="350.4" stroke="#808080" stroke-width="2.5"/>
<line x1="570.9" y1="332.8" x2="565.8" y2="341.6" stroke="#3a8ae2" stroke-width="2.5"/><line x1="565.8" y1="341.6" x2="560.8" y2="350.4" stroke="#808080" stroke-width="2.5"/>
<line x1="323.2" y1="350.4" x2="333.1" y2="359.7" stroke="#808080" stroke-width="2.5"/><line x1="333.1" y1="359.7" x2="343.0" y2="369.0" stroke="#3a8ae2" stroke-width="2.5"/>
<line x1="352.9" y1="350.4" x2="347.9" y2="359.7" stroke="#808080" stroke-width="2.5"/><line x1="347.9" y1="359.7" x2="343.0" y2="369.0" stroke="#3a8ae2" stroke-width="2.5"/>
<line x1="352.9" y1="350.4" x2="362.8" y2="359.7" stroke="#808080" stroke-width="2.5"/><line x1="362.8" y1="359.7" x2="372.7" y2="369.0" stroke="#3a8ae2" stroke-width="2.5"/>
<line x1="382.6" y1="350.4" x2="377.6" y2="359.7" stroke="#808080" stroke-width="2.5"/><line x1="377.6" y1="359.7" x2="372.7" y2="369.0" stroke="#3a8ae2" stroke-width="2.5"/>
<line x1="382.6" y1="350.4" x2="392.5" y2="359.7" stroke="#808080" stroke-width="2.5"/><line x1="392.5" y1="359.7" x2="402.4" y2="369.0" stroke="#3a8ae2" stroke-width="2.5"/>
<line x1="412.3" y1="350.4" x2="407.3" y2="359.7" stroke="#808080" stroke-width="2.5"/><line x1="407.3" y1="359.7" x2="402.4" y2="369.0" stroke="#3a8ae2" stroke-width="2.5"/>
<line x1="412.3" y1="350.4" x2="422.2" y2="359.7" stroke="#808080" stroke-width="2.5"/><line x1="422.2" y1="359.7" x2="432.1" y2="369.0" stroke="#3a8ae2" stroke-width="2.5"/>
<line x1="442.0" y1="350.4" x2="437.1" y2="359.7" stroke="#808080" stroke-width="2.5"/><line x1="437.1" y1="359.7" x2="432.1" y2="369.0" stroke="#3a8ae2" stroke-width="2.5"/>
<line x1="442.0" y1="350.4" x2="451.9" y2="359.7" stroke="#808080" stroke-width="2.5"/><line x1="451.9" y1="359.7" x2="461.8" y2="369.0" stroke="#3a8ae2" stroke-width="2.5"/>
<line x1="471.7" y1="350.4" x2="466.8" y2="359.7" stroke="#808080" stroke-width="2.5"/><line x1="466.8" y1="359.7" x2="461.8" y2="369.0" stroke="#3a8ae2" stroke-width="2.5"/>
<line x1="471.7" y1="350.4" x2="481.6" y2="359.7" stroke="#808080" stroke-width="2.5"/><line x1="481.6" y1="359.7" x2="491.5" y2="369.0" stroke="#3a8ae2" stroke-width="2.5"/>
<line x1="501.4" y1="350.4" x2="496.4" y2="359.7" stroke="#808080" stroke-width="2.5"/><line x1="496.4" y1="359.7" x2="491.5" y2="369.0" stroke="#3a8ae2" stroke-width="2.5"/>
<line x1="501.4" y1="350.4" x2="511.3" y2="359.7" stroke="#808080" stroke-width="2.5"/><line x1="511.3" y1="359.7" x2="521.2" y2="369.0" stroke="#3a8ae2" stroke-width="2.5"/>
<line x1="531.1" y1="350.4" x2="526.2" y2="359.7" stroke="#808080" stroke-width="2.5"/><line x1="526.2" y1="359.7" x2="521.2" y2="369.0" stroke="#3a8ae2" stroke-width="2.5"/>
<line x1="531.1" y1="350.4" x2="541.0" y2="359.7" stroke="#808080" stroke-width="2.5"/><line x1="541.0" y1="359.7" x2="550.9" y2="369.0" stroke="#3a8ae2" stroke-width="2.5"/>
<line x1="560.8" y1="350.4" x2="555.8" y2="359.7" stroke="#808080" stroke-width="2.5"/><line x1="555.8" y1="359.7" x2="550.9" y2="369.0" stroke="#3a8ae2" stroke-width="2.5"/>
<line x1="560.8" y1="350.4" x2="570.7" y2="359.7" stroke="#808080" stroke-width="2.5"/><line x1="570.7" y1="359.7" x2="580.6" y2="369.0" stroke="#3a8ae2" stroke-width="2.5"/>
<line x1="343.0" y1="369.0" x2="338.0" y2="377.7" stroke="#3a8ae2" stroke-width="2.5"/><line x1="338.0" y1="377.7" x2="333.0" y2="386.4" stroke="#808080" stroke-width="2.5"/>
<line x1="343.0" y1="369.0" x2="352.9" y2="377.7" stroke="#3a8ae2" stroke-width="2.5"/><line x1="352.9" y1="377.7" x2="362.7" y2="386.4" stroke="#808080" stroke-width="2.5"/>
<line x1="372.7" y1="369.0" x2="367.7" y2="377.7" stroke="#3a8ae2" stroke-width="2.5"/><line x1="367.7" y1="377.7" x2="362.7" y2="386.4" stroke="#808080" stroke-width="2.5"/>
<line x1="372.7" y1="369.0" x2="382.5" y2="377.7" stroke="#3a8ae2" stroke-width="2.5"/><line x1="382.5" y1="377.7" x2="392.4" y2="386.4" stroke="#808080" stroke-width="2.5"/>
<line x1="402.4" y1="369.0" x2="397.4" y2="377.7" stroke="#3a8ae2" stroke-width="2.5"/><line x1="397.4" y1="377.7" x2="392.4" y2="386.4" stroke="#808080" stroke-width="2.5"/>
<line x1="402.4" y1="369.0" x2="412.2" y2="377.7" stroke="#3a8ae2" stroke-width="2.5"/><line x1="412.2" y1="377.7" x2="422.1" y2="386.4" stroke="#808080" stroke-width="2.5"/>
<line x1="432.1" y1="369.0" x2="427.1" y2="377.7" stroke="#3a8ae2" stroke-width="2.5"/><line x1="427.1" y1="377.7" x2="422.1" y2="386.4" stroke="#808080" stroke-width="2.5"/>
<line x1="432.1" y1="369.0" x2="442.0" y2="377.7" stroke="#3a8ae2" stroke-width="2.5"/><line x1="442.0" y1="377.7" x2="451.8" y2="386.4" stroke="#808080" stroke-width="2.5"/>
<line x1="461.8" y1="369.0" x2="456.8" y2="377.7" stroke="#3a8ae2" stroke-width="2.5"/><line x1="456.8" y1="377.7" x2="451.8" y2="386.4" stroke="#808080" stroke-width="2.5"/>
<line x1="461.8" y1="369.0" x2="471.6" y2="377.7" stroke="#3a8ae2" stroke-width="2.5"/><line x1="471.6" y1="377.7" x2="481.5" y2="386.4" stroke="#808080" stroke-width="2.5"/>
<line x1="491.5" y1="369.0" x2="486.5" y2="377.7" stroke="#3a8ae2" stroke-width="2.5"/><line x1="486.5" y1="377.7" x2="481.5" y2="386.4" stroke="#808080" stroke-width="2.5"/>
<line x1="491.5" y1="369.0" x2="501.4" y2="377.7" stroke="#3a8ae2" stroke-width="2.5"/><line x1="501.4" y1="377.7" x2="511.2" y2="386.4" stroke="#808080" stroke-width="2.5"/>
<line x1="521.2" y1="369.0" x2="516.2" y2="377.7" stroke="#3a8ae2" stroke-width="2.5"/><line x1="516.2" y1="377.7" x2="511.2" y2="386.4" stroke="#808080" stroke-width="2.5"/>
<line x1="521.2" y1="369.0" x2="531.0" y2="377.7" stroke="#3a8ae2" stroke-width="2.5"/><line x1="531.0" y1="377.7" x2="540.9" y2="386.4" stroke="#808080" stroke-width="2.5"/>
<line x1="550.9" y1="369.0" x2="545.9" y2="377.7" stroke="#3a8ae2" stroke-width="2.5"/><line x1="545.9" y1="377.7" x2="540.9" y2="386.4" stroke="#808080" stroke-width="2.5"/>
<line x1="550.9" y1="369.0" x2="560.8" y2="377.7" stroke="#3a8ae2" stroke-width="2.5"/><line x1="560.8" y1="377.7" x2="570.6" y2="386.4" stroke="#808080" stroke-width="2.5"/>
<line x1="580.6" y1="369.0" x2="575.6" y2="377.7" stroke="#3a8ae2" stroke-width="2.5"/><line x1="575.6" y1="377.7" x2="570.6" y2="386.4" stroke="#808080" stroke-width="2.5"/>
<line x1="580.6" y1="369.0" x2="590.5" y2="377.7" stroke="#3a8ae2" stroke-width="2.5"/><line x1="590.5" y1="377.7" x2="600.3" y2="386.4" stroke="#808080" stroke-width="2.5"/>
<ellipse cx="323.2" cy="300.8" rx="6.2" ry="7.44" fill="url(#mo)"/>
<ellipse cx="352.9" cy="300.8" rx="6.2" ry="7.44" fill="url(#mo)"/>
<ellipse cx="382.6" cy="300.8" rx="6.2" ry="7.44" fill="url(#mo)"/>
<ellipse cx="412.3" cy="300.8" rx="6.2" ry="7.44" fill="url(#mo)"/>
<ellipse cx="442.0" cy="300.8" rx="6.2" ry="7.44" fill="url(#mo)"/>
<ellipse cx="471.7" cy="300.8" rx="6.2" ry="7.44" fill="url(#mo)"/>
<ellipse cx="501.4" cy="300.8" rx="6.2" ry="7.44" fill="url(#mo)"/>
<ellipse cx="531.1" cy="300.8" rx="6.2" ry="7.44" fill="url(#mo)"/>
<ellipse cx="560.8" cy="300.8" rx="6.2" ry="7.44" fill="url(#mo)"/>
<circle cx="342.8" cy="315.0" r="4.0" fill="url(#cc)"/>
<circle cx="372.5" cy="315.0" r="4.0" fill="url(#cc)"/>
<circle cx="402.2" cy="315.0" r="4.0" fill="url(#cc)"/>
<circle cx="431.9" cy="315.0" r="4.0" fill="url(#cc)"/>
<circle cx="461.6" cy="315.0" r="4.0" fill="url(#cc)"/>
<circle cx="491.3" cy="315.0" r="4.0" fill="url(#cc)"/>
<circle cx="521.0" cy="315.0" r="4.0" fill="url(#cc)"/>
<circle cx="550.7" cy="315.0" r="4.0" fill="url(#cc)"/>
<circle cx="580.4" cy="315.0" r="4.0" fill="url(#cc)"/>
<ellipse cx="363.0" cy="332.8" rx="6.2" ry="7.44" fill="url(#mo)"/>
<ellipse cx="392.7" cy="332.8" rx="6.2" ry="7.44" fill="url(#mo)"/>
<ellipse cx="422.4" cy="332.8" rx="6.2" ry="7.44" fill="url(#mo)"/>
<ellipse cx="452.1" cy="332.8" rx="6.2" ry="7.44" fill="url(#mo)"/>
<ellipse cx="481.8" cy="332.8" rx="6.2" ry="7.44" fill="url(#mo)"/>
<ellipse cx="511.5" cy="332.8" rx="6.2" ry="7.44" fill="url(#mo)"/>
<ellipse cx="541.2" cy="332.8" rx="6.2" ry="7.44" fill="url(#mo)"/>
<ellipse cx="570.9" cy="332.8" rx="6.2" ry="7.44" fill="url(#mo)"/>
<circle cx="323.2" cy="350.4" r="4.0" fill="url(#cc)"/>
<circle cx="352.9" cy="350.4" r="4.0" fill="url(#cc)"/>
<circle cx="382.6" cy="350.4" r="4.0" fill="url(#cc)"/>
<circle cx="412.3" cy="350.4" r="4.0" fill="url(#cc)"/>
<circle cx="442.0" cy="350.4" r="4.0" fill="url(#cc)"/>
<circle cx="471.7" cy="350.4" r="4.0" fill="url(#cc)"/>
<circle cx="501.4" cy="350.4" r="4.0" fill="url(#cc)"/>
<circle cx="531.1" cy="350.4" r="4.0" fill="url(#cc)"/>
<circle cx="560.8" cy="350.4" r="4.0" fill="url(#cc)"/>
<ellipse cx="343.0" cy="369.0" rx="6.2" ry="7.44" fill="url(#mo)"/>
<ellipse cx="372.7" cy="369.0" rx="6.2" ry="7.44" fill="url(#mo)"/>
<ellipse cx="402.4" cy="369.0" rx="6.2" ry="7.44" fill="url(#mo)"/>
<ellipse cx="432.1" cy="369.0" rx="6.2" ry="7.44" fill="url(#mo)"/>
<ellipse cx="461.8" cy="369.0" rx="6.2" ry="7.44" fill="url(#mo)"/>
<ellipse cx="491.5" cy="369.0" rx="6.2" ry="7.44" fill="url(#mo)"/>
<ellipse cx="521.2" cy="369.0" rx="6.2" ry="7.44" fill="url(#mo)"/>
<ellipse cx="550.9" cy="369.0" rx="6.2" ry="7.44" fill="url(#mo)"/>
<ellipse cx="580.6" cy="369.0" rx="6.2" ry="7.44" fill="url(#mo)"/>
<circle cx="333.0" cy="386.4" r="4.0" fill="url(#cc)"/>
<circle cx="362.7" cy="386.4" r="4.0" fill="url(#cc)"/>
<circle cx="392.4" cy="386.4" r="4.0" fill="url(#cc)"/>
<circle cx="422.1" cy="386.4" r="4.0" fill="url(#cc)"/>
<circle cx="451.8" cy="386.4" r="4.0" fill="url(#cc)"/>
<circle cx="481.5" cy="386.4" r="4.0" fill="url(#cc)"/>
<circle cx="511.2" cy="386.4" r="4.0" fill="url(#cc)"/>
<circle cx="540.9" cy="386.4" r="4.0" fill="url(#cc)"/>
<circle cx="570.6" cy="386.4" r="4.0" fill="url(#cc)"/>
<circle cx="600.3" cy="386.4" r="4.0" fill="url(#cc)"/>
<ellipse cx="202.0" cy="240.0" rx="15.0" ry="16.0" fill="#7c7cd4" opacity="1.0"/>
<ellipse cx="234.0" cy="240.0" rx="15.0" ry="16.0" fill="#7c7cd4" opacity="1.0"/>
<ellipse cx="218.0" cy="232.0" rx="10.0" ry="9.0" fill="#8585d8" opacity="1.0"/>
<ellipse cx="198.0" cy="226.0" rx="5.0" ry="5.0" fill="#e2e034" opacity="1.0"/>
<ellipse cx="210.0" cy="224.0" rx="4.0" ry="4.5" fill="#e2e034" opacity="1.0"/>
<ellipse cx="226.0" cy="224.0" rx="5.0" ry="5.0" fill="#e2e034" opacity="1.0"/>
<ellipse cx="238.0" cy="225.0" rx="4.5" ry="4.5" fill="#e2e034" opacity="1.0"/>
<ellipse cx="205.0" cy="252.0" rx="8.0" ry="5.0" fill="#e2e034" opacity="1.0"/>
<ellipse cx="231.0" cy="253.0" rx="7.0" ry="4.5" fill="#e2e034" opacity="1.0"/>
<ellipse cx="231.0" cy="241.0" rx="8.0" ry="3.0" fill="#e2e034" opacity="1.0"/>
<ellipse cx="204.0" cy="240.0" rx="5.0" ry="6.0" fill="#6a6ac0" opacity="1.0"/>
<ellipse cx="190.0" cy="240.0" rx="3.0" ry="6.0" fill="#7c7cd4" opacity="1.0"/>
<ellipse cx="246.0" cy="240.0" rx="3.0" ry="6.0" fill="#7c7cd4" opacity="1.0"/>
<ellipse cx="218.0" cy="267.0" rx="30.0" ry="9.0" fill="#7c7cd4" opacity="1.0"/>
<ellipse cx="206.0" cy="266.0" rx="11.0" ry="7.0" fill="#8a8ad8" opacity="1.0"/>
<ellipse cx="216.5" cy="299.0" rx="40.0" ry="7.0" fill="#7c7cd4" opacity="1.0"/>
<ellipse cx="200.0" cy="286.0" rx="22.0" ry="14.0" fill="#d4d428" opacity="1.0"/>
<ellipse cx="232.0" cy="285.0" rx="24.0" ry="15.0" fill="#e2e034" opacity="1.0"/>
<ellipse cx="216.0" cy="288.0" rx="20.0" ry="12.0" fill="#e6e43c" opacity="1.0"/>
<ellipse cx="185.5" cy="305" rx="6.2" ry="7.4" fill="url(#mo)"/>
<ellipse cx="215.4" cy="305" rx="6.2" ry="7.4" fill="url(#mo)"/>
<ellipse cx="420.0" cy="292.0" rx="11.0" ry="9.0" fill="#7c7cd4" opacity="1.0"/>
<ellipse cx="432.0" cy="292.0" rx="6.0" ry="7.0" fill="#7c7cd4" opacity="1.0"/>
<ellipse cx="394.0" cy="290.0" rx="3.0" ry="5.0" fill="#7c7cd4" opacity="1.0"/>
<ellipse cx="407.0" cy="312.0" rx="15.0" ry="17.0" fill="#e2e034" opacity="1.0"/>
<ellipse cx="413.0" cy="300.0" rx="8.0" ry="7.0" fill="#d4d428" opacity="1.0"/>
<ellipse cx="420.0" cy="316.0" rx="7.0" ry="10.0" fill="#7c7cd0" opacity="0.9"/>
<ellipse cx="412.6" cy="300.8" rx="6.2" ry="7.4" fill="url(#mo)"/>
<ellipse cx="392.7" cy="332.6" rx="6.2" ry="7.4" fill="url(#mo)"/>
<ellipse cx="485.9" cy="224.8" rx="5.5" ry="6.0" fill="#7c7cd4" opacity="1.0"/>
<ellipse cx="495.5" cy="223.7" rx="5.5" ry="6.0" fill="#7c7cd4" opacity="1.0"/>
<ellipse cx="512.4" cy="224.8" rx="5.5" ry="6.0" fill="#7c7cd4" opacity="1.0"/>
<ellipse cx="521.9" cy="224.8" rx="5.5" ry="6.0" fill="#7c7cd4" opacity="1.0"/>
<ellipse cx="504.0" cy="235.0" rx="31.0" ry="7.0" fill="#e2e034" opacity="1.0"/>
<ellipse cx="480.7" cy="240.7" rx="5.0" ry="4.5" fill="#7c7cd4" opacity="1.0"/>
<ellipse cx="492.3" cy="248.1" rx="5.0" ry="4.5" fill="#7c7cd4" opacity="1.0"/>
<ellipse cx="513.4" cy="247.6" rx="5.0" ry="4.5" fill="#7c7cd4" opacity="1.0"/>
<ellipse cx="527.2" cy="240.7" rx="5.0" ry="4.5" fill="#7c7cd4" opacity="1.0"/>
<ellipse cx="492.0" cy="241.0" rx="8.0" ry="4.0" fill="#9a9ad8" opacity="1.0"/>
<ellipse cx="515.0" cy="241.0" rx="8.0" ry="4.0" fill="#9a9ad8" opacity="1.0"/>
<ellipse cx="502.0" cy="246.0" rx="4.0" ry="4.0" fill="#e2e034" opacity="1.0"/>
<ellipse cx="490.0" cy="265.0" rx="15.0" ry="10.0" fill="#e2e034" opacity="1.0"/>
<ellipse cx="518.0" cy="265.0" rx="15.0" ry="10.0" fill="#e2e034" opacity="1.0"/>
<ellipse cx="503.0" cy="294.0" rx="39.0" ry="6.0" fill="#e2e034" opacity="1.0"/>
<ellipse cx="484.0" cy="282.0" rx="19.0" ry="13.0" fill="#7c7cd4" opacity="1.0"/>
<ellipse cx="522.0" cy="282.0" rx="20.0" ry="13.0" fill="#7c7cd4" opacity="1.0"/>
<ellipse cx="503.0" cy="285.0" rx="20.0" ry="10.0" fill="#7272cc" opacity="1.0"/>
<ellipse cx="471.8" cy="300.8" rx="6.2" ry="7.4" fill="url(#mo)"/>
<ellipse cx="501.5" cy="300.8" rx="6.2" ry="7.4" fill="url(#mo)"/>
<ellipse cx="531.2" cy="300.8" rx="6.2" ry="7.4" fill="url(#mo)"/>
<path d="M 505.1,48.3 C 506.9,47.1 511.9,43.1 515.9,41.4 C 519.9,39.7 524.6,38.4 528.9,38.0 C 533.2,37.6 538.0,38.3 541.9,39.3 C 545.8,40.3 549.0,41.8 552.2,44.0 C 555.4,46.2 558.5,49.4 560.9,52.7 C 563.3,56.0 565.7,60.2 566.9,63.9 C 568.1,67.6 568.3,71.6 568.2,75.1 C 568.1,78.6 567.3,82.2 566.5,85.0 C 565.7,87.8 564.0,90.8 563.5,92.0 L 564.0,95.0 L 550.0,105.0 L 546.0,88.5 L 556.5,90.0 C 557.2,88.4 559.9,83.3 560.9,80.3 C 561.9,77.2 562.5,74.7 562.6,71.7 C 562.7,68.7 562.6,65.1 561.7,62.2 C 560.8,59.3 559.3,56.6 557.4,54.4 C 555.5,52.2 553.1,50.6 550.5,49.2 C 547.9,47.8 545.1,46.7 541.9,46.2 C 538.7,45.7 535.1,45.6 531.5,46.2 C 527.9,46.9 523.6,48.5 520.2,50.1 C 516.8,51.7 512.7,54.8 511.2,55.7 Z" fill="url(#arrB)"/>
<path d="M 166.7,335.2 C 164.0,334.8 155.4,334.3 150.7,333.0 C 146.0,331.7 141.7,329.8 138.5,327.5 C 135.3,325.2 133.3,322.6 131.6,319.0 C 129.9,315.4 128.5,310.5 128.2,306.0 C 127.8,301.5 128.4,296.0 129.5,292.0 C 130.6,288.0 132.8,284.8 135.0,282.0 C 137.2,279.2 140.9,276.7 143.0,275.0 C 145.1,273.3 147.0,272.5 147.8,272.0 L 147.2,266.0 L 157.5,272.0 L 150.5,283.5 L 149.6,279.0 C 148.5,279.6 145.1,280.9 143.0,282.5 C 140.9,284.1 138.6,286.2 137.0,288.5 C 135.4,290.8 134.2,293.7 133.5,296.5 C 132.8,299.3 132.6,302.6 132.8,305.5 C 133.0,308.4 133.3,311.3 134.5,314.0 C 135.7,316.7 137.6,319.5 140.0,321.5 C 142.4,323.5 144.6,325.1 149.0,326.0 C 153.4,326.9 163.8,326.8 166.7,327.0 Z" fill="url(#arrC)"/>
<path d="M 384.6,291.5 C 383.5,292.4 379.7,294.5 377.7,296.9 C 375.7,299.3 373.7,302.9 372.7,306.1 C 371.7,309.3 371.3,312.8 371.5,316.1 C 371.7,319.4 372.4,322.9 373.8,326.1 C 375.2,329.3 377.4,332.7 380.0,335.3 C 382.6,337.9 385.9,340.1 389.2,341.5 C 392.5,342.9 396.8,343.5 400.0,343.8 C 403.2,344.1 407.1,343.3 408.5,343.2 L 410.3,343.6 L 416.5,337.3 L 406.5,334.2 L 406.0,336.3 C 405.1,336.3 403.1,336.7 400.7,336.5 C 398.3,336.3 394.4,336.3 391.5,335.3 C 388.6,334.3 385.4,332.8 383.1,330.7 C 380.8,328.6 378.8,325.9 377.7,323.0 C 376.6,320.1 376.1,316.3 376.5,313.0 C 376.9,309.7 378.0,305.8 380.0,303.0 C 382.0,300.2 387.0,297.2 388.4,296.1 Z" fill="url(#arrDL)"/>
<path d="M 530.0,331.5 C 531.7,331.3 536.7,331.1 540.0,330.3 C 543.3,329.5 546.9,328.2 550.0,326.5 C 553.1,324.8 556.1,322.7 558.4,320.3 C 560.7,317.9 562.5,315.1 563.8,311.9 C 565.1,308.7 565.9,304.6 566.1,301.1 C 566.4,297.6 566.1,294.2 565.3,291.1 C 564.5,288.0 563.2,285.2 561.5,282.7 C 559.8,280.1 557.2,277.7 555.3,275.8 C 553.4,273.9 550.9,272.2 550.0,271.5 L 548.6,267.8 L 541.7,270.8 L 546.1,280.6 L 547.5,278.0 C 548.5,278.5 551.8,279.6 553.8,281.1 C 555.8,282.7 557.8,284.9 559.2,287.3 C 560.6,289.7 561.8,292.9 562.3,295.7 C 562.8,298.5 562.8,301.4 562.3,304.2 C 561.8,307.0 560.8,310.0 559.2,312.6 C 557.7,315.2 555.4,317.7 553.0,319.6 C 550.6,321.5 548.4,322.9 544.6,323.8 C 540.8,324.7 532.4,324.7 530.0,324.9 Z" fill="url(#arrDR)"/>
<text x="9.0" y="41.0" font-size="35" fill="#000" stroke="#000" stroke-width="0.35" text-anchor="start" >a</text>
<text x="279.0" y="38.5" font-size="35" fill="#000" stroke="#000" stroke-width="0.35" text-anchor="start" >b</text>
<text x="10.5" y="247.6" font-size="35" fill="#000" stroke="#000" stroke-width="0.35" text-anchor="start" >c</text>
<text x="279.0" y="249.0" font-size="35" fill="#000" stroke="#000" stroke-width="0.35" text-anchor="start" >d</text>
<text x="631.0" y="38.5" font-size="35" fill="#000" stroke="#000" stroke-width="0.35" text-anchor="start" >e</text>
<text x="429.5" y="38.7" font-size="31.5" fill="#000" stroke="#000" stroke-width="0.35" text-anchor="start" >0.21 e<tspan font-size="20" dy="-10.5">-</tspan></text>
<text x="75.2" y="261.2" font-size="31.5" fill="#000" stroke="#000" stroke-width="0.35" text-anchor="start" >0.72 e<tspan font-size="20" dy="-10.5">-</tspan></text>
<text x="364.7" y="278.8" font-size="31.5" fill="#000" stroke="#000" stroke-width="0.35" text-anchor="start" >0.22 e<tspan font-size="20" dy="-10.5">-</tspan></text>
<text x="527.0" y="267.4" font-size="31.5" fill="#000" stroke="#000" stroke-width="0.35" text-anchor="start" >0.78 e<tspan font-size="20" dy="-10.5">-</tspan></text>
<text x="107.5" y="193.2" font-size="24" fill="#000" stroke="#000" stroke-width="0.35" text-anchor="start" textLength="94.5" lengthAdjust="spacingAndGlyphs">&#945;-MoC<tspan font-size="14.5" dy="5.5">1-x</tspan></text>
<text x="387.7" y="190.9" font-size="24" fill="#000" stroke="#000" stroke-width="0.35" text-anchor="start" textLength="153" lengthAdjust="spacingAndGlyphs">Ru<tspan font-size="14" dy="5.5">SA</tspan><tspan dy="-5.5">/&#945;-MoC</tspan><tspan font-size="14.5" dy="5.5">1-x</tspan></text>
<text x="102.9" y="418.0" font-size="24" fill="#000" stroke="#000" stroke-width="0.35" text-anchor="start" textLength="155" lengthAdjust="spacingAndGlyphs">Ru<tspan font-size="14" dy="5.5">CS</tspan><tspan dy="-5.5">/&#945;-MoC</tspan><tspan font-size="14.5" dy="5.5">1-x</tspan></text>
<text x="383.7" y="417.7" font-size="24" fill="#000" stroke="#000" stroke-width="0.35" text-anchor="start" textLength="183" lengthAdjust="spacingAndGlyphs">Ru<tspan font-size="14" dy="5.5">CS/SA</tspan><tspan dy="-5.5">/&#945;-MoC</tspan><tspan font-size="14.5" dy="5.5">1-x</tspan></text>
<path d="M 676.0,164.5 C 679.4,164.8 693.1,165.8 696.5,166.0" fill="none" stroke="#ffffff" stroke-width="2.4" opacity="0.9"/><path d="M 676.0,164.5 C 679.4,164.8 693.1,165.8 696.5,166.0" fill="none" stroke="#8a8a8a" stroke-width="1" opacity="0.8"/><path d="M 675.5,161.7 C 676.0,157.1 676.9,142.5 678.8,134.1 C 680.7,125.7 683.3,118.5 686.9,111.3 C 690.5,104.1 695.8,96.5 700.3,91.1 C 704.8,85.7 709.5,82.4 713.8,79.0 C 718.1,75.6 723.9,72.2 725.9,70.9 L 721.2,58.8 L 770.2,67.6 L 737.3,108.6 L 733.3,95.1 C 730.5,97.8 721.1,106.1 716.5,111.3 C 711.9,116.5 708.6,120.8 705.7,126.0 C 702.8,131.2 700.6,136.0 699.0,142.2 C 697.4,148.4 696.8,159.5 696.3,163.0 Z" fill="url(#gGreen)"/>
<path d="M 907.5,81.0 C 910.9,82.0 921.4,84.0 928.0,87.0 C 934.6,90.0 941.7,94.7 947.0,99.0 C 952.3,103.3 956.3,108.3 960.0,113.0 C 963.7,117.7 967.5,124.7 969.0,127.0" fill="none" stroke="#ffffff" stroke-width="2.4" opacity="0.9"/><path d="M 907.5,81.0 C 910.9,82.0 921.4,84.0 928.0,87.0 C 934.6,90.0 941.7,94.7 947.0,99.0 C 952.3,103.3 956.3,108.3 960.0,113.0 C 963.7,117.7 967.5,124.7 969.0,127.0" fill="none" stroke="#8a8a8a" stroke-width="1" opacity="0.8"/><path d="M 913.2,58.2 C 916.9,59.7 928.2,63.4 935.3,66.9 C 942.3,70.4 949.2,74.1 955.5,79.0 C 961.8,83.9 967.9,90.9 973.0,96.5 C 978.1,102.1 983.3,108.6 986.4,112.6 C 989.5,116.6 990.9,119.3 991.8,120.7 L 1007.3,118.0 L 991.8,163.7 L 960.2,128.1 L 970.8,125.5 C 969.4,122.9 965.9,115.1 962.2,110.0 C 958.5,104.9 954.4,99.6 948.8,95.1 C 943.2,90.6 935.4,86.0 928.6,83.0 C 921.8,80.0 911.3,78.0 907.8,77.0 Z" fill="#fa5a64"/>
<path d="M 962,130 L 992,166" stroke="#8a8a8a" stroke-width="1" opacity="0.7"/>
<path d="M 1003.5,300.0 C 1002.8,302.3 1001.4,308.8 999.0,314.0 C 996.6,319.2 992.8,325.8 989.0,331.0 C 985.2,336.2 980.7,340.5 976.0,345.0 C 971.3,349.5 963.5,355.8 961.0,358.0" fill="none" stroke="#ffffff" stroke-width="2.4" opacity="0.9"/><path d="M 1003.5,300.0 C 1002.8,302.3 1001.4,308.8 999.0,314.0 C 996.6,319.2 992.8,325.8 989.0,331.0 C 985.2,336.2 980.7,340.5 976.0,345.0 C 971.3,349.5 963.5,355.8 961.0,358.0" fill="none" stroke="#8a8a8a" stroke-width="1" opacity="0.8"/><path d="M 1004.2,272.5 C 1003.9,276.2 1003.4,288.7 1002.3,294.9 C 1001.1,301.1 999.8,304.5 997.3,309.9 C 994.8,315.3 991.0,322.2 987.3,327.4 C 983.6,332.6 979.5,336.5 974.9,341.1 C 970.3,345.7 962.4,352.5 959.9,354.8 L 960.5,368.5 L 914.3,360.4 L 944.3,324.9 L 949.9,336.1 C 952.0,334.4 958.2,330.1 962.4,326.1 C 966.6,322.2 971.6,317.2 974.9,312.4 C 978.2,307.6 980.6,302.4 982.3,297.4 C 983.9,292.4 984.4,287.0 984.8,282.5 C 985.2,278.0 984.8,272.6 984.8,270.6 Z" fill="#f9f655"/>
<path d="M 914.5,363 L 960.5,371.5" stroke="#8a8a8a" stroke-width="1" opacity="0.7"/>
<path d="M 688.5,312.0 C 689.4,314.7 691.2,322.7 694.0,328.0 C 696.8,333.3 700.5,339.0 705.0,344.0 C 709.5,349.0 714.8,354.3 721.0,358.0 C 727.2,361.7 735.3,364.2 742.0,366.0 C 748.7,367.8 757.8,368.5 761.0,369.0" fill="none" stroke="#ffffff" stroke-width="2.4" opacity="0.9"/><path d="M 688.5,312.0 C 689.4,314.7 691.2,322.7 694.0,328.0 C 696.8,333.3 700.5,339.0 705.0,344.0 C 709.5,349.0 714.8,354.3 721.0,358.0 C 727.2,361.7 735.3,364.2 742.0,366.0 C 748.7,367.8 757.8,368.5 761.0,369.0" fill="none" stroke="#8a8a8a" stroke-width="1" opacity="0.8"/><path d="M 766.7,348.0 C 763.5,347.1 753.4,345.1 747.3,342.3 C 741.2,339.5 735.1,335.2 729.9,331.1 C 724.7,327.0 719.6,321.3 716.1,317.4 C 712.6,313.4 709.9,309.1 708.7,307.4 L 718.6,299.9 L 689.3,266.9 L 673.7,308.6 L 686.8,307.4 C 687.7,310.3 689.6,319.3 692.4,324.9 C 695.2,330.5 699.1,336.1 703.7,341.1 C 708.3,346.1 713.7,351.2 719.9,354.8 C 726.1,358.4 734.0,361.1 741.1,362.9 C 748.2,364.7 758.8,365.0 762.3,365.4 Z" fill="url(#gMag)"/>
<path d="M 673.5,312 L 686,310.5" stroke="#8a8a8a" stroke-width="1" opacity="0.7"/>
<clipPath id="e1"><rect x="772.2" y="29.8" width="128.1" height="91.7"/></clipPath>
<g clip-path="url(#e1)"><rect x="772.2" y="29.8" width="128.1" height="91.7" fill="#ffffff"/>
<circle cx="764.7" cy="31.7" r="9.1" fill="url(#moT)"/>
<circle cx="764.7" cy="50.1" r="9.1" fill="url(#moT)"/>
<circle cx="764.7" cy="68.5" r="9.1" fill="url(#moT)"/>
<circle cx="764.7" cy="68.5" r="6.5" fill="url(#cT)"/>
<circle cx="764.7" cy="86.9" r="9.1" fill="url(#moT)"/>
<circle cx="764.7" cy="105.3" r="9.1" fill="url(#moT)"/>
<circle cx="764.7" cy="123.7" r="9.1" fill="url(#moT)"/>
<circle cx="764.7" cy="123.7" r="6.5" fill="url(#cT)"/>
<circle cx="782.3" cy="22.5" r="9.1" fill="url(#moT)"/>
<circle cx="782.3" cy="40.9" r="9.1" fill="url(#moT)"/>
<circle cx="782.3" cy="40.9" r="6.5" fill="url(#cT)"/>
<circle cx="782.3" cy="59.3" r="9.1" fill="url(#moT)"/>
<circle cx="782.3" cy="77.7" r="9.1" fill="url(#moT)"/>
<circle cx="782.3" cy="96.1" r="9.1" fill="url(#moT)"/>
<circle cx="782.3" cy="96.1" r="6.5" fill="url(#cT)"/>
<circle cx="782.3" cy="114.5" r="9.1" fill="url(#moT)"/>
<circle cx="782.3" cy="132.9" r="9.1" fill="url(#moT)"/>
<circle cx="799.9" cy="31.7" r="9.1" fill="url(#moT)"/>
<circle cx="799.9" cy="50.1" r="9.1" fill="url(#moT)"/>
<circle cx="799.9" cy="68.5" r="9.1" fill="url(#moT)"/>
<circle cx="799.9" cy="68.5" r="6.5" fill="url(#cT)"/>
<circle cx="799.9" cy="86.9" r="9.1" fill="url(#moT)"/>
<circle cx="799.9" cy="105.3" r="9.1" fill="url(#moT)"/>
<circle cx="799.9" cy="123.7" r="9.1" fill="url(#moT)"/>
<circle cx="799.9" cy="123.7" r="6.5" fill="url(#cT)"/>
<circle cx="817.5" cy="22.5" r="9.1" fill="url(#moT)"/>
<circle cx="817.5" cy="40.9" r="9.1" fill="url(#moT)"/>
<circle cx="817.5" cy="40.9" r="6.5" fill="url(#cT)"/>
<circle cx="817.5" cy="59.3" r="9.1" fill="url(#moT)"/>
<circle cx="817.5" cy="77.7" r="9.1" fill="url(#moT)"/>
<circle cx="817.5" cy="96.1" r="9.1" fill="url(#moT)"/>
<circle cx="817.5" cy="96.1" r="6.5" fill="url(#cT)"/>
<circle cx="817.5" cy="114.5" r="9.1" fill="url(#moT)"/>
<circle cx="817.5" cy="132.9" r="9.1" fill="url(#moT)"/>
<circle cx="835.1" cy="31.7" r="9.1" fill="url(#moT)"/>
<circle cx="835.1" cy="50.1" r="9.1" fill="url(#moT)"/>
<circle cx="835.1" cy="68.5" r="9.1" fill="url(#moT)"/>
<circle cx="835.1" cy="68.5" r="6.5" fill="url(#cT)"/>
<circle cx="835.1" cy="86.9" r="9.1" fill="url(#moT)"/>
<circle cx="835.1" cy="105.3" r="9.1" fill="url(#moT)"/>
<circle cx="835.1" cy="123.7" r="9.1" fill="url(#moT)"/>
<circle cx="835.1" cy="123.7" r="6.5" fill="url(#cT)"/>
<circle cx="852.7" cy="22.5" r="9.1" fill="url(#moT)"/>
<circle cx="852.7" cy="40.9" r="9.1" fill="url(#moT)"/>
<circle cx="852.7" cy="40.9" r="6.5" fill="url(#cT)"/>
<circle cx="852.7" cy="59.3" r="9.1" fill="url(#moT)"/>
<circle cx="852.7" cy="77.7" r="9.1" fill="url(#moT)"/>
<circle cx="852.7" cy="96.1" r="9.1" fill="url(#moT)"/>
<circle cx="852.7" cy="96.1" r="6.5" fill="url(#cT)"/>
<circle cx="852.7" cy="114.5" r="9.1" fill="url(#moT)"/>
<circle cx="852.7" cy="132.9" r="9.1" fill="url(#moT)"/>
<circle cx="870.3" cy="31.7" r="9.1" fill="url(#moT)"/>
<circle cx="870.3" cy="50.1" r="9.1" fill="url(#moT)"/>
<circle cx="870.3" cy="68.5" r="9.1" fill="url(#moT)"/>
<circle cx="870.3" cy="68.5" r="6.5" fill="url(#cT)"/>
<circle cx="870.3" cy="86.9" r="9.1" fill="url(#moT)"/>
<circle cx="870.3" cy="105.3" r="9.1" fill="url(#moT)"/>
<circle cx="870.3" cy="123.7" r="9.1" fill="url(#moT)"/>
<circle cx="870.3" cy="123.7" r="6.5" fill="url(#cT)"/>
<circle cx="887.9" cy="22.5" r="9.1" fill="url(#moT)"/>
<circle cx="887.9" cy="40.9" r="9.1" fill="url(#moT)"/>
<circle cx="887.9" cy="40.9" r="6.5" fill="url(#cT)"/>
<circle cx="887.9" cy="59.3" r="9.1" fill="url(#moT)"/>
<circle cx="887.9" cy="77.7" r="9.1" fill="url(#moT)"/>
<circle cx="887.9" cy="96.1" r="9.1" fill="url(#moT)"/>
<circle cx="887.9" cy="96.1" r="6.5" fill="url(#cT)"/>
<circle cx="887.9" cy="114.5" r="9.1" fill="url(#moT)"/>
<circle cx="887.9" cy="132.9" r="9.1" fill="url(#moT)"/>
<circle cx="905.5" cy="31.7" r="9.1" fill="url(#moT)"/>
<circle cx="905.5" cy="50.1" r="9.1" fill="url(#moT)"/>
<circle cx="905.5" cy="68.5" r="9.1" fill="url(#moT)"/>
<circle cx="905.5" cy="68.5" r="6.5" fill="url(#cT)"/>
<circle cx="905.5" cy="86.9" r="9.1" fill="url(#moT)"/>
<circle cx="905.5" cy="105.3" r="9.1" fill="url(#moT)"/>
<circle cx="905.5" cy="123.7" r="9.1" fill="url(#moT)"/>
<circle cx="905.5" cy="123.7" r="6.5" fill="url(#cT)"/>
<circle cx="782.3" cy="59.3" r="8.6" fill="url(#ru)"/>
<circle cx="852.7" cy="91.1" r="8.6" fill="url(#ru)"/>
<circle cx="870.3" cy="72.5" r="8.6" fill="url(#ru)"/>
<circle cx="887.9" cy="92.1" r="8.6" fill="url(#ru)"/>
<circle cx="870.3" cy="107.8" r="8.6" fill="url(#ru)"/>
</g>
<clipPath id="e2"><rect x="642.2" y="171.2" width="130.3" height="89.6"/></clipPath>
<g clip-path="url(#e2)"><rect x="642.2" y="171.2" width="130.3" height="89.6" fill="#ffffff"/>
<circle cx="634.3" cy="163.6" r="9.5" fill="url(#moT)"/>
<circle cx="634.3" cy="184.0" r="9.5" fill="url(#moT)"/>
<circle cx="634.3" cy="204.6" r="9.5" fill="url(#moT)"/>
<circle cx="634.3" cy="204.6" r="6.7" fill="url(#cT)"/>
<circle cx="634.3" cy="225.2" r="9.5" fill="url(#moT)"/>
<circle cx="634.3" cy="245.8" r="9.5" fill="url(#moT)"/>
<circle cx="634.3" cy="266.4" r="9.5" fill="url(#moT)"/>
<circle cx="634.3" cy="266.4" r="6.7" fill="url(#cT)"/>
<circle cx="652.3" cy="174.4" r="9.5" fill="url(#moT)"/>
<circle cx="652.3" cy="174.4" r="6.7" fill="url(#cT)"/>
<circle cx="652.3" cy="194.8" r="9.5" fill="url(#moT)"/>
<circle cx="652.3" cy="215.2" r="9.5" fill="url(#moT)"/>
<circle cx="652.3" cy="235.6" r="9.5" fill="url(#moT)"/>
<circle cx="652.3" cy="235.6" r="6.7" fill="url(#cT)"/>
<circle cx="652.3" cy="256.0" r="9.5" fill="url(#moT)"/>
<circle cx="652.3" cy="276.4" r="9.5" fill="url(#moT)"/>
<circle cx="670.3" cy="163.6" r="9.5" fill="url(#moT)"/>
<circle cx="670.3" cy="184.0" r="9.5" fill="url(#moT)"/>
<circle cx="670.3" cy="204.6" r="9.5" fill="url(#moT)"/>
<circle cx="670.3" cy="204.6" r="6.7" fill="url(#cT)"/>
<circle cx="670.3" cy="225.2" r="9.5" fill="url(#moT)"/>
<circle cx="670.3" cy="245.8" r="9.5" fill="url(#moT)"/>
<circle cx="670.3" cy="266.4" r="9.5" fill="url(#moT)"/>
<circle cx="670.3" cy="266.4" r="6.7" fill="url(#cT)"/>
<circle cx="688.3" cy="174.4" r="9.5" fill="url(#moT)"/>
<circle cx="688.3" cy="174.4" r="6.7" fill="url(#cT)"/>
<circle cx="688.3" cy="194.8" r="9.5" fill="url(#moT)"/>
<circle cx="688.3" cy="215.2" r="9.5" fill="url(#moT)"/>
<circle cx="688.3" cy="235.6" r="9.5" fill="url(#moT)"/>
<circle cx="688.3" cy="235.6" r="6.7" fill="url(#cT)"/>
<circle cx="688.3" cy="256.0" r="9.5" fill="url(#moT)"/>
<circle cx="688.3" cy="276.4" r="9.5" fill="url(#moT)"/>
<circle cx="706.3" cy="163.6" r="9.5" fill="url(#moT)"/>
<circle cx="706.3" cy="184.0" r="9.5" fill="url(#moT)"/>
<circle cx="706.3" cy="204.6" r="9.5" fill="url(#moT)"/>
<circle cx="706.3" cy="204.6" r="6.7" fill="url(#cT)"/>
<circle cx="706.3" cy="225.2" r="9.5" fill="url(#moT)"/>
<circle cx="706.3" cy="245.8" r="9.5" fill="url(#moT)"/>
<circle cx="706.3" cy="266.4" r="9.5" fill="url(#moT)"/>
<circle cx="706.3" cy="266.4" r="6.7" fill="url(#cT)"/>
<circle cx="724.3" cy="174.4" r="9.5" fill="url(#moT)"/>
<circle cx="724.3" cy="174.4" r="6.7" fill="url(#cT)"/>
<circle cx="724.3" cy="194.8" r="9.5" fill="url(#moT)"/>
<circle cx="724.3" cy="215.2" r="9.5" fill="url(#moT)"/>
<circle cx="724.3" cy="235.6" r="9.5" fill="url(#moT)"/>
<circle cx="724.3" cy="235.6" r="6.7" fill="url(#cT)"/>
<circle cx="724.3" cy="256.0" r="9.5" fill="url(#moT)"/>
<circle cx="724.3" cy="276.4" r="9.5" fill="url(#moT)"/>
<circle cx="742.3" cy="163.6" r="9.5" fill="url(#moT)"/>
<circle cx="742.3" cy="184.0" r="9.5" fill="url(#moT)"/>
<circle cx="742.3" cy="204.6" r="9.5" fill="url(#moT)"/>
<circle cx="742.3" cy="204.6" r="6.7" fill="url(#cT)"/>
<circle cx="742.3" cy="225.2" r="9.5" fill="url(#moT)"/>
<circle cx="742.3" cy="245.8" r="9.5" fill="url(#moT)"/>
<circle cx="742.3" cy="266.4" r="9.5" fill="url(#moT)"/>
<circle cx="742.3" cy="266.4" r="6.7" fill="url(#cT)"/>
<circle cx="760.3" cy="174.4" r="9.5" fill="url(#moT)"/>
<circle cx="760.3" cy="174.4" r="6.7" fill="url(#cT)"/>
<circle cx="760.3" cy="194.8" r="9.5" fill="url(#moT)"/>
<circle cx="760.3" cy="215.2" r="9.5" fill="url(#moT)"/>
<circle cx="760.3" cy="235.6" r="9.5" fill="url(#moT)"/>
<circle cx="760.3" cy="235.6" r="6.7" fill="url(#cT)"/>
<circle cx="760.3" cy="256.0" r="9.5" fill="url(#moT)"/>
<circle cx="760.3" cy="276.4" r="9.5" fill="url(#moT)"/>
<circle cx="778.3" cy="163.6" r="9.5" fill="url(#moT)"/>
<circle cx="778.3" cy="184.0" r="9.5" fill="url(#moT)"/>
<circle cx="778.3" cy="204.6" r="9.5" fill="url(#moT)"/>
<circle cx="778.3" cy="204.6" r="6.7" fill="url(#cT)"/>
<circle cx="778.3" cy="225.2" r="9.5" fill="url(#moT)"/>
<circle cx="778.3" cy="245.8" r="9.5" fill="url(#moT)"/>
<circle cx="778.3" cy="266.4" r="9.5" fill="url(#moT)"/>
<circle cx="778.3" cy="266.4" r="6.7" fill="url(#cT)"/>
<circle cx="652.3" cy="194.8" r="9.0" fill="url(#ru2)"/>
<circle cx="724.3" cy="229.6" r="9.0" fill="url(#ru2)"/>
<circle cx="742.3" cy="209.6" r="9.0" fill="url(#ru2)"/>
<circle cx="760.3" cy="230.6" r="9.0" fill="url(#ru2)"/>
<circle cx="742.3" cy="249.2" r="9.0" fill="url(#ru2)"/>
</g>
<circle cx="680.3" cy="221.9" r="5.6" fill="url(#hh)"/>
<clipPath id="e3"><rect x="903.7" y="173.0" width="127.4" height="89.3"/></clipPath>
<g clip-path="url(#e3)"><rect x="903.7" y="173.0" width="127.4" height="89.3" fill="#ffffff"/>
<circle cx="896.4" cy="165.6" r="9.3" fill="url(#moT)"/>
<circle cx="896.4" cy="186.0" r="9.3" fill="url(#moT)"/>
<circle cx="896.4" cy="206.6" r="9.3" fill="url(#moT)"/>
<circle cx="896.4" cy="206.6" r="6.6" fill="url(#cT)"/>
<circle cx="896.4" cy="227.2" r="9.3" fill="url(#moT)"/>
<circle cx="896.4" cy="247.8" r="9.3" fill="url(#moT)"/>
<circle cx="896.4" cy="268.4" r="9.3" fill="url(#moT)"/>
<circle cx="896.4" cy="268.4" r="6.6" fill="url(#cT)"/>
<circle cx="914.0" cy="176.2" r="9.3" fill="url(#moT)"/>
<circle cx="914.0" cy="176.2" r="6.6" fill="url(#cT)"/>
<circle cx="914.0" cy="196.6" r="9.3" fill="url(#moT)"/>
<circle cx="914.0" cy="217.0" r="9.3" fill="url(#moT)"/>
<circle cx="914.0" cy="237.4" r="9.3" fill="url(#moT)"/>
<circle cx="914.0" cy="237.4" r="6.6" fill="url(#cT)"/>
<circle cx="914.0" cy="257.8" r="9.3" fill="url(#moT)"/>
<circle cx="914.0" cy="278.2" r="9.3" fill="url(#moT)"/>
<circle cx="931.6" cy="165.6" r="9.3" fill="url(#moT)"/>
<circle cx="931.6" cy="186.0" r="9.3" fill="url(#moT)"/>
<circle cx="931.6" cy="206.6" r="9.3" fill="url(#moT)"/>
<circle cx="931.6" cy="206.6" r="6.6" fill="url(#cT)"/>
<circle cx="931.6" cy="227.2" r="9.3" fill="url(#moT)"/>
<circle cx="931.6" cy="247.8" r="9.3" fill="url(#moT)"/>
<circle cx="931.6" cy="268.4" r="9.3" fill="url(#moT)"/>
<circle cx="931.6" cy="268.4" r="6.6" fill="url(#cT)"/>
<circle cx="949.2" cy="176.2" r="9.3" fill="url(#moT)"/>
<circle cx="949.2" cy="176.2" r="6.6" fill="url(#cT)"/>
<circle cx="949.2" cy="196.6" r="9.3" fill="url(#moT)"/>
<circle cx="949.2" cy="217.0" r="9.3" fill="url(#moT)"/>
<circle cx="949.2" cy="237.4" r="9.3" fill="url(#moT)"/>
<circle cx="949.2" cy="237.4" r="6.6" fill="url(#cT)"/>
<circle cx="949.2" cy="257.8" r="9.3" fill="url(#moT)"/>
<circle cx="949.2" cy="278.2" r="9.3" fill="url(#moT)"/>
<circle cx="966.8" cy="165.6" r="9.3" fill="url(#moT)"/>
<circle cx="966.8" cy="186.0" r="9.3" fill="url(#moT)"/>
<circle cx="966.8" cy="206.6" r="9.3" fill="url(#moT)"/>
<circle cx="966.8" cy="206.6" r="6.6" fill="url(#cT)"/>
<circle cx="966.8" cy="227.2" r="9.3" fill="url(#moT)"/>
<circle cx="966.8" cy="247.8" r="9.3" fill="url(#moT)"/>
<circle cx="966.8" cy="268.4" r="9.3" fill="url(#moT)"/>
<circle cx="966.8" cy="268.4" r="6.6" fill="url(#cT)"/>
<circle cx="984.4" cy="176.2" r="9.3" fill="url(#moT)"/>
<circle cx="984.4" cy="176.2" r="6.6" fill="url(#cT)"/>
<circle cx="984.4" cy="196.6" r="9.3" fill="url(#moT)"/>
<circle cx="984.4" cy="217.0" r="9.3" fill="url(#moT)"/>
<circle cx="984.4" cy="237.4" r="9.3" fill="url(#moT)"/>
<circle cx="984.4" cy="237.4" r="6.6" fill="url(#cT)"/>
<circle cx="984.4" cy="257.8" r="9.3" fill="url(#moT)"/>
<circle cx="984.4" cy="278.2" r="9.3" fill="url(#moT)"/>
<circle cx="1002.0" cy="165.6" r="9.3" fill="url(#moT)"/>
<circle cx="1002.0" cy="186.0" r="9.3" fill="url(#moT)"/>
<circle cx="1002.0" cy="206.6" r="9.3" fill="url(#moT)"/>
<circle cx="1002.0" cy="206.6" r="6.6" fill="url(#cT)"/>
<circle cx="1002.0" cy="227.2" r="9.3" fill="url(#moT)"/>
<circle cx="1002.0" cy="247.8" r="9.3" fill="url(#moT)"/>
<circle cx="1002.0" cy="268.4" r="9.3" fill="url(#moT)"/>
<circle cx="1002.0" cy="268.4" r="6.6" fill="url(#cT)"/>
<circle cx="1019.6" cy="176.2" r="9.3" fill="url(#moT)"/>
<circle cx="1019.6" cy="176.2" r="6.6" fill="url(#cT)"/>
<circle cx="1019.6" cy="196.6" r="9.3" fill="url(#moT)"/>
<circle cx="1019.6" cy="217.0" r="9.3" fill="url(#moT)"/>
<circle cx="1019.6" cy="237.4" r="9.3" fill="url(#moT)"/>
<circle cx="1019.6" cy="237.4" r="6.6" fill="url(#cT)"/>
<circle cx="1019.6" cy="257.8" r="9.3" fill="url(#moT)"/>
<circle cx="1019.6" cy="278.2" r="9.3" fill="url(#moT)"/>
<circle cx="1037.2" cy="165.6" r="9.3" fill="url(#moT)"/>
<circle cx="1037.2" cy="186.0" r="9.3" fill="url(#moT)"/>
<circle cx="1037.2" cy="206.6" r="9.3" fill="url(#moT)"/>
<circle cx="1037.2" cy="206.6" r="6.6" fill="url(#cT)"/>
<circle cx="1037.2" cy="227.2" r="9.3" fill="url(#moT)"/>
<circle cx="1037.2" cy="247.8" r="9.3" fill="url(#moT)"/>
<circle cx="1037.2" cy="268.4" r="9.3" fill="url(#moT)"/>
<circle cx="1037.2" cy="268.4" r="6.6" fill="url(#cT)"/>
<circle cx="914.0" cy="196.6" r="8.8" fill="url(#ru2)"/>
<circle cx="984.4" cy="231.4" r="8.8" fill="url(#ru2)"/>
<circle cx="1002.0" cy="211.6" r="8.8" fill="url(#ru2)"/>
<circle cx="1019.6" cy="232.4" r="8.8" fill="url(#ru2)"/>
<circle cx="1002.0" cy="251.2" r="8.8" fill="url(#ru2)"/>
</g>
<circle cx="950.7" cy="195.3" r="6.4" fill="url(#oo)"/>
<circle cx="943.7" cy="191.3" r="5.4" fill="url(#hh)"/>
<circle cx="959.2" cy="187.9" r="5.4" fill="url(#hh)"/>
<clipPath id="e4"><rect x="772.2" y="316.2" width="134.6" height="92.2"/></clipPath>
<g clip-path="url(#e4)"><rect x="772.2" y="316.2" width="134.6" height="92.2" fill="#ffffff"/>
<circle cx="766.5" cy="309.9" r="9.5" fill="url(#moT)"/>
<circle cx="766.5" cy="330.5" r="9.5" fill="url(#moT)"/>
<circle cx="766.5" cy="351.3" r="9.5" fill="url(#moT)"/>
<circle cx="766.5" cy="351.3" r="6.7" fill="url(#cT)"/>
<circle cx="766.5" cy="372.1" r="9.5" fill="url(#moT)"/>
<circle cx="766.5" cy="392.9" r="9.5" fill="url(#moT)"/>
<circle cx="766.5" cy="413.7" r="9.5" fill="url(#moT)"/>
<circle cx="766.5" cy="413.7" r="6.7" fill="url(#cT)"/>
<circle cx="784.5" cy="320.7" r="9.5" fill="url(#moT)"/>
<circle cx="784.5" cy="320.7" r="6.7" fill="url(#cT)"/>
<circle cx="784.5" cy="341.3" r="9.5" fill="url(#moT)"/>
<circle cx="784.5" cy="361.9" r="9.5" fill="url(#moT)"/>
<circle cx="784.5" cy="382.5" r="9.5" fill="url(#moT)"/>
<circle cx="784.5" cy="382.5" r="6.7" fill="url(#cT)"/>
<circle cx="784.5" cy="403.1" r="9.5" fill="url(#moT)"/>
<circle cx="784.5" cy="423.7" r="9.5" fill="url(#moT)"/>
<circle cx="802.5" cy="309.9" r="9.5" fill="url(#moT)"/>
<circle cx="802.5" cy="330.5" r="9.5" fill="url(#moT)"/>
<circle cx="802.5" cy="351.3" r="9.5" fill="url(#moT)"/>
<circle cx="802.5" cy="351.3" r="6.7" fill="url(#cT)"/>
<circle cx="802.5" cy="372.1" r="9.5" fill="url(#moT)"/>
<circle cx="802.5" cy="392.9" r="9.5" fill="url(#moT)"/>
<circle cx="802.5" cy="413.7" r="9.5" fill="url(#moT)"/>
<circle cx="802.5" cy="413.7" r="6.7" fill="url(#cT)"/>
<circle cx="820.5" cy="320.7" r="9.5" fill="url(#moT)"/>
<circle cx="820.5" cy="320.7" r="6.7" fill="url(#cT)"/>
<circle cx="820.5" cy="341.3" r="9.5" fill="url(#moT)"/>
<circle cx="820.5" cy="361.9" r="9.5" fill="url(#moT)"/>
<circle cx="820.5" cy="382.5" r="9.5" fill="url(#moT)"/>
<circle cx="820.5" cy="382.5" r="6.7" fill="url(#cT)"/>
<circle cx="820.5" cy="403.1" r="9.5" fill="url(#moT)"/>
<circle cx="820.5" cy="423.7" r="9.5" fill="url(#moT)"/>
<circle cx="838.5" cy="309.9" r="9.5" fill="url(#moT)"/>
<circle cx="838.5" cy="330.5" r="9.5" fill="url(#moT)"/>
<circle cx="838.5" cy="351.3" r="9.5" fill="url(#moT)"/>
<circle cx="838.5" cy="351.3" r="6.7" fill="url(#cT)"/>
<circle cx="838.5" cy="372.1" r="9.5" fill="url(#moT)"/>
<circle cx="838.5" cy="392.9" r="9.5" fill="url(#moT)"/>
<circle cx="838.5" cy="413.7" r="9.5" fill="url(#moT)"/>
<circle cx="838.5" cy="413.7" r="6.7" fill="url(#cT)"/>
<circle cx="856.5" cy="320.7" r="9.5" fill="url(#moT)"/>
<circle cx="856.5" cy="320.7" r="6.7" fill="url(#cT)"/>
<circle cx="856.5" cy="341.3" r="9.5" fill="url(#moT)"/>
<circle cx="856.5" cy="361.9" r="9.5" fill="url(#moT)"/>
<circle cx="856.5" cy="382.5" r="9.5" fill="url(#moT)"/>
<circle cx="856.5" cy="382.5" r="6.7" fill="url(#cT)"/>
<circle cx="856.5" cy="403.1" r="9.5" fill="url(#moT)"/>
<circle cx="856.5" cy="423.7" r="9.5" fill="url(#moT)"/>
<circle cx="874.5" cy="309.9" r="9.5" fill="url(#moT)"/>
<circle cx="874.5" cy="330.5" r="9.5" fill="url(#moT)"/>
<circle cx="874.5" cy="351.3" r="9.5" fill="url(#moT)"/>
<circle cx="874.5" cy="351.3" r="6.7" fill="url(#cT)"/>
<circle cx="874.5" cy="372.1" r="9.5" fill="url(#moT)"/>
<circle cx="874.5" cy="392.9" r="9.5" fill="url(#moT)"/>
<circle cx="874.5" cy="413.7" r="9.5" fill="url(#moT)"/>
<circle cx="874.5" cy="413.7" r="6.7" fill="url(#cT)"/>
<circle cx="892.5" cy="320.7" r="9.5" fill="url(#moT)"/>
<circle cx="892.5" cy="320.7" r="6.7" fill="url(#cT)"/>
<circle cx="892.5" cy="341.3" r="9.5" fill="url(#moT)"/>
<circle cx="892.5" cy="361.9" r="9.5" fill="url(#moT)"/>
<circle cx="892.5" cy="382.5" r="9.5" fill="url(#moT)"/>
<circle cx="892.5" cy="382.5" r="6.7" fill="url(#cT)"/>
<circle cx="892.5" cy="403.1" r="9.5" fill="url(#moT)"/>
<circle cx="892.5" cy="423.7" r="9.5" fill="url(#moT)"/>
<circle cx="910.5" cy="309.9" r="9.5" fill="url(#moT)"/>
<circle cx="910.5" cy="330.5" r="9.5" fill="url(#moT)"/>
<circle cx="910.5" cy="351.3" r="9.5" fill="url(#moT)"/>
<circle cx="910.5" cy="351.3" r="6.7" fill="url(#cT)"/>
<circle cx="910.5" cy="372.1" r="9.5" fill="url(#moT)"/>
<circle cx="910.5" cy="392.9" r="9.5" fill="url(#moT)"/>
<circle cx="910.5" cy="413.7" r="9.5" fill="url(#moT)"/>
<circle cx="910.5" cy="413.7" r="6.7" fill="url(#cT)"/>
<circle cx="784.5" cy="341.3" r="9.0" fill="url(#ru2)"/>
<circle cx="856.5" cy="376.5" r="9.0" fill="url(#ru2)"/>
<circle cx="874.5" cy="356.3" r="9.0" fill="url(#ru2)"/>
<circle cx="892.5" cy="377.5" r="9.0" fill="url(#ru2)"/>
<circle cx="874.5" cy="396.3" r="9.0" fill="url(#ru2)"/>
</g>
<circle cx="822.6" cy="339.5" r="6.5" fill="url(#oo)"/>
<circle cx="831.2" cy="332.1" r="5.5" fill="url(#hh)"/>
<circle cx="813.2" cy="369.1" r="5.5" fill="url(#hh)"/>
<text x="711.5" y="138.6" font-size="25" fill="#1a6ff0" stroke="#1a6ff0" stroke-width="0.35" text-anchor="start" textLength="62" lengthAdjust="spacingAndGlyphs">H<tspan font-size="16" dy="5.5">2</tspan><tspan dy="-5.5"> (g)</tspan></text>
<text x="879.0" y="144.8" font-size="25" fill="#1a6ff0" stroke="#1a6ff0" stroke-width="0.35" text-anchor="start" textLength="99" lengthAdjust="spacingAndGlyphs">H<tspan font-size="16" dy="5.5">2</tspan><tspan dy="-5.5">O (aq)</tspan></text>
<text x="704.5" y="293.7" font-size="25" fill="#1a6ff0" stroke="#1a6ff0" stroke-width="0.35" text-anchor="start" textLength="98" lengthAdjust="spacingAndGlyphs">H*+OH*</text>
<text x="913.3" y="295.0" font-size="25" fill="#1a6ff0" stroke="#1a6ff0" stroke-width="0.35" text-anchor="start" textLength="60" lengthAdjust="spacingAndGlyphs">H<tspan font-size="16" dy="5.5">2</tspan><tspan dy="-5.5">O*</tspan></text>
<rect x="53.3" y="465.4" width="280.7" height="237.39999999999998" fill="none" stroke="#8a8a8a" stroke-width="1.3"/>
<line x1="53.3" y1="476.8" x2="57.3" y2="476.8" stroke="#8a8a8a" stroke-width="1.1"/>
<line x1="53.3" y1="503.4" x2="55.8" y2="503.4" stroke="#8a8a8a" stroke-width="1.1"/>
<line x1="53.3" y1="530.0" x2="57.3" y2="530.0" stroke="#8a8a8a" stroke-width="1.1"/>
<line x1="53.3" y1="556.6" x2="55.8" y2="556.6" stroke="#8a8a8a" stroke-width="1.1"/>
<line x1="53.3" y1="583.2" x2="57.3" y2="583.2" stroke="#8a8a8a" stroke-width="1.1"/>
<line x1="53.3" y1="609.8" x2="55.8" y2="609.8" stroke="#8a8a8a" stroke-width="1.1"/>
<line x1="53.3" y1="636.4" x2="57.3" y2="636.4" stroke="#8a8a8a" stroke-width="1.1"/>
<line x1="53.3" y1="663.0" x2="55.8" y2="663.0" stroke="#8a8a8a" stroke-width="1.1"/>
<line x1="53.3" y1="689.6" x2="57.3" y2="689.6" stroke="#8a8a8a" stroke-width="1.1"/>
<text x="48.3" y="482.2" font-size="15" fill="#000" stroke="#000" stroke-width="0.35" text-anchor="end" >1.0</text>
<text x="48.3" y="535.4" font-size="15" fill="#000" stroke="#000" stroke-width="0.35" text-anchor="end" >0.5</text>
<text x="48.3" y="588.6" font-size="15" fill="#000" stroke="#000" stroke-width="0.35" text-anchor="end" >0.0</text>
<text x="48.3" y="641.8" font-size="15" fill="#000" stroke="#000" stroke-width="0.35" text-anchor="end" >-0.5</text>
<text x="48.3" y="695.0" font-size="15" fill="#000" stroke="#000" stroke-width="0.35" text-anchor="end" >-1.0</text>
<line x1="109.8" y1="583.2" x2="127.6" y2="636.4" stroke="#8e8e8e" stroke-width="2" stroke-dasharray="1.6 3" />
<line x1="184.7" y1="636.4" x2="202.5" y2="583.2" stroke="#8e8e8e" stroke-width="2" stroke-dasharray="1.6 3" />
<line x1="259.3" y1="583.2" x2="277.5" y2="566.2" stroke="#8e8e8e" stroke-width="2" stroke-dasharray="1.6 3" />
<line x1="54.4" y1="583.2" x2="109.8" y2="583.2" stroke="#8e8e8e" stroke-width="2.3"/>
<line x1="127.6" y1="636.4" x2="184.7" y2="636.4" stroke="#8e8e8e" stroke-width="2.3"/>
<line x1="202.5" y1="583.2" x2="259.3" y2="583.2" stroke="#8e8e8e" stroke-width="2.3"/>
<line x1="277.5" y1="566.2" x2="334.0" y2="566.2" stroke="#8e8e8e" stroke-width="2.3"/>
<line x1="109.8" y1="583.2" x2="127.6" y2="649.9" stroke="#f26a1b" stroke-width="2" stroke-dasharray="1.6 3" />
<line x1="184.7" y1="649.9" x2="202.5" y2="583.2" stroke="#f26a1b" stroke-width="2" stroke-dasharray="1.6 3" />
<line x1="259.3" y1="583.2" x2="277.5" y2="527.9" stroke="#f26a1b" stroke-width="2" stroke-dasharray="1.6 3" />
<line x1="54.4" y1="583.2" x2="109.8" y2="583.2" stroke="#f26a1b" stroke-width="2.3"/>
<line x1="127.6" y1="649.9" x2="184.7" y2="649.9" stroke="#f26a1b" stroke-width="2.3"/>
<line x1="202.5" y1="583.2" x2="259.3" y2="583.2" stroke="#f26a1b" stroke-width="2.3"/>
<line x1="277.5" y1="527.9" x2="334.0" y2="527.9" stroke="#f26a1b" stroke-width="2.3"/>
<line x1="109.8" y1="583.2" x2="127.6" y2="556.6" stroke="#1f6fe0" stroke-width="2" stroke-dasharray="1.6 3" />
<line x1="184.7" y1="556.6" x2="202.5" y2="549.2" stroke="#1f6fe0" stroke-width="2" stroke-dasharray="1.6 3" />
<line x1="259.3" y1="549.2" x2="277.5" y2="542.8" stroke="#1f6fe0" stroke-width="2" stroke-dasharray="1.6 3" />
<line x1="54.4" y1="583.2" x2="109.8" y2="583.2" stroke="#1f6fe0" stroke-width="2.3"/>
<line x1="127.6" y1="556.6" x2="184.7" y2="556.6" stroke="#1f6fe0" stroke-width="2.3"/>
<line x1="202.5" y1="549.2" x2="259.3" y2="549.2" stroke="#1f6fe0" stroke-width="2.3"/>
<line x1="277.5" y1="542.8" x2="334.0" y2="542.8" stroke="#1f6fe0" stroke-width="2.3"/>
<line x1="74.3" y1="481.1" x2="102.5" y2="481.1" stroke="#f26a1b" stroke-width="2.3"/>
<text x="105.0" y="486.5" font-size="15" fill="#262626" stroke="#262626" stroke-width="0.35" text-anchor="start" >&#945;-MoC<tspan font-size="10.5" dy="3">1-x</tspan><tspan dy="-3"> (Mo)</tspan></text>
<line x1="74.3" y1="505.1" x2="102.5" y2="505.1" stroke="#8e8e8e" stroke-width="2.3"/>
<text x="105.0" y="510.5" font-size="15" fill="#262626" stroke="#262626" stroke-width="0.35" text-anchor="start" >Ru<tspan font-size="10.5" dy="3">SA</tspan><tspan dy="-3">/&#945;-MoC</tspan><tspan font-size="10.5" dy="3">1-x</tspan><tspan dy="-3"> (Ru</tspan><tspan font-size="10.5" dy="3">SA</tspan><tspan dy="-3">)</tspan></text>
<line x1="74.3" y1="529.7" x2="102.5" y2="529.7" stroke="#1f6fe0" stroke-width="2.3"/>
<text x="105.0" y="535.1" font-size="15" fill="#262626" stroke="#262626" stroke-width="0.35" text-anchor="start" >Ru<tspan font-size="10.5" dy="3">CS/SA</tspan><tspan dy="-3">/&#945;-MoC</tspan><tspan font-size="10.5" dy="3">1-x</tspan><tspan dy="-3"> (Ru</tspan><tspan font-size="10.5" dy="3">CS</tspan><tspan dy="-3">)</tspan></text>
<text x="129.2" y="576.9" font-size="16" fill="#1f6fe0" stroke="#1f6fe0" stroke-width="0.35" text-anchor="start" >0.25 eV</text>
<text x="130.7" y="631.4" font-size="16" fill="#8e8e8e" stroke="#8e8e8e" stroke-width="0.35" text-anchor="start" >0.50 eV</text>
<text x="132.3" y="669.1" font-size="16" fill="#f26a1b" stroke="#f26a1b" stroke-width="0.35" text-anchor="start" >0.61 eV</text>
<text x="89.0" y="695.3" font-size="14.2" fill="#000" stroke="#000" stroke-width="0.35" text-anchor="middle" >*H<tspan font-size="10" dy="3">2</tspan><tspan dy="-3">O</tspan></text>
<text x="163.5" y="695.3" font-size="14.2" fill="#000" stroke="#000" stroke-width="0.35" text-anchor="middle" >*OH*H</text>
<text x="231.5" y="695.3" font-size="14.2" fill="#000" stroke="#000" stroke-width="0.35" text-anchor="middle" >*H</text>
<text x="304.5" y="695.3" font-size="14.2" fill="#000" stroke="#000" stroke-width="0.35" text-anchor="middle" >H<tspan font-size="10" dy="3">2</tspan></text>
<text x="191.5" y="726.3" font-size="21.7" fill="#000" stroke="#000" stroke-width="0.35" text-anchor="middle" >Reaction path</text>
<text x="0.0" y="0.0" font-size="22.4" fill="#000" stroke="#000" stroke-width="0.35" text-anchor="middle" transform="translate(17.3 587.3) rotate(-90)">Free energy (eV)</text>
<text x="10.5" y="481.3" font-size="32" fill="#000" stroke="#000" stroke-width="0.35" text-anchor="start" >f</text>
<defs>
<clipPath id="neg392"><rect x="392.9" y="466.7" width="56.60000000000002" height="231.3"/></clipPath>
<clipPath id="pos392"><rect x="449.5" y="466.7" width="226.29999999999995" height="231.3"/></clipPath>

</defs>
<polygon points="449.5,466.7 440.5,466.7 440.3,467.0 440.1,467.5 439.9,468.0 439.7,468.5 439.4,469.1 439.1,469.8 438.8,470.4 438.5,471.1 438.2,471.8 437.8,472.6 437.5,473.2 437.1,473.9 436.7,474.6 436.3,475.3 435.9,476.0 435.5,476.7 435.1,477.4 434.6,478.2 434.2,478.9 433.7,479.7 433.2,480.4 432.6,481.1 432.0,481.9 431.5,482.6 430.8,483.3 430.1,484.1 429.3,484.9 428.5,485.6 427.7,486.4 426.9,487.2 426.0,488.0 425.2,488.7 424.4,489.4 423.7,490.1 423.0,490.7 422.4,491.3 421.9,491.8 421.3,492.2 420.7,492.7 420.2,493.1 419.7,493.4 419.2,493.8 418.8,494.1 418.5,494.4 418.2,494.7 418.0,495.0 417.9,495.3 417.9,495.6 418.0,495.9 418.3,496.2 418.6,496.5 418.9,496.8 419.4,497.1 419.9,497.4 420.5,497.6 421.2,497.9 421.8,498.2 422.6,498.5 423.3,498.8 424.1,499.1 425.0,499.4 426.0,499.7 427.1,499.9 428.2,500.2 429.4,500.5 430.7,500.8 431.9,501.1 433.1,501.4 434.2,501.7 435.3,502.1 436.3,502.4 437.1,502.8 437.8,503.2 438.4,503.6 439.0,504.0 439.5,504.4 440.0,504.9 440.4,505.3 440.8,505.8 441.1,506.3 441.4,506.8 441.7,507.4 441.9,508.0 442.2,508.6 442.4,509.3 442.5,510.0 442.6,510.8 442.6,511.6 442.6,512.4 442.6,513.3 442.6,514.2 442.6,515.1 442.6,516.0 442.6,516.9 442.6,517.8 442.7,518.7 442.9,519.6 443.0,520.5 443.2,521.4 443.4,522.4 443.6,523.3 443.8,524.2 444.0,525.2 444.2,526.2 444.4,527.2 444.6,528.2 444.8,529.2 445.0,530.3 445.2,531.4 445.3,532.5 445.5,533.7 445.6,534.9 445.8,536.1 445.9,537.3 446.0,538.6 446.2,539.8 446.3,541.0 446.4,542.3 446.6,543.5 446.7,544.7 446.8,545.9 446.9,547.2 447.0,548.4 447.1,549.7 447.2,550.9 447.3,552.1 447.4,553.4 447.5,554.6 447.6,555.8 447.7,556.9 447.7,558.1 447.8,559.2 447.9,560.2 448.0,561.3 448.0,562.3 448.1,563.2 448.2,564.2 448.2,565.1 448.3,566.1 448.3,567.0 448.4,567.9 448.4,568.8 448.4,569.8 448.4,570.7 448.3,571.7 448.3,572.7 448.2,573.6 448.0,574.6 447.9,575.6 447.8,576.5 447.6,577.5 447.5,578.4 447.4,579.4 447.3,580.4 447.3,581.3 447.2,582.3 447.3,583.3 447.3,584.2 447.4,585.1 447.4,586.0 447.5,587.0 447.6,587.9 447.7,588.8 447.9,589.8 448.0,590.8 448.1,591.8 448.3,592.8 448.4,593.9 448.5,595.0 448.6,596.1 448.8,597.2 449.0,598.4 449.2,599.5 449.3,600.7 449.5,601.9 449.6,603.2 449.8,604.4 449.9,605.7 450.0,607.0 450.1,608.3 450.1,609.7 450.1,611.1 450.1,612.5 450.0,614.0 449.9,615.5 449.9,617.0 449.8,618.5 449.7,620.0 449.6,621.5 449.6,622.9 449.5,624.3 449.5,625.6 449.5,627.0 449.5,628.3 449.6,629.6 449.6,630.9 449.7,632.2 449.7,633.4 449.8,634.6 449.8,635.8 449.9,637.0 450.0,638.1 450.0,639.1 450.1,640.1 450.1,641.0 450.1,641.9 450.1,642.7 450.1,643.5 450.2,644.3 450.2,645.0 450.2,645.7 450.2,646.3 450.3,646.9 450.4,647.6 450.5,648.2 450.6,648.8 450.8,649.3 451.1,649.9 451.4,650.4 451.8,650.9 452.2,651.3 452.5,651.8 452.9,652.2 453.2,652.6 453.5,653.1 453.8,653.5 453.9,654.0 454.0,654.5 454.0,655.1 453.9,655.6 453.7,656.2 453.4,656.7 453.2,657.3 452.8,657.9 452.5,658.5 452.2,659.1 451.9,659.7 451.6,660.4 451.4,661.1 451.2,661.8 451.1,662.5 450.9,663.3 450.9,664.2 450.8,665.1 450.7,666.0 450.7,666.9 450.6,667.8 450.6,668.7 450.6,669.6 450.6,670.4 450.6,671.2 450.6,671.9 450.6,672.5 450.6,673.1 450.5,673.7 450.4,674.2 450.3,674.7 450.2,675.2 450.2,675.6 450.3,676.1 450.5,676.5 450.8,676.9 451.2,677.3 451.8,677.7 452.4,678.0 453.2,678.4 454.0,678.7 454.9,679.0 455.9,679.3 457.0,679.6 458.3,679.9 459.6,680.1 461.1,680.4 462.7,680.6 464.5,680.9 466.4,681.1 468.6,681.4 470.9,681.7 473.4,681.9 476.1,682.1 478.9,682.4 481.8,682.6 484.8,682.9 487.9,683.1 491.0,683.3 494.1,683.6 497.2,683.8 500.3,684.0 503.4,684.3 506.5,684.5 509.7,684.7 513.0,685.0 516.3,685.2 519.6,685.5 523.0,685.7 526.4,685.9 529.7,686.2 533.1,686.4 536.4,686.7 539.7,686.9 543.1,687.2 546.6,687.4 550.1,687.7 553.7,688.0 557.2,688.3 560.8,688.6 564.2,688.8 567.6,689.1 570.8,689.4 573.8,689.6 576.7,689.9 579.2,690.1 581.6,690.3 584.0,690.5 586.2,690.7 588.3,690.9 590.3,691.0 592.2,691.2 593.8,691.4 595.2,691.5 596.3,691.7 597.1,691.8 597.7,692.0 597.8,692.1 597.7,692.3 597.1,692.4 596.3,692.6 595.2,692.7 593.8,692.8 592.2,693.0 590.3,693.1 588.3,693.3 586.2,693.4 584.0,693.6 581.6,693.7 579.2,693.9 576.6,694.0 573.7,694.2 570.4,694.3 567.0,694.5 563.4,694.7 559.7,694.8 556.0,695.0 552.4,695.2 548.9,695.4 545.6,695.5 542.5,695.7 539.7,695.9 537.2,696.1 534.7,696.2 532.4,696.4 530.1,696.6 528.0,696.8 526.0,697.0 524.1,697.2 522.4,697.4 520.8,697.5 519.4,697.7 518.2,697.8 517.2,697.9 449.5,697.9" fill="#99d69a" clip-path="url(#neg392)"/>
<polygon points="449.5,466.7 440.5,466.7 440.3,467.0 440.1,467.5 439.9,468.0 439.7,468.5 439.4,469.1 439.1,469.8 438.8,470.4 438.5,471.1 438.2,471.8 437.8,472.6 437.5,473.2 437.1,473.9 436.7,474.6 436.3,475.3 435.9,476.0 435.5,476.7 435.1,477.4 434.6,478.2 434.2,478.9 433.7,479.7 433.2,480.4 432.6,481.1 432.0,481.9 431.5,482.6 430.8,483.3 430.1,484.1 429.3,484.9 428.5,485.6 427.7,486.4 426.9,487.2 426.0,488.0 425.2,488.7 424.4,489.4 423.7,490.1 423.0,490.7 422.4,491.3 421.9,491.8 421.3,492.2 420.7,492.7 420.2,493.1 419.7,493.4 419.2,493.8 418.8,494.1 418.5,494.4 418.2,494.7 418.0,495.0 417.9,495.3 417.9,495.6 418.0,495.9 418.3,496.2 418.6,496.5 418.9,496.8 419.4,497.1 419.9,497.4 420.5,497.6 421.2,497.9 421.8,498.2 422.6,498.5 423.3,498.8 424.1,499.1 425.0,499.4 426.0,499.7 427.1,499.9 428.2,500.2 429.4,500.5 430.7,500.8 431.9,501.1 433.1,501.4 434.2,501.7 435.3,502.1 436.3,502.4 437.1,502.8 437.8,503.2 438.4,503.6 439.0,504.0 439.5,504.4 440.0,504.9 440.4,505.3 440.8,505.8 441.1,506.3 441.4,506.8 441.7,507.4 441.9,508.0 442.2,508.6 442.4,509.3 442.5,510.0 442.6,510.8 442.6,511.6 442.6,512.4 442.6,513.3 442.6,514.2 442.6,515.1 442.6,516.0 442.6,516.9 442.6,517.8 442.7,518.7 442.9,519.6 443.0,520.5 443.2,521.4 443.4,522.4 443.6,523.3 443.8,524.2 444.0,525.2 444.2,526.2 444.4,527.2 444.6,528.2 444.8,529.2 445.0,530.3 445.2,531.4 445.3,532.5 445.5,533.7 445.6,534.9 445.8,536.1 445.9,537.3 446.0,538.6 446.2,539.8 446.3,541.0 446.4,542.3 446.6,543.5 446.7,544.7 446.8,545.9 446.9,547.2 447.0,548.4 447.1,549.7 447.2,550.9 447.3,552.1 447.4,553.4 447.5,554.6 447.6,555.8 447.7,556.9 447.7,558.1 447.8,559.2 447.9,560.2 448.0,561.3 448.0,562.3 448.1,563.2 448.2,564.2 448.2,565.1 448.3,566.1 448.3,567.0 448.4,567.9 448.4,568.8 448.4,569.8 448.4,570.7 448.3,571.7 448.3,572.7 448.2,573.6 448.0,574.6 447.9,575.6 447.8,576.5 447.6,577.5 447.5,578.4 447.4,579.4 447.3,580.4 447.3,581.3 447.2,582.3 447.3,583.3 447.3,584.2 447.4,585.1 447.4,586.0 447.5,587.0 447.6,587.9 447.7,588.8 447.9,589.8 448.0,590.8 448.1,591.8 448.3,592.8 448.4,593.9 448.5,595.0 448.6,596.1 448.8,597.2 449.0,598.4 449.2,599.5 449.3,600.7 449.5,601.9 449.6,603.2 449.8,604.4 449.9,605.7 450.0,607.0 450.1,608.3 450.1,609.7 450.1,611.1 450.1,612.5 450.0,614.0 449.9,615.5 449.9,617.0 449.8,618.5 449.7,620.0 449.6,621.5 449.6,622.9 449.5,624.3 449.5,625.6 449.5,627.0 449.5,628.3 449.6,629.6 449.6,630.9 449.7,632.2 449.7,633.4 449.8,634.6 449.8,635.8 449.9,637.0 450.0,638.1 450.0,639.1 450.1,640.1 450.1,641.0 450.1,641.9 450.1,642.7 450.1,643.5 450.2,644.3 450.2,645.0 450.2,645.7 450.2,646.3 450.3,646.9 450.4,647.6 450.5,648.2 450.6,648.8 450.8,649.3 451.1,649.9 451.4,650.4 451.8,650.9 452.2,651.3 452.5,651.8 452.9,652.2 453.2,652.6 453.5,653.1 453.8,653.5 453.9,654.0 454.0,654.5 454.0,655.1 453.9,655.6 453.7,656.2 453.4,656.7 453.2,657.3 452.8,657.9 452.5,658.5 452.2,659.1 451.9,659.7 451.6,660.4 451.4,661.1 451.2,661.8 451.1,662.5 450.9,663.3 450.9,664.2 450.8,665.1 450.7,666.0 450.7,666.9 450.6,667.8 450.6,668.7 450.6,669.6 450.6,670.4 450.6,671.2 450.6,671.9 450.6,672.5 450.6,673.1 450.5,673.7 450.4,674.2 450.3,674.7 450.2,675.2 450.2,675.6 450.3,676.1 450.5,676.5 450.8,676.9 451.2,677.3 451.8,677.7 452.4,678.0 453.2,678.4 454.0,678.7 454.9,679.0 455.9,679.3 457.0,679.6 458.3,679.9 459.6,680.1 461.1,680.4 462.7,680.6 464.5,680.9 466.4,681.1 468.6,681.4 470.9,681.7 473.4,681.9 476.1,682.1 478.9,682.4 481.8,682.6 484.8,682.9 487.9,683.1 491.0,683.3 494.1,683.6 497.2,683.8 500.3,684.0 503.4,684.3 506.5,684.5 509.7,684.7 513.0,685.0 516.3,685.2 519.6,685.5 523.0,685.7 526.4,685.9 529.7,686.2 533.1,686.4 536.4,686.7 539.7,686.9 543.1,687.2 546.6,687.4 550.1,687.7 553.7,688.0 557.2,688.3 560.8,688.6 564.2,688.8 567.6,689.1 570.8,689.4 573.8,689.6 576.7,689.9 579.2,690.1 581.6,690.3 584.0,690.5 586.2,690.7 588.3,690.9 590.3,691.0 592.2,691.2 593.8,691.4 595.2,691.5 596.3,691.7 597.1,691.8 597.7,692.0 597.8,692.1 597.7,692.3 597.1,692.4 596.3,692.6 595.2,692.7 593.8,692.8 592.2,693.0 590.3,693.1 588.3,693.3 586.2,693.4 584.0,693.6 581.6,693.7 579.2,693.9 576.6,694.0 573.7,694.2 570.4,694.3 567.0,694.5 563.4,694.7 559.7,694.8 556.0,695.0 552.4,695.2 548.9,695.4 545.6,695.5 542.5,695.7 539.7,695.9 537.2,696.1 534.7,696.2 532.4,696.4 530.1,696.6 528.0,696.8 526.0,697.0 524.1,697.2 522.4,697.4 520.8,697.5 519.4,697.7 518.2,697.8 517.2,697.9 449.5,697.9" fill="#f7aad9" clip-path="url(#pos392)"/>
<polyline points="440.5,466.7 440.3,467.0 440.1,467.5 439.9,468.0 439.7,468.5 439.4,469.1 439.1,469.8 438.8,470.4 438.5,471.1 438.2,471.8 437.8,472.6 437.5,473.2 437.1,473.9 436.7,474.6 436.3,475.3 435.9,476.0 435.5,476.7 435.1,477.4 434.6,478.2 434.2,478.9 433.7,479.7 433.2,480.4 432.6,481.1 432.0,481.9 431.5,482.6 430.8,483.3 430.1,484.1 429.3,484.9 428.5,485.6 427.7,486.4 426.9,487.2 426.0,488.0 425.2,488.7 424.4,489.4 423.7,490.1 423.0,490.7 422.4,491.3 421.9,491.8 421.3,492.2 420.7,492.7 420.2,493.1 419.7,493.4 419.2,493.8 418.8,494.1 418.5,494.4 418.2,494.7 418.0,495.0 417.9,495.3 417.9,495.6 418.0,495.9 418.3,496.2 418.6,496.5 418.9,496.8 419.4,497.1 419.9,497.4 420.5,497.6 421.2,497.9 421.8,498.2 422.6,498.5 423.3,498.8 424.1,499.1 425.0,499.4 426.0,499.7 427.1,499.9 428.2,500.2 429.4,500.5 430.7,500.8 431.9,501.1 433.1,501.4 434.2,501.7 435.3,502.1 436.3,502.4 437.1,502.8 437.8,503.2 438.4,503.6 439.0,504.0 439.5,504.4 440.0,504.9 440.4,505.3 440.8,505.8 441.1,506.3 441.4,506.8 441.7,507.4 441.9,508.0 442.2,508.6 442.4,509.3 442.5,510.0 442.6,510.8 442.6,511.6 442.6,512.4 442.6,513.3 442.6,514.2 442.6,515.1 442.6,516.0 442.6,516.9 442.6,517.8 442.7,518.7 442.9,519.6 443.0,520.5 443.2,521.4 443.4,522.4 443.6,523.3 443.8,524.2 444.0,525.2 444.2,526.2 444.4,527.2 444.6,528.2 444.8,529.2 445.0,530.3 445.2,531.4 445.3,532.5 445.5,533.7 445.6,534.9 445.8,536.1 445.9,537.3 446.0,538.6 446.2,539.8 446.3,541.0 446.4,542.3 446.6,543.5 446.7,544.7 446.8,545.9 446.9,547.2 447.0,548.4 447.1,549.7 447.2,550.9 447.3,552.1 447.4,553.4 447.5,554.6 447.6,555.8 447.7,556.9 447.7,558.1 447.8,559.2 447.9,560.2 448.0,561.3 448.0,562.3 448.1,563.2 448.2,564.2 448.2,565.1 448.3,566.1 448.3,567.0 448.4,567.9 448.4,568.8 448.4,569.8 448.4,570.7 448.3,571.7 448.3,572.7 448.2,573.6 448.0,574.6 447.9,575.6 447.8,576.5 447.6,577.5 447.5,578.4 447.4,579.4 447.3,580.4 447.3,581.3 447.2,582.3 447.3,583.3 447.3,584.2 447.4,585.1 447.4,586.0 447.5,587.0 447.6,587.9 447.7,588.8 447.9,589.8 448.0,590.8 448.1,591.8 448.3,592.8 448.4,593.9 448.5,595.0 448.6,596.1 448.8,597.2 449.0,598.4 449.2,599.5 449.3,600.7 449.5,601.9 449.6,603.2 449.8,604.4 449.9,605.7 450.0,607.0 450.1,608.3 450.1,609.7 450.1,611.1 450.1,612.5 450.0,614.0 449.9,615.5 449.9,617.0 449.8,618.5 449.7,620.0 449.6,621.5 449.6,622.9 449.5,624.3 449.5,625.6 449.5,627.0 449.5,628.3 449.6,629.6 449.6,630.9 449.7,632.2 449.7,633.4 449.8,634.6 449.8,635.8 449.9,637.0 450.0,638.1 450.0,639.1 450.1,640.1 450.1,641.0 450.1,641.9 450.1,642.7 450.1,643.5 450.2,644.3 450.2,645.0 450.2,645.7 450.2,646.3 450.3,646.9 450.4,647.6 450.5,648.2 450.6,648.8 450.8,649.3 451.1,649.9 451.4,650.4 451.8,650.9 452.2,651.3 452.5,651.8 452.9,652.2 453.2,652.6 453.5,653.1 453.8,653.5 453.9,654.0 454.0,654.5 454.0,655.1 453.9,655.6 453.7,656.2 453.4,656.7 453.2,657.3 452.8,657.9 452.5,658.5 452.2,659.1 451.9,659.7 451.6,660.4 451.4,661.1 451.2,661.8 451.1,662.5 450.9,663.3 450.9,664.2 450.8,665.1 450.7,666.0 450.7,666.9 450.6,667.8 450.6,668.7 450.6,669.6 450.6,670.4 450.6,671.2 450.6,671.9 450.6,672.5 450.6,673.1 450.5,673.7 450.4,674.2 450.3,674.7 450.2,675.2 450.2,675.6 450.3,676.1 450.5,676.5 450.8,676.9 451.2,677.3 451.8,677.7 452.4,678.0 453.2,678.4 454.0,678.7 454.9,679.0 455.9,679.3 457.0,679.6 458.3,679.9 459.6,680.1 461.1,680.4 462.7,680.6 464.5,680.9 466.4,681.1 468.6,681.4 470.9,681.7 473.4,681.9 476.1,682.1 478.9,682.4 481.8,682.6 484.8,682.9 487.9,683.1 491.0,683.3 494.1,683.6 497.2,683.8 500.3,684.0 503.4,684.3 506.5,684.5 509.7,684.7 513.0,685.0 516.3,685.2 519.6,685.5 523.0,685.7 526.4,685.9 529.7,686.2 533.1,686.4 536.4,686.7 539.7,686.9 543.1,687.2 546.6,687.4 550.1,687.7 553.7,688.0 557.2,688.3 560.8,688.6 564.2,688.8 567.6,689.1 570.8,689.4 573.8,689.6 576.7,689.9 579.2,690.1 581.6,690.3 584.0,690.5 586.2,690.7 588.3,690.9 590.3,691.0 592.2,691.2 593.8,691.4 595.2,691.5 596.3,691.7 597.1,691.8 597.7,692.0 597.8,692.1 597.7,692.3 597.1,692.4 596.3,692.6 595.2,692.7 593.8,692.8 592.2,693.0 590.3,693.1 588.3,693.3 586.2,693.4 584.0,693.6 581.6,693.7 579.2,693.9 576.6,694.0 573.7,694.2 570.4,694.3 567.0,694.5 563.4,694.7 559.7,694.8 556.0,695.0 552.4,695.2 548.9,695.4 545.6,695.5 542.5,695.7 539.7,695.9 537.2,696.1 534.7,696.2 532.4,696.4 530.1,696.6 528.0,696.8 526.0,697.0 524.1,697.2 522.4,697.4 520.8,697.5 519.4,697.7 518.2,697.8 517.2,697.9" fill="none" stroke="#4a4a4a" stroke-width="1.6" stroke-linejoin="round"/>
<line x1="449.5" y1="466.7" x2="449.5" y2="698.0" stroke="#222" stroke-width="1.3" stroke-dasharray="3 2.5"/>
<line x1="392.9" y1="582.3" x2="677.8" y2="582.3" stroke="#111" stroke-width="1.6" stroke-dasharray="8 5.5"/>
<rect x="392.9" y="466.7" width="282.9" height="231.3" fill="none" stroke="#8a8a8a" stroke-width="1.3"/>
<line x1="392.9" y1="697.9" x2="397.4" y2="697.9" stroke="#8a8a8a" stroke-width="1.1"/>
<line x1="392.9" y1="669.0" x2="395.9" y2="669.0" stroke="#8a8a8a" stroke-width="1.1"/>
<line x1="392.9" y1="640.1" x2="397.4" y2="640.1" stroke="#8a8a8a" stroke-width="1.1"/>
<line x1="392.9" y1="611.2" x2="395.9" y2="611.2" stroke="#8a8a8a" stroke-width="1.1"/>
<line x1="392.9" y1="582.3" x2="397.4" y2="582.3" stroke="#8a8a8a" stroke-width="1.1"/>
<line x1="392.9" y1="553.4" x2="395.9" y2="553.4" stroke="#8a8a8a" stroke-width="1.1"/>
<line x1="392.9" y1="524.5" x2="397.4" y2="524.5" stroke="#8a8a8a" stroke-width="1.1"/>
<line x1="392.9" y1="495.6" x2="395.9" y2="495.6" stroke="#8a8a8a" stroke-width="1.1"/>
<line x1="392.9" y1="466.7" x2="397.4" y2="466.7" stroke="#8a8a8a" stroke-width="1.1"/>
<text x="387.4" y="473.1" font-size="19.5" fill="#000" stroke="#000" stroke-width="0.35" text-anchor="end" >4</text>
<text x="387.4" y="530.9" font-size="19.5" fill="#000" stroke="#000" stroke-width="0.35" text-anchor="end" >2</text>
<text x="387.4" y="588.7" font-size="19.5" fill="#000" stroke="#000" stroke-width="0.35" text-anchor="end" >0</text>
<text x="387.4" y="646.5" font-size="19.5" fill="#000" stroke="#000" stroke-width="0.35" text-anchor="end" >-2</text>
<text x="387.4" y="704.3" font-size="19.5" fill="#000" stroke="#000" stroke-width="0.35" text-anchor="end" >-4</text>
<line x1="393.1" y1="698.0" x2="393.1" y2="693.5" stroke="#8a8a8a" stroke-width="1.1"/>
<text x="393.1" y="719.6" font-size="19.5" fill="#000" stroke="#000" stroke-width="0.35" text-anchor="middle" >-1</text>
<line x1="449.5" y1="698.0" x2="449.5" y2="693.5" stroke="#8a8a8a" stroke-width="1.1"/>
<text x="449.5" y="719.6" font-size="19.5" fill="#000" stroke="#000" stroke-width="0.35" text-anchor="middle" >0</text>
<line x1="505.9" y1="698.0" x2="505.9" y2="693.5" stroke="#8a8a8a" stroke-width="1.1"/>
<text x="505.9" y="719.6" font-size="19.5" fill="#000" stroke="#000" stroke-width="0.35" text-anchor="middle" >1</text>
<line x1="562.3" y1="698.0" x2="562.3" y2="693.5" stroke="#8a8a8a" stroke-width="1.1"/>
<text x="562.3" y="719.6" font-size="19.5" fill="#000" stroke="#000" stroke-width="0.35" text-anchor="middle" >2</text>
<line x1="618.7" y1="698.0" x2="618.7" y2="693.5" stroke="#8a8a8a" stroke-width="1.1"/>
<text x="618.7" y="719.6" font-size="19.5" fill="#000" stroke="#000" stroke-width="0.35" text-anchor="middle" >3</text>
<line x1="675.1" y1="698.0" x2="675.1" y2="693.5" stroke="#8a8a8a" stroke-width="1.1"/>
<text x="675.1" y="719.6" font-size="19.5" fill="#000" stroke="#000" stroke-width="0.35" text-anchor="middle" >4</text>
<line x1="421.3" y1="698.0" x2="421.3" y2="695.0" stroke="#8a8a8a" stroke-width="1.1"/>
<line x1="477.7" y1="698.0" x2="477.7" y2="695.0" stroke="#8a8a8a" stroke-width="1.1"/>
<line x1="534.1" y1="698.0" x2="534.1" y2="695.0" stroke="#8a8a8a" stroke-width="1.1"/>
<line x1="590.5" y1="698.0" x2="590.5" y2="695.0" stroke="#8a8a8a" stroke-width="1.1"/>
<line x1="646.9" y1="698.0" x2="646.9" y2="695.0" stroke="#8a8a8a" stroke-width="1.1"/>
<text x="681.0" y="589.2" font-size="19" fill="#000" stroke="#000" stroke-width="0.35" text-anchor="start" >0</text>
<text x="0.0" y="0.0" font-size="19.2" fill="#000" stroke="#000" stroke-width="0.35" text-anchor="middle" transform="translate(363.0 582.3) rotate(-90)">Energy (eV)</text>
<text x="355.0" y="489.5" font-size="34" fill="#000" stroke="#000" stroke-width="0.35" text-anchor="start" >g</text>
<text x="543.9" y="491.1" font-size="19.5" fill="#000" stroke="#000" stroke-width="0.35" text-anchor="start" >Ru<tspan font-size="13" dy="4">SA</tspan><tspan dy="-4">/&#945;-MoC</tspan><tspan font-size="13" dy="4">1-x</tspan></text>
<text x="495.5" y="534.0" font-size="19" fill="#000" stroke="#000" stroke-width="0.35" text-anchor="start" >ICOHP:--1.03</text>
<text x="538.0" y="735.0" font-size="19" fill="#000" stroke="#000" stroke-width="0.35" text-anchor="middle" >-pCOHP</text>
<defs>
<clipPath id="neg734"><rect x="734.7" y="470.5" width="143.79999999999995" height="231.70000000000005"/></clipPath>
<clipPath id="pos734"><rect x="878.5" y="470.5" width="143.70000000000005" height="231.70000000000005"/></clipPath>
<linearGradient id="hgreen" x1="0" y1="0" x2="0" y2="1"><stop offset="0" stop-color="#93d394"/><stop offset="0.55" stop-color="#9edca8"/><stop offset="1" stop-color="#a6ecc8"/></linearGradient>
</defs>
<polygon points="878.5,470.6 825.9,470.6 826.8,470.9 827.8,471.2 829.1,471.6 830.5,472.1 832.1,472.6 833.7,473.1 835.4,473.7 837.0,474.2 838.7,474.8 840.3,475.4 841.8,475.9 843.1,476.4 844.5,476.9 845.9,477.4 847.3,477.9 848.8,478.3 850.2,478.8 851.6,479.3 852.9,479.8 854.0,480.3 855.0,480.8 855.8,481.2 856.3,481.7 856.5,482.2 856.4,482.6 855.9,483.1 855.2,483.5 854.2,483.9 853.1,484.3 851.8,484.7 850.5,485.2 849.2,485.6 847.9,486.0 846.8,486.5 845.8,486.9 845.0,487.4 844.5,487.9 844.0,488.4 843.6,488.9 843.3,489.5 843.0,490.0 842.8,490.6 842.6,491.1 842.5,491.7 842.3,492.2 842.1,492.8 841.9,493.3 841.7,493.8 841.5,494.2 841.6,494.7 841.7,495.2 841.9,495.6 842.1,496.0 842.3,496.5 842.3,496.9 842.2,497.3 841.9,497.7 841.2,498.1 840.2,498.6 838.8,499.0 837.0,499.4 834.8,499.8 832.2,500.2 829.4,500.6 826.3,501.0 823.1,501.4 819.8,501.7 816.3,502.1 812.9,502.5 809.5,502.9 806.2,503.2 803.0,503.6 799.7,504.0 796.0,504.3 792.0,504.6 788.0,504.9 783.9,505.2 779.9,505.6 776.1,505.9 772.7,506.2 769.7,506.5 767.3,506.9 765.6,507.3 764.7,507.7 764.7,508.1 765.4,508.5 766.8,509.0 768.7,509.5 771.1,510.0 773.8,510.5 776.8,511.0 780.0,511.6 783.2,512.1 786.5,512.5 789.6,513.0 792.5,513.4 795.4,513.9 798.6,514.3 802.0,514.7 805.5,515.0 809.2,515.4 812.8,515.8 816.4,516.1 819.8,516.5 823.0,516.8 825.9,517.1 828.5,517.5 830.7,517.8 832.5,518.1 834.0,518.4 835.3,518.6 836.4,518.9 837.2,519.1 837.9,519.3 838.4,519.6 838.7,519.9 838.9,520.1 839.0,520.5 838.9,520.8 838.8,521.3 838.5,521.7 837.9,522.3 837.1,522.8 836.2,523.4 835.1,524.0 833.8,524.6 832.6,525.3 831.3,525.9 830.0,526.6 828.9,527.3 827.8,527.9 826.9,528.5 826.1,529.1 825.5,529.7 824.9,530.3 824.3,531.0 823.8,531.6 823.3,532.2 822.8,532.8 822.3,533.4 821.6,534.0 821.0,534.6 820.2,535.2 819.2,535.7 818.2,536.3 817.1,536.8 816.0,537.3 814.8,537.8 813.5,538.2 812.2,538.7 810.8,539.2 809.3,539.6 807.8,540.1 806.3,540.6 804.7,541.0 803.0,541.5 801.1,542.0 798.9,542.5 796.4,543.0 793.9,543.5 791.2,544.0 788.6,544.5 786.1,545.0 783.8,545.5 781.8,546.1 780.1,546.6 778.8,547.1 778.1,547.6 777.9,548.1 778.0,548.7 778.4,549.2 779.1,549.7 780.1,550.2 781.3,550.8 782.8,551.3 784.5,551.8 786.3,552.4 788.2,552.9 790.3,553.4 792.5,554.0 794.8,554.5 797.5,555.0 800.5,555.5 803.7,556.0 807.1,556.4 810.6,556.9 814.1,557.4 817.6,557.9 821.1,558.5 824.5,559.1 827.7,559.7 830.7,560.3 833.6,561.1 836.5,561.8 839.5,562.6 842.4,563.4 845.2,564.3 848.0,565.2 850.7,566.1 853.2,567.0 855.5,567.9 857.7,568.7 859.6,569.6 861.3,570.5 862.7,571.3 863.8,572.2 864.6,573.1 865.3,574.0 865.8,574.9 866.1,575.8 866.4,576.7 866.6,577.6 866.8,578.4 866.9,579.2 867.2,579.9 867.5,580.6 867.9,581.2 868.3,581.8 868.7,582.4 869.0,582.9 869.4,583.3 869.7,583.8 870.0,584.2 870.2,584.6 870.4,585.1 870.5,585.5 870.5,585.9 870.4,586.4 870.2,586.9 869.9,587.4 869.4,587.9 868.9,588.4 868.4,588.9 867.8,589.4 867.1,589.9 866.5,590.4 865.9,590.8 865.2,591.3 864.7,591.8 864.2,592.2 863.6,592.6 863.1,593.0 862.5,593.3 861.8,593.7 861.2,594.0 860.6,594.3 860.1,594.6 859.6,595.0 859.2,595.3 859.0,595.7 858.9,596.1 858.9,596.5 859.1,597.0 859.6,597.4 860.1,597.9 860.8,598.3 861.6,598.8 862.4,599.3 863.3,599.8 864.2,600.3 865.1,601.0 866.0,601.6 866.8,602.4 867.5,603.2 868.2,604.1 868.9,605.0 869.5,606.1 870.2,607.2 870.9,608.3 871.5,609.5 872.2,610.7 872.8,611.9 873.3,613.2 873.8,614.5 874.3,615.8 874.7,617.1 875.0,618.4 875.3,619.8 875.5,621.3 875.6,622.8 875.7,624.3 875.8,625.8 875.9,627.4 875.9,628.9 876.0,630.4 876.0,631.8 876.0,633.2 876.1,634.5 876.2,635.7 876.2,637.0 876.3,638.2 876.3,639.4 876.3,640.6 876.3,641.7 876.3,642.8 876.4,643.8 876.4,644.8 876.4,645.7 876.5,646.5 876.6,647.2 876.7,647.8 876.7,648.1 876.8,648.4 876.8,648.5 876.9,648.6 877.0,648.7 877.1,648.7 877.2,648.8 877.5,648.9 877.7,649.2 878.1,649.5 878.5,650.1 879.0,650.8 879.7,651.7 880.4,652.6 881.2,653.7 882.0,654.8 882.9,656.0 883.8,657.1 884.7,658.3 885.6,659.5 886.4,660.6 887.3,661.6 888.1,662.5 888.9,663.4 889.8,664.2 890.7,665.0 891.7,665.7 892.7,666.5 893.6,667.2 894.4,667.9 895.2,668.5 895.8,669.2 896.3,669.9 896.6,670.5 896.7,671.2 896.4,671.9 895.9,672.5 895.0,673.2 894.0,673.8 892.9,674.4 891.7,675.0 890.5,675.6 889.3,676.2 888.3,676.9 887.5,677.6 886.9,678.3 886.6,679.0 886.7,679.9 886.9,680.7 887.3,681.6 887.9,682.6 888.6,683.5 889.4,684.5 890.3,685.5 891.2,686.5 892.2,687.4 893.1,688.3 894.0,689.2 894.8,690.0 895.5,690.8 896.4,691.6 897.2,692.4 898.1,693.1 899.0,693.8 900.0,694.5 900.8,695.2 901.7,695.9 902.6,696.5 903.4,697.1 904.1,697.6 904.8,698.1 905.4,698.6 906.0,699.1 906.6,699.5 907.1,699.9 907.6,700.3 908.0,700.7 908.5,701.0 908.9,701.3 909.2,701.6 909.5,701.8 909.8,702.0 910.0,702.2 878.5,702.2" fill="url(#hgreen)" clip-path="url(#neg734)"/>
<polygon points="878.5,470.6 825.9,470.6 826.8,470.9 827.8,471.2 829.1,471.6 830.5,472.1 832.1,472.6 833.7,473.1 835.4,473.7 837.0,474.2 838.7,474.8 840.3,475.4 841.8,475.9 843.1,476.4 844.5,476.9 845.9,477.4 847.3,477.9 848.8,478.3 850.2,478.8 851.6,479.3 852.9,479.8 854.0,480.3 855.0,480.8 855.8,481.2 856.3,481.7 856.5,482.2 856.4,482.6 855.9,483.1 855.2,483.5 854.2,483.9 853.1,484.3 851.8,484.7 850.5,485.2 849.2,485.6 847.9,486.0 846.8,486.5 845.8,486.9 845.0,487.4 844.5,487.9 844.0,488.4 843.6,488.9 843.3,489.5 843.0,490.0 842.8,490.6 842.6,491.1 842.5,491.7 842.3,492.2 842.1,492.8 841.9,493.3 841.7,493.8 841.5,494.2 841.6,494.7 841.7,495.2 841.9,495.6 842.1,496.0 842.3,496.5 842.3,496.9 842.2,497.3 841.9,497.7 841.2,498.1 840.2,498.6 838.8,499.0 837.0,499.4 834.8,499.8 832.2,500.2 829.4,500.6 826.3,501.0 823.1,501.4 819.8,501.7 816.3,502.1 812.9,502.5 809.5,502.9 806.2,503.2 803.0,503.6 799.7,504.0 796.0,504.3 792.0,504.6 788.0,504.9 783.9,505.2 779.9,505.6 776.1,505.9 772.7,506.2 769.7,506.5 767.3,506.9 765.6,507.3 764.7,507.7 764.7,508.1 765.4,508.5 766.8,509.0 768.7,509.5 771.1,510.0 773.8,510.5 776.8,511.0 780.0,511.6 783.2,512.1 786.5,512.5 789.6,513.0 792.5,513.4 795.4,513.9 798.6,514.3 802.0,514.7 805.5,515.0 809.2,515.4 812.8,515.8 816.4,516.1 819.8,516.5 823.0,516.8 825.9,517.1 828.5,517.5 830.7,517.8 832.5,518.1 834.0,518.4 835.3,518.6 836.4,518.9 837.2,519.1 837.9,519.3 838.4,519.6 838.7,519.9 838.9,520.1 839.0,520.5 838.9,520.8 838.8,521.3 838.5,521.7 837.9,522.3 837.1,522.8 836.2,523.4 835.1,524.0 833.8,524.6 832.6,525.3 831.3,525.9 830.0,526.6 828.9,527.3 827.8,527.9 826.9,528.5 826.1,529.1 825.5,529.7 824.9,530.3 824.3,531.0 823.8,531.6 823.3,532.2 822.8,532.8 822.3,533.4 821.6,534.0 821.0,534.6 820.2,535.2 819.2,535.7 818.2,536.3 817.1,536.8 816.0,537.3 814.8,537.8 813.5,538.2 812.2,538.7 810.8,539.2 809.3,539.6 807.8,540.1 806.3,540.6 804.7,541.0 803.0,541.5 801.1,542.0 798.9,542.5 796.4,543.0 793.9,543.5 791.2,544.0 788.6,544.5 786.1,545.0 783.8,545.5 781.8,546.1 780.1,546.6 778.8,547.1 778.1,547.6 777.9,548.1 778.0,548.7 778.4,549.2 779.1,549.7 780.1,550.2 781.3,550.8 782.8,551.3 784.5,551.8 786.3,552.4 788.2,552.9 790.3,553.4 792.5,554.0 794.8,554.5 797.5,555.0 800.5,555.5 803.7,556.0 807.1,556.4 810.6,556.9 814.1,557.4 817.6,557.9 821.1,558.5 824.5,559.1 827.7,559.7 830.7,560.3 833.6,561.1 836.5,561.8 839.5,562.6 842.4,563.4 845.2,564.3 848.0,565.2 850.7,566.1 853.2,567.0 855.5,567.9 857.7,568.7 859.6,569.6 861.3,570.5 862.7,571.3 863.8,572.2 864.6,573.1 865.3,574.0 865.8,574.9 866.1,575.8 866.4,576.7 866.6,577.6 866.8,578.4 866.9,579.2 867.2,579.9 867.5,580.6 867.9,581.2 868.3,581.8 868.7,582.4 869.0,582.9 869.4,583.3 869.7,583.8 870.0,584.2 870.2,584.6 870.4,585.1 870.5,585.5 870.5,585.9 870.4,586.4 870.2,586.9 869.9,587.4 869.4,587.9 868.9,588.4 868.4,588.9 867.8,589.4 867.1,589.9 866.5,590.4 865.9,590.8 865.2,591.3 864.7,591.8 864.2,592.2 863.6,592.6 863.1,593.0 862.5,593.3 861.8,593.7 861.2,594.0 860.6,594.3 860.1,594.6 859.6,595.0 859.2,595.3 859.0,595.7 858.9,596.1 858.9,596.5 859.1,597.0 859.6,597.4 860.1,597.9 860.8,598.3 861.6,598.8 862.4,599.3 863.3,599.8 864.2,600.3 865.1,601.0 866.0,601.6 866.8,602.4 867.5,603.2 868.2,604.1 868.9,605.0 869.5,606.1 870.2,607.2 870.9,608.3 871.5,609.5 872.2,610.7 872.8,611.9 873.3,613.2 873.8,614.5 874.3,615.8 874.7,617.1 875.0,618.4 875.3,619.8 875.5,621.3 875.6,622.8 875.7,624.3 875.8,625.8 875.9,627.4 875.9,628.9 876.0,630.4 876.0,631.8 876.0,633.2 876.1,634.5 876.2,635.7 876.2,637.0 876.3,638.2 876.3,639.4 876.3,640.6 876.3,641.7 876.3,642.8 876.4,643.8 876.4,644.8 876.4,645.7 876.5,646.5 876.6,647.2 876.7,647.8 876.7,648.1 876.8,648.4 876.8,648.5 876.9,648.6 877.0,648.7 877.1,648.7 877.2,648.8 877.5,648.9 877.7,649.2 878.1,649.5 878.5,650.1 879.0,650.8 879.7,651.7 880.4,652.6 881.2,653.7 882.0,654.8 882.9,656.0 883.8,657.1 884.7,658.3 885.6,659.5 886.4,660.6 887.3,661.6 888.1,662.5 888.9,663.4 889.8,664.2 890.7,665.0 891.7,665.7 892.7,666.5 893.6,667.2 894.4,667.9 895.2,668.5 895.8,669.2 896.3,669.9 896.6,670.5 896.7,671.2 896.4,671.9 895.9,672.5 895.0,673.2 894.0,673.8 892.9,674.4 891.7,675.0 890.5,675.6 889.3,676.2 888.3,676.9 887.5,677.6 886.9,678.3 886.6,679.0 886.7,679.9 886.9,680.7 887.3,681.6 887.9,682.6 888.6,683.5 889.4,684.5 890.3,685.5 891.2,686.5 892.2,687.4 893.1,688.3 894.0,689.2 894.8,690.0 895.5,690.8 896.4,691.6 897.2,692.4 898.1,693.1 899.0,693.8 900.0,694.5 900.8,695.2 901.7,695.9 902.6,696.5 903.4,697.1 904.1,697.6 904.8,698.1 905.4,698.6 906.0,699.1 906.6,699.5 907.1,699.9 907.6,700.3 908.0,700.7 908.5,701.0 908.9,701.3 909.2,701.6 909.5,701.8 909.8,702.0 910.0,702.2 878.5,702.2" fill="#f7aad9" clip-path="url(#pos734)"/>
<polyline points="825.9,470.6 826.8,470.9 827.8,471.2 829.1,471.6 830.5,472.1 832.1,472.6 833.7,473.1 835.4,473.7 837.0,474.2 838.7,474.8 840.3,475.4 841.8,475.9 843.1,476.4 844.5,476.9 845.9,477.4 847.3,477.9 848.8,478.3 850.2,478.8 851.6,479.3 852.9,479.8 854.0,480.3 855.0,480.8 855.8,481.2 856.3,481.7 856.5,482.2 856.4,482.6 855.9,483.1 855.2,483.5 854.2,483.9 853.1,484.3 851.8,484.7 850.5,485.2 849.2,485.6 847.9,486.0 846.8,486.5 845.8,486.9 845.0,487.4 844.5,487.9 844.0,488.4 843.6,488.9 843.3,489.5 843.0,490.0 842.8,490.6 842.6,491.1 842.5,491.7 842.3,492.2 842.1,492.8 841.9,493.3 841.7,493.8 841.5,494.2 841.6,494.7 841.7,495.2 841.9,495.6 842.1,496.0 842.3,496.5 842.3,496.9 842.2,497.3 841.9,497.7 841.2,498.1 840.2,498.6 838.8,499.0 837.0,499.4 834.8,499.8 832.2,500.2 829.4,500.6 826.3,501.0 823.1,501.4 819.8,501.7 816.3,502.1 812.9,502.5 809.5,502.9 806.2,503.2 803.0,503.6 799.7,504.0 796.0,504.3 792.0,504.6 788.0,504.9 783.9,505.2 779.9,505.6 776.1,505.9 772.7,506.2 769.7,506.5 767.3,506.9 765.6,507.3 764.7,507.7 764.7,508.1 765.4,508.5 766.8,509.0 768.7,509.5 771.1,510.0 773.8,510.5 776.8,511.0 780.0,511.6 783.2,512.1 786.5,512.5 789.6,513.0 792.5,513.4 795.4,513.9 798.6,514.3 802.0,514.7 805.5,515.0 809.2,515.4 812.8,515.8 816.4,516.1 819.8,516.5 823.0,516.8 825.9,517.1 828.5,517.5 830.7,517.8 832.5,518.1 834.0,518.4 835.3,518.6 836.4,518.9 837.2,519.1 837.9,519.3 838.4,519.6 838.7,519.9 838.9,520.1 839.0,520.5 838.9,520.8 838.8,521.3 838.5,521.7 837.9,522.3 837.1,522.8 836.2,523.4 835.1,524.0 833.8,524.6 832.6,525.3 831.3,525.9 830.0,526.6 828.9,527.3 827.8,527.9 826.9,528.5 826.1,529.1 825.5,529.7 824.9,530.3 824.3,531.0 823.8,531.6 823.3,532.2 822.8,532.8 822.3,533.4 821.6,534.0 821.0,534.6 820.2,535.2 819.2,535.7 818.2,536.3 817.1,536.8 816.0,537.3 814.8,537.8 813.5,538.2 812.2,538.7 810.8,539.2 809.3,539.6 807.8,540.1 806.3,540.6 804.7,541.0 803.0,541.5 801.1,542.0 798.9,542.5 796.4,543.0 793.9,543.5 791.2,544.0 788.6,544.5 786.1,545.0 783.8,545.5 781.8,546.1 780.1,546.6 778.8,547.1 778.1,547.6 777.9,548.1 778.0,548.7 778.4,549.2 779.1,549.7 780.1,550.2 781.3,550.8 782.8,551.3 784.5,551.8 786.3,552.4 788.2,552.9 790.3,553.4 792.5,554.0 794.8,554.5 797.5,555.0 800.5,555.5 803.7,556.0 807.1,556.4 810.6,556.9 814.1,557.4 817.6,557.9 821.1,558.5 824.5,559.1 827.7,559.7 830.7,560.3 833.6,561.1 836.5,561.8 839.5,562.6 842.4,563.4 845.2,564.3 848.0,565.2 850.7,566.1 853.2,567.0 855.5,567.9 857.7,568.7 859.6,569.6 861.3,570.5 862.7,571.3 863.8,572.2 864.6,573.1 865.3,574.0 865.8,574.9 866.1,575.8 866.4,576.7 866.6,577.6 866.8,578.4 866.9,579.2 867.2,579.9 867.5,580.6 867.9,581.2 868.3,581.8 868.7,582.4 869.0,582.9 869.4,583.3 869.7,583.8 870.0,584.2 870.2,584.6 870.4,585.1 870.5,585.5 870.5,585.9 870.4,586.4 870.2,586.9 869.9,587.4 869.4,587.9 868.9,588.4 868.4,588.9 867.8,589.4 867.1,589.9 866.5,590.4 865.9,590.8 865.2,591.3 864.7,591.8 864.2,592.2 863.6,592.6 863.1,593.0 862.5,593.3 861.8,593.7 861.2,594.0 860.6,594.3 860.1,594.6 859.6,595.0 859.2,595.3 859.0,595.7 858.9,596.1 858.9,596.5 859.1,597.0 859.6,597.4 860.1,597.9 860.8,598.3 861.6,598.8 862.4,599.3 863.3,599.8 864.2,600.3 865.1,601.0 866.0,601.6 866.8,602.4 867.5,603.2 868.2,604.1 868.9,605.0 869.5,606.1 870.2,607.2 870.9,608.3 871.5,609.5 872.2,610.7 872.8,611.9 873.3,613.2 873.8,614.5 874.3,615.8 874.7,617.1 875.0,618.4 875.3,619.8 875.5,621.3 875.6,622.8 875.7,624.3 875.8,625.8 875.9,627.4 875.9,628.9 876.0,630.4 876.0,631.8 876.0,633.2 876.1,634.5 876.2,635.7 876.2,637.0 876.3,638.2 876.3,639.4 876.3,640.6 876.3,641.7 876.3,642.8 876.4,643.8 876.4,644.8 876.4,645.7 876.5,646.5 876.6,647.2 876.7,647.8 876.7,648.1 876.8,648.4 876.8,648.5 876.9,648.6 877.0,648.7 877.1,648.7 877.2,648.8 877.5,648.9 877.7,649.2 878.1,649.5 878.5,650.1 879.0,650.8 879.7,651.7 880.4,652.6 881.2,653.7 882.0,654.8 882.9,656.0 883.8,657.1 884.7,658.3 885.6,659.5 886.4,660.6 887.3,661.6 888.1,662.5 888.9,663.4 889.8,664.2 890.7,665.0 891.7,665.7 892.7,666.5 893.6,667.2 894.4,667.9 895.2,668.5 895.8,669.2 896.3,669.9 896.6,670.5 896.7,671.2 896.4,671.9 895.9,672.5 895.0,673.2 894.0,673.8 892.9,674.4 891.7,675.0 890.5,675.6 889.3,676.2 888.3,676.9 887.5,677.6 886.9,678.3 886.6,679.0 886.7,679.9 886.9,680.7 887.3,681.6 887.9,682.6 888.6,683.5 889.4,684.5 890.3,685.5 891.2,686.5 892.2,687.4 893.1,688.3 894.0,689.2 894.8,690.0 895.5,690.8 896.4,691.6 897.2,692.4 898.1,693.1 899.0,693.8 900.0,694.5 900.8,695.2 901.7,695.9 902.6,696.5 903.4,697.1 904.1,697.6 904.8,698.1 905.4,698.6 906.0,699.1 906.6,699.5 907.1,699.9 907.6,700.3 908.0,700.7 908.5,701.0 908.9,701.3 909.2,701.6 909.5,701.8 909.8,702.0 910.0,702.2" fill="none" stroke="#4a4a4a" stroke-width="1.6" stroke-linejoin="round"/>
<line x1="878.5" y1="470.5" x2="878.5" y2="702.2" stroke="#222" stroke-width="1.3" stroke-dasharray="3 2.5"/>
<line x1="734.7" y1="586.4" x2="1024.2" y2="586.4" stroke="#111" stroke-width="1.6" stroke-dasharray="8 5.5"/>
<rect x="734.7" y="470.5" width="287.5" height="231.70000000000005" fill="none" stroke="#8a8a8a" stroke-width="1.3"/>
<line x1="734.7" y1="702.2" x2="739.2" y2="702.2" stroke="#8a8a8a" stroke-width="1.1"/>
<line x1="734.7" y1="673.2" x2="737.7" y2="673.2" stroke="#8a8a8a" stroke-width="1.1"/>
<line x1="734.7" y1="644.3" x2="739.2" y2="644.3" stroke="#8a8a8a" stroke-width="1.1"/>
<line x1="734.7" y1="615.4" x2="737.7" y2="615.4" stroke="#8a8a8a" stroke-width="1.1"/>
<line x1="734.7" y1="586.4" x2="739.2" y2="586.4" stroke="#8a8a8a" stroke-width="1.1"/>
<line x1="734.7" y1="557.4" x2="737.7" y2="557.4" stroke="#8a8a8a" stroke-width="1.1"/>
<line x1="734.7" y1="528.5" x2="739.2" y2="528.5" stroke="#8a8a8a" stroke-width="1.1"/>
<line x1="734.7" y1="499.5" x2="737.7" y2="499.5" stroke="#8a8a8a" stroke-width="1.1"/>
<line x1="734.7" y1="470.6" x2="739.2" y2="470.6" stroke="#8a8a8a" stroke-width="1.1"/>
<text x="729.2" y="477.0" font-size="19.5" fill="#000" stroke="#000" stroke-width="0.35" text-anchor="end" >4</text>
<text x="729.2" y="534.9" font-size="19.5" fill="#000" stroke="#000" stroke-width="0.35" text-anchor="end" >2</text>
<text x="729.2" y="592.8" font-size="19.5" fill="#000" stroke="#000" stroke-width="0.35" text-anchor="end" >0</text>
<text x="729.2" y="650.7" font-size="19.5" fill="#000" stroke="#000" stroke-width="0.35" text-anchor="end" >-2</text>
<text x="729.2" y="708.6" font-size="19.5" fill="#000" stroke="#000" stroke-width="0.35" text-anchor="end" >-4</text>
<line x1="735.1" y1="702.2" x2="735.1" y2="697.7" stroke="#8a8a8a" stroke-width="1.1"/>
<text x="735.1" y="723.8" font-size="19.5" fill="#000" stroke="#000" stroke-width="0.35" text-anchor="middle" >-0.3</text>
<line x1="782.9" y1="702.2" x2="782.9" y2="697.7" stroke="#8a8a8a" stroke-width="1.1"/>
<text x="782.9" y="723.8" font-size="19.5" fill="#000" stroke="#000" stroke-width="0.35" text-anchor="middle" >-0.2</text>
<line x1="830.7" y1="702.2" x2="830.7" y2="697.7" stroke="#8a8a8a" stroke-width="1.1"/>
<text x="830.7" y="723.8" font-size="19.5" fill="#000" stroke="#000" stroke-width="0.35" text-anchor="middle" >-0.1</text>
<line x1="878.5" y1="702.2" x2="878.5" y2="697.7" stroke="#8a8a8a" stroke-width="1.1"/>
<text x="878.5" y="723.8" font-size="19.5" fill="#000" stroke="#000" stroke-width="0.35" text-anchor="middle" >0.0</text>
<line x1="926.3" y1="702.2" x2="926.3" y2="697.7" stroke="#8a8a8a" stroke-width="1.1"/>
<text x="926.3" y="723.8" font-size="19.5" fill="#000" stroke="#000" stroke-width="0.35" text-anchor="middle" >0.1</text>
<line x1="974.1" y1="702.2" x2="974.1" y2="697.7" stroke="#8a8a8a" stroke-width="1.1"/>
<text x="974.1" y="723.8" font-size="19.5" fill="#000" stroke="#000" stroke-width="0.35" text-anchor="middle" >0.2</text>
<line x1="1021.9" y1="702.2" x2="1021.9" y2="697.7" stroke="#8a8a8a" stroke-width="1.1"/>
<text x="1021.9" y="723.8" font-size="19.5" fill="#000" stroke="#000" stroke-width="0.35" text-anchor="middle" >0.3</text>
<line x1="759.0" y1="702.2" x2="759.0" y2="699.2" stroke="#8a8a8a" stroke-width="1.1"/>
<line x1="806.8" y1="702.2" x2="806.8" y2="699.2" stroke="#8a8a8a" stroke-width="1.1"/>
<line x1="854.6" y1="702.2" x2="854.6" y2="699.2" stroke="#8a8a8a" stroke-width="1.1"/>
<line x1="902.4" y1="702.2" x2="902.4" y2="699.2" stroke="#8a8a8a" stroke-width="1.1"/>
<line x1="950.2" y1="702.2" x2="950.2" y2="699.2" stroke="#8a8a8a" stroke-width="1.1"/>
<line x1="998.0" y1="702.2" x2="998.0" y2="699.2" stroke="#8a8a8a" stroke-width="1.1"/>
<text x="1027.5" y="593.3" font-size="19" fill="#000" stroke="#000" stroke-width="0.35" text-anchor="start" >0</text>
<text x="0.0" y="0.0" font-size="19.2" fill="#000" stroke="#000" stroke-width="0.35" text-anchor="middle" transform="translate(705.5 586.4) rotate(-90)">Energy (eV)</text>
<text x="697.5" y="486.3" font-size="34" fill="#000" stroke="#000" stroke-width="0.35" text-anchor="start" >h</text>
<text x="872.8" y="492.1" font-size="19.5" fill="#000" stroke="#000" stroke-width="0.35" text-anchor="start" >Ru<tspan font-size="13" dy="4">CS/SA</tspan><tspan dy="-4">/&#945;-MoC</tspan><tspan font-size="13" dy="4">1-x</tspan></text>
<text x="897.2" y="546.0" font-size="19" fill="#000" stroke="#000" stroke-width="0.35" text-anchor="start" >ICOHP:-0.08</text>
<text x="880.5" y="744.0" font-size="19" fill="#000" stroke="#000" stroke-width="0.35" text-anchor="middle" >-pCOHP</text>
<polyline points="50.4,842.3 51.0,833.8 51.6,829.3 52.2,826.7 52.8,827.5 53.4,827.6 54.0,827.4 54.6,829.6 55.2,834.9 55.8,837.6 56.4,832.4 57.0,825.7 57.6,822.0 58.2,818.1 58.8,814.7 59.4,819.7 60.0,824.6 60.6,828.6 61.2,832.1 61.8,830.5 62.4,830.5 63.0,831.7 63.6,829.6 64.2,824.7 64.8,821.4 65.4,820.6 66.0,818.1 66.6,811.9 67.2,807.6 67.8,810.5 68.4,811.2 69.0,814.0 69.6,818.7 70.2,821.2 70.8,819.8 71.4,811.9 72.0,804.3 72.6,807.0 73.2,811.0 73.8,814.5 74.4,822.3 75.0,824.6 75.6,821.5 76.2,819.4 76.8,819.8 77.4,821.0 78.0,821.9 78.6,820.7 79.2,819.0 79.8,818.0 80.4,815.0 81.0,813.0 81.6,814.1 82.2,813.8 82.8,810.9 83.4,809.5 84.0,809.9 84.6,810.3 85.2,814.9 85.8,816.9 86.4,816.0 87.0,817.7 87.6,820.3 88.2,821.2 88.8,820.0 89.4,822.1 90.0,827.5 90.6,828.0 91.2,825.3 91.8,827.2 92.4,830.5 93.0,832.7 93.6,834.5 94.2,834.1 94.8,834.3 95.4,836.6 96.0,839.6 96.6,840.1 97.2,838.3 97.8,839.8 98.4,845.0 99.0,847.5 99.6,848.2 100.2,849.4 100.8,848.7 101.4,847.2 102.0,847.1 102.6,849.9 103.2,852.3 103.8,851.0 104.4,851.4 105.0,854.1 105.6,856.7 106.2,857.2 106.8,855.0 107.4,855.1 108.0,858.4 108.6,861.1 109.2,860.3 109.8,857.9 110.4,856.4 111.0,855.9 111.6,855.9 112.2,855.2 112.8,853.0 113.4,851.0 114.0,849.9 114.6,848.6 115.2,848.6 115.8,849.5 116.4,847.7 117.0,841.6 117.6,835.1 118.2,836.5 118.8,840.3 119.4,841.4 120.0,842.3 120.6,847.6 121.2,849.1 121.8,844.6 122.4,842.6 123.0,843.4 123.6,844.9 124.2,847.3 124.8,846.9 125.4,843.5 126.0,841.1 126.6,840.6 127.2,840.4 127.8,839.0 128.4,835.4 129.0,830.9 129.6,827.4 130.2,825.8 130.8,825.3 131.4,821.7 132.0,815.9 132.6,812.3 133.2,813.7 133.8,814.1 134.4,815.7 135.0,822.1 135.6,826.8 136.2,825.9 136.8,824.9 137.4,825.8 138.0,828.7 138.6,833.9 139.2,837.2 139.8,838.1 140.4,839.5 141.0,841.3 141.6,840.9 142.2,840.2 142.8,842.3 143.4,844.6 144.0,845.1 144.6,845.0 145.2,843.3 145.8,843.1 146.4,842.7 147.0,839.9 147.6,838.3 148.2,841.3 148.8,845.8 149.4,847.2 150.0,847.1 150.6,850.8 151.2,854.4 151.8,856.2 152.4,859.3 153.0,861.5 153.6,862.1 154.2,863.0 154.8,860.6 155.4,851.4 156.0,843.7 156.6,844.5 157.2,849.6 157.8,856.5 158.4,862.1 159.0,862.5 159.6,859.5 160.2,857.6 160.8,858.9 161.4,859.4 162.0,858.6 162.6,859.0 163.2,860.7 163.8,861.4 164.4,860.5 165.0,859.7 165.6,857.4 166.2,855.0 166.8,854.1 167.4,854.0 168.0,856.1 168.6,857.5 169.2,856.5 169.8,857.3 170.4,859.5 171.0,859.1 171.6,858.6 172.2,857.8 172.8,858.3 173.4,858.3 174.0,856.3 174.6,855.9 175.2,856.0 175.8,854.6 176.4,851.2 177.0,851.1 177.6,852.9 178.2,853.8 178.8,855.1 179.4,856.9 180.0,857.1 180.6,855.7 181.2,854.5 181.8,852.7 182.4,851.0 183.0,851.3 183.6,853.4 184.2,856.9 184.8,856.7 185.4,853.4 186.0,854.3 186.6,854.9 187.2,853.7 187.8,854.1 188.4,851.9 189.0,849.4 189.6,850.3 190.2,851.3 190.8,850.0 191.4,849.7 192.0,852.1 192.6,852.6 193.2,850.1 193.8,850.0 194.4,851.3 195.0,853.1 195.6,855.2 196.2,853.3 196.8,849.9 197.4,849.7 198.0,853.1 198.6,855.5 199.2,853.4 199.8,852.0 200.4,852.3 201.0,853.5 201.6,854.5 202.2,853.0 202.8,852.6 203.4,853.4 204.0,852.4 204.6,852.6 205.2,854.8 205.8,854.5 206.4,852.6 207.0,851.5 207.6,852.4 208.2,855.5 208.8,857.2 209.4,857.6 210.0,857.8 210.6,856.7 211.2,855.8 211.8,856.4 212.4,856.0 213.0,855.3 213.6,856.7 214.2,857.4 214.8,855.6 215.4,854.8 216.0,857.5 216.6,858.9 217.2,856.7 217.8,855.3 218.4,856.8 219.0,856.8 219.6,854.8 220.2,857.0 220.8,859.0 221.4,858.5 222.0,859.8 222.6,858.6 223.2,855.9 223.8,854.2 224.4,852.0 225.0,853.7 225.6,855.8 226.2,854.9 226.8,855.0 227.4,854.4 228.0,853.1 228.6,849.7 229.2,845.1 229.8,845.5 230.4,845.9 231.0,842.8 231.6,841.6 232.2,844.4 232.8,845.0 233.4,845.0 234.0,849.0 234.6,853.2 235.2,855.1 235.8,856.6 236.4,857.2 237.0,853.8 237.6,850.1 238.2,849.6 238.8,852.1 239.4,854.0 240.0,853.7 240.6,852.4 241.2,851.3 241.8,850.8 242.4,849.1 243.0,846.6 243.6,843.6 244.2,842.0 244.8,842.0 245.4,840.7 246.0,840.7 246.6,841.8 247.2,845.0 247.8,850.3 248.4,850.5 249.0,849.7 249.6,852.8 250.2,854.8 250.8,855.0 251.4,856.1 252.0,853.0 252.6,851.4 253.2,855.5 253.8,858.8 254.4,860.0 255.0,858.2 255.6,858.1 256.2,859.9 256.8,858.7 257.4,859.6 258.0,861.5 258.6,860.0 259.2,858.5 259.8,859.1 260.4,859.0 261.0,857.8 261.6,858.7 262.2,861.4 262.8,862.6 263.4,859.4 264.0,858.0 264.6,859.8 265.2,860.3 265.8,860.8 266.4,862.5 267.0,863.0 267.6,861.7 268.2,859.4 268.8,857.4 269.4,860.0 270.0,863.4 270.6,861.4 271.2,858.6 271.8,859.0 272.4,861.0 273.0,860.4 273.6,859.0 274.2,860.4 274.8,861.4 275.4,860.4 276.0,860.2 276.6,861.7 277.2,860.7 277.8,857.9 278.4,856.7 279.0,857.7 279.6,859.4 280.2,860.0 280.8,861.4 281.4,862.8 282.0,863.7 282.6,863.1 283.2,859.9 283.8,858.3 284.4,861.5 285.0,864.1 285.6,864.2 286.2,863.4 286.8,861.9 287.4,860.6 288.0,861.6 288.6,863.9 289.2,863.2 289.8,860.2 290.4,859.1 291.0,861.7 291.6,864.5 292.2,863.1 292.8,861.9 293.4,864.6 294.0,865.9 294.6,864.9 295.2,864.4 295.8,864.1 296.4,863.2 297.0,861.4 297.6,860.5 298.2,861.7 298.8,862.6 299.4,860.8 300.0,857.3 300.6,858.4 301.2,859.8 301.8,858.0 302.4,858.2 303.0,858.9 303.6,857.5 304.2,855.7 304.8,857.0 305.4,860.2 306.0,861.2 306.6,860.0 307.2,859.6 307.8,861.2 308.4,861.5 309.0,858.9 309.6,858.2 310.2,859.7 310.8,859.6 311.4,860.3 312.0,862.6 312.6,862.8 313.2,862.4 313.8,862.4 314.4,861.8 315.0,862.1 315.6,861.0 316.2,861.7 316.8,864.8 317.4,864.7 318.0,863.8 318.6,865.3 319.2,867.1 319.8,867.4 320.4,868.4 321.0,869.1 321.6,867.7 322.2,867.5 322.8,869.2 323.4,870.9 324.0,871.4 324.6,871.3 325.2,871.2 325.8,871.2 326.4,871.2 327.0,871.2 327.6,871.2 328.2,871.2 328.8,871.2 329.4,871.2 330.0,871.2 330.6,871.2 331.2,871.2 331.8,871.2 332.4,871.2 333.0,871.2" fill="none" stroke="#8a8a8a" stroke-width="2.6" stroke-linejoin="round"/>
<polyline points="50.4,901.7 51.0,905.5 51.6,909.9 52.2,913.7 52.8,911.3 53.4,910.6 54.0,910.0 54.6,908.5 55.2,909.8 55.8,910.9 56.4,909.4 57.0,911.4 57.6,916.6 58.2,918.6 58.8,919.3 59.4,917.5 60.0,916.2 60.6,914.7 61.2,913.5 61.8,912.3 62.4,914.0 63.0,917.5 63.6,919.9 64.2,923.8 64.8,927.6 65.4,928.8 66.0,927.0 66.6,927.6 67.2,928.8 67.8,928.8 68.4,927.3 69.0,926.6 69.6,930.2 70.2,933.4 70.8,934.1 71.4,935.0 72.0,937.3 72.6,936.2 73.2,933.4 73.8,930.9 74.4,929.6 75.0,927.6 75.6,922.5 76.2,919.9 76.8,919.4 77.4,917.9 78.0,914.8 78.6,913.4 79.2,915.4 79.8,918.3 80.4,919.2 81.0,919.5 81.6,921.5 82.2,926.1 82.8,929.8 83.4,930.0 84.0,928.1 84.6,926.2 85.2,923.7 85.8,922.6 86.4,922.7 87.0,922.4 87.6,920.2 88.2,918.7 88.8,920.9 89.4,921.0 90.0,917.5 90.6,915.7 91.2,915.3 91.8,912.9 92.4,911.0 93.0,911.3 93.6,910.7 94.2,909.6 94.8,907.1 95.4,904.1 96.0,903.5 96.6,902.4 97.2,899.3 97.8,897.0 98.4,894.7 99.0,893.6 99.6,895.5 100.2,894.8 100.8,892.7 101.4,891.5 102.0,888.8 102.6,889.1 103.2,891.3 103.8,888.0 104.4,880.2 105.0,876.7 105.6,880.5 106.2,883.7 106.8,882.2 107.4,881.1 108.0,882.0 108.6,881.9 109.2,883.8 109.8,886.2 110.4,886.9 111.0,886.4 111.6,886.5 112.2,887.5 112.8,889.4 113.4,894.2 114.0,896.6 114.6,892.5 115.2,890.5 115.8,894.4 116.4,899.4 117.0,902.8 117.6,903.4 118.2,899.1 118.8,898.0 119.4,898.3 120.0,896.7 120.6,896.1 121.2,895.6 121.8,895.5 122.4,895.7 123.0,895.2 123.6,893.2 124.2,890.7 124.8,893.3 125.4,897.0 126.0,900.8 126.6,904.1 127.2,904.8 127.8,905.6 128.4,908.4 129.0,912.8 129.6,916.4 130.2,919.4 130.8,923.6 131.4,926.4 132.0,926.9 132.6,928.9 133.2,929.0 133.8,926.0 134.4,921.7 135.0,922.0 135.6,921.1 136.2,916.8 136.8,915.9 137.4,916.7 138.0,913.0 138.6,907.6 139.2,905.5 139.8,904.4 140.4,900.9 141.0,898.2 141.6,898.1 142.2,896.7 142.8,894.2 143.4,892.8 144.0,890.9 144.6,888.0 145.2,889.1 145.8,893.4 146.4,896.3 147.0,897.4 147.6,899.6 148.2,897.6 148.8,894.7 149.4,893.1 150.0,890.0 150.6,887.5 151.2,885.1 151.8,887.3 152.4,888.8 153.0,892.8 153.6,898.8 154.2,902.0 154.8,903.8 155.4,906.8 156.0,909.6 156.6,905.9 157.2,901.4 157.8,898.5 158.4,894.0 159.0,890.0 159.6,887.1 160.2,886.6 160.8,887.2 161.4,888.9 162.0,888.8 162.6,886.8 163.2,883.7 163.8,880.2 164.4,878.4 165.0,878.3 165.6,878.5 166.2,881.6 166.8,886.7 167.4,889.6 168.0,888.6 168.6,887.0 169.2,887.6 169.8,888.8 170.4,890.5 171.0,892.0 171.6,894.4 172.2,895.8 172.8,894.7 173.4,893.0 174.0,889.3 174.6,887.1 175.2,888.9 175.8,888.1 176.4,884.3 177.0,881.3 177.6,879.4 178.2,880.7 178.8,883.5 179.4,883.2 180.0,881.7 180.6,882.1 181.2,885.5 181.8,888.4 182.4,888.9 183.0,887.7 183.6,887.0 184.2,888.7 184.8,887.5 185.4,886.0 186.0,884.3 186.6,881.7 187.2,883.2 187.8,885.7 188.4,887.7 189.0,889.5 189.6,887.4 190.2,884.6 190.8,886.0 191.4,888.0 192.0,887.0 192.6,884.2 193.2,884.0 193.8,887.1 194.4,888.1 195.0,885.8 195.6,885.5 196.2,885.8 196.8,882.9 197.4,885.2 198.0,889.4 198.6,887.9 199.2,885.4 199.8,885.4 200.4,886.1 201.0,885.0 201.6,885.2 202.2,885.2 202.8,884.6 203.4,884.8 204.0,883.1 204.6,882.9 205.2,884.1 205.8,884.7 206.4,886.1 207.0,886.5 207.6,884.5 208.2,883.0 208.8,883.4 209.4,885.1 210.0,886.7 210.6,887.0 211.2,887.2 211.8,886.7 212.4,886.9 213.0,888.0 213.6,887.6 214.2,889.4 214.8,891.1 215.4,888.5 216.0,886.1 216.6,884.5 217.2,883.5 217.8,882.9 218.4,883.1 219.0,883.5 219.6,885.0 220.2,886.1 220.8,884.7 221.4,882.9 222.0,881.9 222.6,881.4 223.2,880.4 223.8,880.7 224.4,885.2 225.0,889.3 225.6,888.8 226.2,888.8 226.8,890.8 227.4,889.9 228.0,888.3 228.6,887.9 229.2,888.1 229.8,891.1 230.4,893.3 231.0,890.5 231.6,887.3 232.2,887.4 232.8,886.8 233.4,885.9 234.0,887.9 234.6,889.8 235.2,889.6 235.8,888.8 236.4,886.1 237.0,887.0 237.6,892.0 238.2,892.6 238.8,890.1 239.4,891.3 240.0,893.5 240.6,894.5 241.2,894.4 241.8,894.1 242.4,895.4 243.0,896.6 243.6,895.5 244.2,892.2 244.8,891.4 245.4,894.2 246.0,897.0 246.6,900.6 247.2,901.8 247.8,898.5 248.4,895.1 249.0,893.8 249.6,892.0 250.2,888.7 250.8,888.8 251.4,888.6 252.0,887.9 252.6,886.9 253.2,884.8 253.8,883.4 254.4,881.0 255.0,878.7 255.6,879.1 256.2,880.1 256.8,879.7 257.4,879.1 258.0,879.6 258.6,882.8 259.2,884.4 259.8,883.4 260.4,883.3 261.0,883.9 261.6,883.8 262.2,880.2 262.8,878.1 263.4,880.3 264.0,879.2 264.6,876.5 265.2,875.5 265.8,875.2 266.4,875.9 267.0,877.6 267.6,880.3 268.2,879.0 268.8,874.5 269.4,874.0 270.0,874.9 270.6,875.4 271.2,877.7 271.8,879.1 272.4,878.5 273.0,879.6 273.6,882.7 274.2,885.5 274.8,885.6 275.4,884.3 276.0,883.6 276.6,882.9 277.2,882.8 277.8,883.3 278.4,883.7 279.0,882.3 279.6,881.6 280.2,883.6 280.8,883.3 281.4,880.9 282.0,881.0 282.6,882.7 283.2,882.2 283.8,881.0 284.4,881.0 285.0,882.3 285.6,883.8 286.2,882.1 286.8,877.5 287.4,876.2 288.0,880.1 288.6,882.9 289.2,882.6 289.8,881.7 290.4,879.2 291.0,878.3 291.6,880.4 292.2,881.5 292.8,880.1 293.4,878.3 294.0,878.5 294.6,879.5 295.2,880.0 295.8,878.9 296.4,878.1 297.0,880.0 297.6,882.4 298.2,881.6 298.8,879.4 299.4,878.6 300.0,880.8 300.6,882.6 301.2,880.4 301.8,880.9 302.4,885.0 303.0,886.4 303.6,885.7 304.2,886.3 304.8,886.8 305.4,886.0 306.0,885.5 306.6,885.8 307.2,885.5 307.8,883.9 308.4,882.0 309.0,880.9 309.6,878.5 310.2,877.6 310.8,879.3 311.4,879.6 312.0,879.0 312.6,879.5 313.2,881.1 313.8,879.4 314.4,877.0 315.0,878.5 315.6,879.1 316.2,877.6 316.8,879.3 317.4,881.5 318.0,879.7 318.6,876.4 319.2,875.3 319.8,874.6 320.4,870.4 321.0,867.7 321.6,870.3 322.2,873.0 322.8,874.2 323.4,872.9 324.0,871.3 324.6,871.1 325.2,871.2 325.8,871.2 326.4,871.2 327.0,871.2 327.6,871.2 328.2,871.2 328.8,871.2 329.4,871.2 330.0,871.2 330.6,871.2 331.2,871.2 331.8,871.2 332.4,871.2 333.0,871.2" fill="none" stroke="#8a8a8a" stroke-width="2.6" stroke-linejoin="round"/>
<line x1="123.9" y1="755.5" x2="123.9" y2="985.4" stroke="#ee2222" stroke-width="2.2"/>
<line x1="190.7" y1="755.5" x2="190.7" y2="985.4" stroke="#33e0f0" stroke-width="2.2"/>
<rect x="49.5" y="755.5" width="282.7" height="229.89999999999998" fill="none" stroke="#8a8a8a" stroke-width="1.3"/>
<line x1="49.5" y1="755.5" x2="54.0" y2="755.5" stroke="#8a8a8a" stroke-width="1.1"/>
<line x1="49.5" y1="784.2" x2="52.5" y2="784.2" stroke="#8a8a8a" stroke-width="1.1"/>
<line x1="49.5" y1="813.0" x2="54.0" y2="813.0" stroke="#8a8a8a" stroke-width="1.1"/>
<line x1="49.5" y1="841.8" x2="52.5" y2="841.8" stroke="#8a8a8a" stroke-width="1.1"/>
<line x1="49.5" y1="870.5" x2="54.0" y2="870.5" stroke="#8a8a8a" stroke-width="1.1"/>
<line x1="49.5" y1="899.2" x2="52.5" y2="899.2" stroke="#8a8a8a" stroke-width="1.1"/>
<line x1="49.5" y1="928.0" x2="54.0" y2="928.0" stroke="#8a8a8a" stroke-width="1.1"/>
<line x1="49.5" y1="956.8" x2="52.5" y2="956.8" stroke="#8a8a8a" stroke-width="1.1"/>
<line x1="49.5" y1="985.5" x2="54.0" y2="985.5" stroke="#8a8a8a" stroke-width="1.1"/>
<text x="44.0" y="761.9" font-size="19.5" fill="#000" stroke="#000" stroke-width="0.35" text-anchor="end" >2</text>
<text x="44.0" y="819.4" font-size="19.5" fill="#000" stroke="#000" stroke-width="0.35" text-anchor="end" >1</text>
<text x="44.0" y="876.9" font-size="19.5" fill="#000" stroke="#000" stroke-width="0.35" text-anchor="end" >0</text>
<text x="44.0" y="934.4" font-size="19.5" fill="#000" stroke="#000" stroke-width="0.35" text-anchor="end" >-1</text>
<text x="44.0" y="991.9" font-size="19.5" fill="#000" stroke="#000" stroke-width="0.35" text-anchor="end" >-2</text>
<line x1="77.5" y1="985.4" x2="77.5" y2="980.9" stroke="#8a8a8a" stroke-width="1.1"/>
<text x="77.5" y="1006.7" font-size="19.5" fill="#000" stroke="#000" stroke-width="0.35" text-anchor="middle" >-2</text>
<line x1="134.1" y1="985.4" x2="134.1" y2="980.9" stroke="#8a8a8a" stroke-width="1.1"/>
<text x="134.1" y="1006.7" font-size="19.5" fill="#000" stroke="#000" stroke-width="0.35" text-anchor="middle" >-1</text>
<line x1="190.7" y1="985.4" x2="190.7" y2="980.9" stroke="#8a8a8a" stroke-width="1.1"/>
<text x="190.7" y="1006.7" font-size="19.5" fill="#000" stroke="#000" stroke-width="0.35" text-anchor="middle" >0</text>
<line x1="247.3" y1="985.4" x2="247.3" y2="980.9" stroke="#8a8a8a" stroke-width="1.1"/>
<text x="247.3" y="1006.7" font-size="19.5" fill="#000" stroke="#000" stroke-width="0.35" text-anchor="middle" >1</text>
<line x1="303.9" y1="985.4" x2="303.9" y2="980.9" stroke="#8a8a8a" stroke-width="1.1"/>
<text x="303.9" y="1006.7" font-size="19.5" fill="#000" stroke="#000" stroke-width="0.35" text-anchor="middle" >2</text>
<line x1="49.2" y1="985.4" x2="49.2" y2="982.4" stroke="#8a8a8a" stroke-width="1.1"/>
<line x1="105.8" y1="985.4" x2="105.8" y2="982.4" stroke="#8a8a8a" stroke-width="1.1"/>
<line x1="162.4" y1="985.4" x2="162.4" y2="982.4" stroke="#8a8a8a" stroke-width="1.1"/>
<line x1="219.0" y1="985.4" x2="219.0" y2="982.4" stroke="#8a8a8a" stroke-width="1.1"/>
<line x1="275.6" y1="985.4" x2="275.6" y2="982.4" stroke="#8a8a8a" stroke-width="1.1"/>
<line x1="332.2" y1="985.4" x2="332.2" y2="982.4" stroke="#8a8a8a" stroke-width="1.1"/>
<text x="0.0" y="0.0" font-size="20" fill="#000" stroke="#000" stroke-width="0.35" text-anchor="middle" transform="translate(20.0 865.5) rotate(-90)">d band PDOS</text>
<text x="4.5" y="762.6" font-size="34" fill="#000" stroke="#000" stroke-width="0.35" text-anchor="start" >i</text>
<text x="201.5" y="778.8" font-size="19.5" fill="#000" stroke="#000" stroke-width="0.35" text-anchor="start" >Ru<tspan font-size="13" dy="4">SA</tspan><tspan dy="-4">/&#945;-MoC</tspan><tspan font-size="13" dy="4">1-x</tspan></text>
<text x="130.5" y="790.5" font-size="18.8" fill="#ee2222" stroke="#ee2222" stroke-width="0.35" text-anchor="start" >d-band</text><text x="125.7" y="813.5" font-size="18.8" fill="#ee2222" stroke="#ee2222" stroke-width="0.35" text-anchor="start" >-1.18 eV</text>
<text x="196.5" y="845" font-family="'Liberation Serif', serif" font-style="italic" font-weight="bold" font-size="21" fill="#52ecf6">E<tspan font-size="14" dy="4">f</tspan></text>
<text x="190.5" y="1030.1" font-size="19.5" fill="#000" stroke="#000" stroke-width="0.35" text-anchor="middle" >E-E<tspan font-size="13" dy="4">F</tspan><tspan dy="-4"> (eV)</tspan></text>
<polyline points="391.1,841.2 391.7,830.7 392.3,818.9 392.9,813.4 393.5,811.6 394.1,810.5 394.7,813.0 395.3,818.9 395.9,820.7 396.5,821.8 397.1,821.9 397.7,820.6 398.3,817.9 398.9,816.2 399.5,817.1 400.1,817.0 400.7,817.2 401.3,821.6 401.9,826.3 402.5,837.2 403.1,854.3 403.7,854.0 404.3,849.8 404.9,846.5 405.5,842.3 406.1,833.5 406.7,824.7 407.3,820.7 407.9,819.7 408.5,815.1 409.1,809.5 409.7,805.7 410.3,804.7 410.9,810.6 411.5,816.8 412.1,820.1 412.7,825.8 413.3,834.1 413.9,839.8 414.5,844.5 415.1,847.0 415.7,847.6 416.3,848.1 416.9,851.9 417.5,853.5 418.1,852.3 418.7,854.1 419.3,855.0 419.9,855.4 420.5,858.4 421.1,856.5 421.7,852.7 422.3,853.6 422.9,854.9 423.5,854.6 424.1,854.6 424.7,854.6 425.3,855.8 425.9,855.8 426.5,853.4 427.1,852.9 427.7,853.5 428.3,853.2 428.9,852.3 429.5,853.0 430.1,855.8 430.7,858.9 431.3,858.5 431.9,855.0 432.5,855.5 433.1,856.7 433.7,854.4 434.3,854.9 434.9,858.0 435.5,860.0 436.1,859.0 436.7,856.2 437.3,855.0 437.9,856.5 438.5,857.8 439.1,855.6 439.7,854.4 440.3,855.1 440.9,855.2 441.5,854.2 442.1,853.9 442.7,855.2 443.3,857.4 443.9,859.9 444.5,860.3 445.1,859.7 445.7,859.8 446.3,860.3 446.9,861.5 447.5,861.4 448.1,859.6 448.7,858.0 449.3,857.2 449.9,854.5 450.5,853.4 451.1,855.6 451.7,857.0 452.3,860.2 452.9,862.1 453.5,858.3 454.1,856.4 454.7,858.1 455.3,858.5 455.9,857.2 456.5,857.1 457.1,858.3 457.7,857.0 458.3,854.5 458.9,854.7 459.5,854.5 460.1,853.5 460.7,853.6 461.3,853.0 461.9,852.6 462.5,850.8 463.1,847.2 463.7,844.3 464.3,840.8 464.9,836.5 465.5,835.8 466.1,835.1 466.7,832.7 467.3,831.6 467.9,830.0 468.5,828.9 469.1,832.1 469.7,835.5 470.3,836.6 470.9,837.9 471.5,843.0 472.1,843.9 472.7,840.5 473.3,838.2 473.9,836.8 474.5,836.8 475.1,838.9 475.7,839.4 476.3,839.3 476.9,839.7 477.5,839.9 478.1,842.4 478.7,843.8 479.3,842.8 479.9,840.9 480.5,837.7 481.1,834.0 481.7,832.1 482.3,831.4 482.9,830.8 483.5,829.5 484.1,827.2 484.7,827.2 485.3,833.4 485.9,840.2 486.5,841.7 487.1,842.7 487.7,847.1 488.3,849.0 488.9,847.0 489.5,847.4 490.1,847.9 490.7,849.0 491.3,853.1 491.9,855.3 492.5,854.5 493.1,854.7 493.7,855.7 494.3,855.8 494.9,855.1 495.5,854.0 496.1,855.8 496.7,859.2 497.3,859.3 497.9,859.2 498.5,859.4 499.1,858.6 499.7,859.0 500.3,860.0 500.9,859.3 501.5,858.8 502.1,860.1 502.7,861.9 503.3,861.6 503.9,859.5 504.5,856.6 505.1,856.2 505.7,859.6 506.3,859.8 506.9,857.2 507.5,856.5 508.1,856.4 508.7,855.6 509.3,853.2 509.9,849.0 510.5,845.2 511.1,841.3 511.7,845.0 512.3,849.3 512.9,853.3 513.5,857.9 514.1,858.3 514.7,854.2 515.3,853.3 515.9,856.0 516.5,856.0 517.1,857.2 517.7,857.6 518.3,853.5 518.9,852.7 519.5,856.7 520.1,857.9 520.7,856.8 521.3,855.6 521.9,853.0 522.5,851.6 523.1,852.1 523.7,850.6 524.3,850.0 524.9,852.3 525.5,853.1 526.1,851.5 526.7,848.9 527.3,846.7 527.9,845.3 528.5,845.0 529.1,845.0 529.7,844.1 530.3,845.9 530.9,851.1 531.5,853.6 532.1,853.5 532.7,854.7 533.3,854.3 533.9,851.5 534.5,849.0 535.1,849.9 535.7,850.9 536.3,849.2 536.9,846.8 537.5,846.1 538.1,845.9 538.7,841.8 539.3,839.6 539.9,840.8 540.5,840.2 541.1,840.8 541.7,848.0 542.3,854.5 542.9,854.2 543.5,852.6 544.1,854.8 544.7,858.2 545.3,858.4 545.9,857.4 546.5,857.4 547.1,858.4 547.7,859.8 548.3,860.0 548.9,858.1 549.5,857.3 550.1,858.3 550.7,859.6 551.3,860.0 551.9,858.7 552.5,859.1 553.1,859.6 553.7,860.5 554.3,865.0 554.9,865.2 555.5,862.2 556.1,862.1 556.7,859.4 557.3,855.8 557.9,857.8 558.5,859.7 559.1,858.3 559.7,856.7 560.3,856.9 560.9,858.8 561.5,859.8 562.1,858.0 562.7,856.8 563.3,856.2 563.9,852.7 564.5,848.5 565.1,847.9 565.7,851.2 566.3,852.0 566.9,849.6 567.5,847.0 568.1,844.4 568.7,842.1 569.3,839.9 569.9,838.4 570.5,839.4 571.1,840.6 571.7,838.7 572.3,835.2 572.9,832.7 573.5,833.2 574.1,835.1 574.7,833.5 575.3,830.1 575.9,827.0 576.5,825.0 577.1,831.2 577.7,838.8 578.3,843.4 578.9,842.9 579.5,842.8 580.1,841.2 580.7,839.0 581.3,838.7 581.9,840.0 582.5,841.4 583.1,841.5 583.7,843.7 584.3,845.3 584.9,842.7 585.5,841.5 586.1,842.9 586.7,842.6 587.3,842.2 587.9,845.8 588.5,848.2 589.1,845.2 589.7,841.6 590.3,840.6 590.9,840.2 591.5,837.9 592.1,838.2 592.7,840.0 593.3,839.2 593.9,840.6 594.5,841.3 595.1,838.9 595.7,838.9 596.3,840.2 596.9,837.6 597.5,834.6 598.1,834.5 598.7,838.2 599.3,842.2 599.9,841.2 600.5,837.7 601.1,836.9 601.7,838.8 602.3,840.6 602.9,841.4 603.5,842.4 604.1,842.9 604.7,842.7 605.3,843.5 605.9,844.5 606.5,845.4 607.1,848.1 607.7,850.6 608.3,849.6 608.9,846.3 609.5,845.1 610.1,845.5 610.7,843.9 611.3,845.1 611.9,850.0 612.5,851.3 613.1,848.4 613.7,846.3 614.3,847.3 614.9,849.5 615.5,853.5 616.1,856.2 616.7,853.5 617.3,850.2 617.9,850.3 618.5,852.7 619.1,853.5 619.7,853.5 620.3,854.6 620.9,856.3 621.5,860.1 622.1,863.3 622.7,862.9 623.3,862.0 623.9,862.9 624.5,864.1 625.1,866.6 625.7,869.8 626.3,873.4 626.9,875.4 627.5,876.2 628.1,876.2 628.7,876.2 629.3,876.2 629.9,876.2 630.5,876.2 631.1,876.2 631.7,876.2 632.3,876.2 632.9,876.2 633.5,876.2 634.1,876.2 634.7,876.2 635.3,876.2 635.9,876.2 636.5,876.2 637.1,876.2 637.7,876.2 638.3,876.2 638.9,876.2 639.5,876.2 640.1,876.2 640.7,876.2 641.3,876.2 641.9,876.2 642.5,876.2 643.1,876.2 643.7,876.2 644.3,876.2 644.9,876.2 645.5,876.2 646.1,876.2 646.7,876.2 647.3,876.2 647.9,876.2 648.5,876.2 649.1,876.2 649.7,876.2 650.3,876.2 650.9,876.2 651.5,876.2 652.1,876.2 652.7,876.2 653.3,876.2 653.9,876.2 654.5,876.2 655.1,876.2 655.7,876.2 656.3,876.2 656.9,876.2 657.5,876.2 658.1,876.2 658.7,876.2 659.3,876.2 659.9,876.2 660.5,876.2 661.1,876.2 661.7,876.2 662.3,876.2 662.9,876.2 663.5,876.2 664.1,876.2 664.7,876.2 665.3,876.2 665.9,876.2 666.5,876.2 667.1,876.2 667.7,876.2 668.3,876.2 668.9,876.2 669.5,876.2 670.1,876.2 670.7,876.2 671.3,876.2 671.9,876.2 672.5,876.2 673.1,876.2 673.7,876.2" fill="none" stroke="#2c78e0" stroke-width="2.6" stroke-linejoin="round"/>
<polyline points="391.1,906.9 391.7,915.2 392.3,923.9 392.9,927.8 393.5,929.7 394.1,935.5 394.7,941.3 395.3,936.4 395.9,930.5 396.5,928.5 397.1,930.9 397.7,934.8 398.3,934.2 398.9,925.1 399.5,917.1 400.1,912.1 400.7,908.8 401.3,907.4 401.9,903.0 402.5,894.8 403.1,888.7 403.7,886.7 404.3,888.8 404.9,890.8 405.5,896.4 406.1,903.1 406.7,908.3 407.3,912.0 407.9,915.0 408.5,918.6 409.1,924.9 409.7,933.4 410.3,940.4 410.9,949.4 411.5,958.7 412.1,959.8 412.7,951.3 413.3,943.1 413.9,936.4 414.5,928.4 415.1,920.6 415.7,917.5 416.3,917.1 416.9,917.3 417.5,915.1 418.1,910.2 418.7,907.2 419.3,906.6 419.9,905.4 420.5,904.5 421.1,903.9 421.7,903.4 422.3,904.0 422.9,903.7 423.5,902.7 424.1,901.2 424.7,899.1 425.3,898.3 425.9,898.5 426.5,898.6 427.1,898.9 427.7,897.4 428.3,895.5 428.9,894.9 429.5,893.8 430.1,893.6 430.7,893.0 431.3,891.8 431.9,893.7 432.5,895.1 433.1,894.1 433.7,893.1 434.3,892.1 434.9,891.5 435.5,891.6 436.1,892.0 436.7,891.4 437.3,890.7 437.9,891.7 438.5,892.2 439.1,891.1 439.7,890.9 440.3,890.1 440.9,888.7 441.5,890.0 442.1,891.1 442.7,890.8 443.3,889.8 443.9,888.4 444.5,889.3 445.1,891.3 445.7,891.8 446.3,890.1 446.9,889.0 447.5,891.9 448.1,894.9 448.7,894.8 449.3,892.1 449.9,890.8 450.5,892.9 451.1,891.5 451.7,889.2 452.3,890.9 452.9,890.6 453.5,890.2 454.1,893.5 454.7,896.2 455.3,895.8 455.9,897.1 456.5,900.3 457.1,900.2 457.7,897.3 458.3,895.1 458.9,894.0 459.5,895.4 460.1,898.0 460.7,899.0 461.3,899.5 461.9,899.6 462.5,898.2 463.1,898.9 463.7,901.0 464.3,902.2 464.9,904.5 465.5,905.6 466.1,906.8 466.7,908.6 467.3,908.7 467.9,910.2 468.5,911.7 469.1,911.6 469.7,908.8 470.3,905.6 470.9,904.7 471.5,904.4 472.1,902.1 472.7,900.8 473.3,903.5 473.9,906.4 474.5,905.3 475.1,903.3 475.7,903.7 476.3,902.2 476.9,899.9 477.5,903.1 478.1,907.8 478.7,910.7 479.3,913.3 479.9,913.7 480.5,913.0 481.1,913.9 481.7,915.0 482.3,916.6 482.9,920.1 483.5,926.0 484.1,929.8 484.7,926.1 485.3,919.5 485.9,915.9 486.5,911.7 487.1,908.4 487.7,906.5 488.3,903.1 488.9,901.1 489.5,901.4 490.1,902.1 490.7,900.0 491.3,895.2 491.9,893.9 492.5,895.0 493.1,893.0 493.7,892.3 494.3,894.8 494.9,895.5 495.5,893.6 496.1,892.6 496.7,892.7 497.3,892.3 497.9,891.2 498.5,888.4 499.1,887.4 499.7,888.7 500.3,889.6 500.9,891.1 501.5,890.8 502.1,889.6 502.7,890.3 503.3,891.8 503.9,892.5 504.5,891.4 505.1,892.2 505.7,896.3 506.3,900.6 506.9,901.0 507.5,899.2 508.1,900.6 508.7,903.1 509.3,902.3 509.9,902.0 510.5,905.0 511.1,906.4 511.7,901.4 512.3,896.7 512.9,895.7 513.5,895.9 514.1,893.4 514.7,891.9 515.3,893.0 515.9,892.8 516.5,891.8 517.1,890.8 517.7,889.2 518.3,888.0 518.9,888.7 519.5,890.4 520.1,889.4 520.7,887.2 521.3,887.1 521.9,888.1 522.5,887.5 523.1,884.6 523.7,883.8 524.3,887.6 524.9,891.5 525.5,890.1 526.1,887.3 526.7,888.6 527.3,889.3 527.9,886.0 528.5,884.8 529.1,886.3 529.7,886.2 530.3,884.5 530.9,884.3 531.5,886.9 532.1,887.9 532.7,886.7 533.3,884.4 533.9,883.0 534.5,885.3 535.1,887.5 535.7,888.8 536.3,889.7 536.9,887.9 537.5,887.0 538.1,889.1 538.7,889.9 539.3,890.0 539.9,890.7 540.5,889.8 541.1,890.3 541.7,894.4 542.3,897.1 542.9,899.1 543.5,900.2 544.1,896.8 544.7,893.6 545.3,894.1 545.9,895.7 546.5,898.0 547.1,898.6 547.7,898.3 548.3,899.8 548.9,901.0 549.5,902.9 550.1,904.4 550.7,904.7 551.3,905.3 551.9,905.5 552.5,904.9 553.1,905.2 553.7,909.5 554.3,914.7 554.9,915.1 555.5,912.6 556.1,908.9 556.7,907.0 557.3,907.2 557.9,905.6 558.5,903.2 559.1,902.2 559.7,901.3 560.3,900.2 560.9,898.6 561.5,897.3 562.1,899.6 562.7,902.4 563.3,900.2 563.9,898.3 564.5,899.3 565.1,898.4 565.7,895.9 566.3,896.6 566.9,898.4 567.5,897.8 568.1,898.1 568.7,899.1 569.3,897.7 569.9,897.2 570.5,899.2 571.1,899.7 571.7,897.3 572.3,897.3 572.9,900.2 573.5,902.9 574.1,905.1 574.7,904.5 575.3,903.2 575.9,905.3 576.5,906.6 577.1,907.6 577.7,909.6 578.3,908.7 578.9,908.4 579.5,910.9 580.1,912.7 580.7,915.5 581.3,919.4 581.9,922.2 582.5,919.2 583.1,912.6 583.7,905.8 584.3,902.3 584.9,898.8 585.5,897.6 586.1,900.4 586.7,900.1 587.3,900.4 587.9,904.3 588.5,906.8 589.1,907.4 589.7,908.1 590.3,908.6 590.9,909.3 591.5,910.5 592.1,910.4 592.7,909.9 593.3,908.7 593.9,906.9 594.5,907.7 595.1,909.4 595.7,909.0 596.3,909.6 596.9,912.4 597.5,911.5 598.1,907.8 598.7,907.4 599.3,909.9 599.9,911.2 600.5,911.2 601.1,911.8 601.7,912.5 602.3,913.1 602.9,912.1 603.5,911.8 604.1,914.3 604.7,913.6 605.3,908.1 605.9,904.5 606.5,905.4 607.1,906.2 607.7,904.9 608.3,904.8 608.9,905.3 609.5,904.1 610.1,903.7 610.7,903.2 611.3,901.3 611.9,901.5 612.5,903.9 613.1,905.1 613.7,903.2 614.3,901.0 614.9,902.5 615.5,905.2 616.1,904.9 616.7,902.4 617.3,901.2 617.9,901.5 618.5,899.6 619.1,897.3 619.7,898.7 620.3,901.2 620.9,901.2 621.5,899.8 622.1,898.3 622.7,897.4 623.3,895.7 623.9,896.4 624.5,897.6 625.1,893.8 625.7,889.3 626.3,883.9 626.9,879.0 627.5,876.2 628.1,876.2 628.7,876.2 629.3,876.2 629.9,876.2 630.5,876.2 631.1,876.2 631.7,876.2 632.3,876.2 632.9,876.2 633.5,876.2 634.1,876.2 634.7,876.2 635.3,876.2 635.9,876.2 636.5,876.2 637.1,876.2 637.7,876.2 638.3,876.2 638.9,876.2 639.5,876.2 640.1,876.2 640.7,876.2 641.3,876.2 641.9,876.2 642.5,876.2 643.1,876.2 643.7,876.2 644.3,876.2 644.9,876.2 645.5,876.2 646.1,876.2 646.7,876.2 647.3,876.2 647.9,876.2 648.5,876.2 649.1,876.2 649.7,876.2 650.3,876.2 650.9,876.2 651.5,876.2 652.1,876.2 652.7,876.2 653.3,876.2 653.9,876.2 654.5,876.2 655.1,876.2 655.7,876.2 656.3,876.2 656.9,876.2 657.5,876.2 658.1,876.2 658.7,876.2 659.3,876.2 659.9,876.2 660.5,876.2 661.1,876.2 661.7,876.2 662.3,876.2 662.9,876.2 663.5,876.2 664.1,876.2 664.7,876.2 665.3,876.2 665.9,876.2 666.5,876.2 667.1,876.2 667.7,876.2 668.3,876.2 668.9,876.2 669.5,876.2 670.1,876.2 670.7,876.2 671.3,876.2 671.9,876.2 672.5,876.2 673.1,876.2 673.7,876.2" fill="none" stroke="#2c78e0" stroke-width="2.6" stroke-linejoin="round"/>
<line x1="418.9" y1="761.2" x2="418.9" y2="991.4" stroke="#ee2222" stroke-width="2.2"/>
<line x1="532.5" y1="761.2" x2="532.5" y2="991.4" stroke="#33e0f0" stroke-width="2.2"/>
<rect x="391.2" y="761.2" width="282.2" height="230.19999999999993" fill="none" stroke="#8a8a8a" stroke-width="1.3"/>
<line x1="391.2" y1="760.7" x2="395.7" y2="760.7" stroke="#8a8a8a" stroke-width="1.1"/>
<line x1="391.2" y1="789.6" x2="394.2" y2="789.6" stroke="#8a8a8a" stroke-width="1.1"/>
<line x1="391.2" y1="818.6" x2="395.7" y2="818.6" stroke="#8a8a8a" stroke-width="1.1"/>
<line x1="391.2" y1="847.5" x2="394.2" y2="847.5" stroke="#8a8a8a" stroke-width="1.1"/>
<line x1="391.2" y1="876.5" x2="395.7" y2="876.5" stroke="#8a8a8a" stroke-width="1.1"/>
<line x1="391.2" y1="905.5" x2="394.2" y2="905.5" stroke="#8a8a8a" stroke-width="1.1"/>
<line x1="391.2" y1="934.4" x2="395.7" y2="934.4" stroke="#8a8a8a" stroke-width="1.1"/>
<line x1="391.2" y1="963.4" x2="394.2" y2="963.4" stroke="#8a8a8a" stroke-width="1.1"/>
<line x1="391.2" y1="992.3" x2="395.7" y2="992.3" stroke="#8a8a8a" stroke-width="1.1"/>
<text x="385.7" y="767.1" font-size="19.5" fill="#000" stroke="#000" stroke-width="0.35" text-anchor="end" >2</text>
<text x="385.7" y="825.0" font-size="19.5" fill="#000" stroke="#000" stroke-width="0.35" text-anchor="end" >1</text>
<text x="385.7" y="882.9" font-size="19.5" fill="#000" stroke="#000" stroke-width="0.35" text-anchor="end" >0</text>
<text x="385.7" y="940.8" font-size="19.5" fill="#000" stroke="#000" stroke-width="0.35" text-anchor="end" >-1</text>
<text x="385.7" y="998.7" font-size="19.5" fill="#000" stroke="#000" stroke-width="0.35" text-anchor="end" >-2</text>
<line x1="419.5" y1="991.4" x2="419.5" y2="986.9" stroke="#8a8a8a" stroke-width="1.1"/>
<text x="419.5" y="1012.4" font-size="19.5" fill="#000" stroke="#000" stroke-width="0.35" text-anchor="middle" >-2</text>
<line x1="476.0" y1="991.4" x2="476.0" y2="986.9" stroke="#8a8a8a" stroke-width="1.1"/>
<text x="476.0" y="1012.4" font-size="19.5" fill="#000" stroke="#000" stroke-width="0.35" text-anchor="middle" >-1</text>
<line x1="532.5" y1="991.4" x2="532.5" y2="986.9" stroke="#8a8a8a" stroke-width="1.1"/>
<text x="532.5" y="1012.4" font-size="19.5" fill="#000" stroke="#000" stroke-width="0.35" text-anchor="middle" >0</text>
<line x1="589.0" y1="991.4" x2="589.0" y2="986.9" stroke="#8a8a8a" stroke-width="1.1"/>
<text x="589.0" y="1012.4" font-size="19.5" fill="#000" stroke="#000" stroke-width="0.35" text-anchor="middle" >1</text>
<line x1="645.5" y1="991.4" x2="645.5" y2="986.9" stroke="#8a8a8a" stroke-width="1.1"/>
<text x="645.5" y="1012.4" font-size="19.5" fill="#000" stroke="#000" stroke-width="0.35" text-anchor="middle" >2</text>
<line x1="391.2" y1="991.4" x2="391.2" y2="988.4" stroke="#8a8a8a" stroke-width="1.1"/>
<line x1="447.8" y1="991.4" x2="447.8" y2="988.4" stroke="#8a8a8a" stroke-width="1.1"/>
<line x1="504.2" y1="991.4" x2="504.2" y2="988.4" stroke="#8a8a8a" stroke-width="1.1"/>
<line x1="560.8" y1="991.4" x2="560.8" y2="988.4" stroke="#8a8a8a" stroke-width="1.1"/>
<line x1="617.2" y1="991.4" x2="617.2" y2="988.4" stroke="#8a8a8a" stroke-width="1.1"/>
<line x1="673.8" y1="991.4" x2="673.8" y2="988.4" stroke="#8a8a8a" stroke-width="1.1"/>
<text x="0.0" y="0.0" font-size="20" fill="#000" stroke="#000" stroke-width="0.35" text-anchor="middle" transform="translate(362.0 871.5) rotate(-90)">d band PDOS</text>
<text x="356.0" y="768.0" font-size="34" fill="#000" stroke="#000" stroke-width="0.35" text-anchor="start" >j</text>
<text x="524.9" y="782.2" font-size="19.5" fill="#000" stroke="#000" stroke-width="0.35" text-anchor="start" >Ru<tspan font-size="13" dy="4">CS/SA</tspan><tspan dy="-4">/&#945;-MoC</tspan><tspan font-size="13" dy="4">1-x</tspan></text>
<text x="450.0" y="786.6" font-size="18.8" fill="#ee2222" stroke="#ee2222" stroke-width="0.35" text-anchor="start" >d-band</text><text x="444.8" y="810.8" font-size="18.8" fill="#ee2222" stroke="#ee2222" stroke-width="0.35" text-anchor="start" >-2.01 eV</text>
<text x="535.5" y="831" font-family="'Liberation Serif', serif" font-style="italic" font-weight="bold" font-size="21" fill="#52ecf6">E<tspan font-size="14" dy="4">f</tspan></text>
<text x="532.5" y="1032.7" font-size="19.5" fill="#000" stroke="#000" stroke-width="0.35" text-anchor="middle" >E-E<tspan font-size="13" dy="4">F</tspan><tspan dy="-4"> (eV)</tspan></text>
<line x1="749.5" y1="756" x2="749.5" y2="999" stroke="#111" stroke-width="2.2"/>
<polygon points="749.5,745.7 743.7,758.5 749.5,755.5 755.3,758.5" fill="#111"/>
<path d="M 887.6,763.0 C 888.5,764.5 891.3,769.8 893.0,772.0 C 894.7,774.2 895.2,774.8 898.0,776.5 C 900.8,778.2 905.0,780.5 909.8,782.3 C 914.6,784.1 920.9,786.1 927.0,787.5 C 933.1,788.9 940.9,789.7 946.6,790.5 C 952.4,791.3 959.0,791.9 961.5,792.2 A 7 7.8 0 0 1 961.5,807.8 C 959.6,808.5 955.7,806.4 950.0,812.0 C 944.3,817.6 934.2,835.5 927.2,841.3 C 920.2,847.1 913.1,845.0 907.9,847.0 C 902.7,849.0 899.6,850.7 896.2,853.0 C 892.8,855.3 889.0,859.7 887.6,861.0 Z" fill="#f8ab3a"/>
<path d="M 887.6,838.6 C 889.0,837.3 892.8,833.4 896.2,830.8 C 899.6,828.2 903.4,825.4 907.9,823.0 C 912.4,820.6 917.9,818.2 923.4,816.3 C 928.9,814.4 935.7,812.5 940.8,811.4 C 945.9,810.2 950.5,809.8 954.0,809.4 C 957.5,809.0 960.2,809.1 961.5,809.1 A 7 6.7 0 0 1 961.5,822.5 C 959.6,823.1 955.7,822.7 950.0,826.0 C 944.3,829.3 934.2,838.6 927.2,842.3 C 920.2,846.0 913.1,846.0 907.9,848.0 C 902.7,850.0 899.6,851.7 896.2,854.0 C 892.8,856.3 889.0,860.7 887.6,862.0 Z" fill="#999999"/>
<path d="M 887.6,851.0 C 889.0,850.2 892.8,848.5 896.2,846.3 C 899.6,844.1 903.4,840.2 907.9,837.6 C 912.4,835.0 917.9,832.6 923.4,830.8 C 928.9,829.0 935.7,827.9 940.8,827.0 C 945.9,826.1 950.5,825.6 954.0,825.2 C 957.5,824.8 960.2,824.8 961.5,824.7 A 7 7.4 0 0 1 961.5,839.5 C 959.4,840.0 954.3,841.3 948.6,842.4 C 942.9,843.5 934.0,844.7 927.2,846.3 C 920.4,847.9 913.1,850.0 907.9,852.0 C 902.7,854.0 899.6,855.7 896.2,858.0 C 892.8,860.3 889.0,864.7 887.6,866.0 Z" fill="#0a6cf0"/>
<path d="M 887.6,881.6 C 888.5,883.0 890.7,887.4 893.0,890.0 C 895.3,892.6 897.3,894.9 901.6,897.4 C 905.9,899.9 911.6,903.0 918.8,905.0 C 926.0,907.0 937.6,908.6 944.7,909.5 C 951.8,910.4 958.7,910.1 961.5,910.2 A 7 7.8 0 0 1 961.5,925.8 C 959.6,926.5 956.6,923.3 950.0,930.0 C 943.4,936.7 929.8,959.0 921.7,965.9 C 913.6,972.8 906.4,970.0 901.6,971.6 C 896.8,973.2 895.3,974.1 893.0,975.5 C 890.7,976.9 888.5,979.2 887.6,980.0 Z" fill="#f8ab3a"/>
<path d="M 887.6,950.7 C 889.0,949.8 892.5,947.2 895.8,945.0 C 899.1,942.8 902.5,939.8 907.3,937.7 C 912.1,935.6 917.9,933.7 924.6,932.5 C 931.3,931.3 941.5,930.8 947.6,930.5 C 953.8,930.2 959.2,930.9 961.5,931.0 A 7 6.5 0 0 1 961.5,944.0 C 959.6,944.5 956.6,943.2 950.0,947.0 C 943.4,950.8 929.8,962.6 921.7,966.9 C 913.6,971.2 906.4,971.0 901.6,972.6 C 896.8,974.2 895.3,975.1 893.0,976.5 C 890.7,977.9 888.5,980.2 887.6,981.0 Z" fill="#999999"/>
<path d="M 887.6,972.3 C 889.0,970.9 892.5,966.3 895.8,963.7 C 899.1,961.1 902.5,958.7 907.3,956.5 C 912.1,954.3 917.9,952.1 924.6,950.7 C 931.3,949.3 941.5,948.5 947.6,948.0 C 953.8,947.5 959.2,947.8 961.5,947.8 A 7 7.8 0 0 1 961.5,963.4 C 958.7,963.9 951.3,965.2 944.7,966.5 C 938.1,967.8 928.9,969.2 921.7,970.9 C 914.5,972.6 906.4,975.0 901.6,976.6 C 896.8,978.2 895.3,979.1 893.0,980.5 C 890.7,981.9 888.5,984.2 887.6,985.0 Z" fill="#0a6cf0"/>
<line x1="887.6" y1="756" x2="887.6" y2="999" stroke="#111" stroke-width="2.2"/>
<polygon points="887.6,746.3 881.8000000000001,759 887.6,756 893.4,759" fill="#111"/>
<line x1="749.5" y1="782.8" x2="1023" y2="782.8" stroke="#111" stroke-width="1.6" stroke-dasharray="5 4"/>
<line x1="821.3" y1="839" x2="887.6" y2="813" stroke="#111" stroke-width="1.6" stroke-dasharray="5 4"/>
<line x1="825.7" y1="843.2" x2="887.6" y2="918" stroke="#111" stroke-width="1.6" stroke-dasharray="5 4"/>
<line x1="941.8" y1="816.3" x2="989.3" y2="876.4" stroke="#111" stroke-width="1.6" stroke-dasharray="5 4"/>
<line x1="989.3" y1="876.4" x2="950" y2="909" stroke="#111" stroke-width="1.6" stroke-dasharray="5 4"/>
<line x1="750" y1="804.9" x2="820" y2="804.9" stroke="#f6b04a" stroke-width="2"/>
<line x1="750" y1="825.6" x2="820" y2="825.6" stroke="#a0a0a0" stroke-width="2"/>
<line x1="750" y1="861.3" x2="820" y2="861.3" stroke="#2038d8" stroke-width="2.2"/>
<text x="778.0" y="796.2" font-size="15.5" fill="#222" stroke="#222" stroke-width="0.35" text-anchor="start" >E<tspan font-size="11" dy="4">f</tspan></text>
<text x="818.0" y="818.7" font-size="16" fill="#f6b04a" stroke="#f6b04a" stroke-width="0.35" text-anchor="end" >-0.35</text>
<text x="819.0" y="844.8" font-size="16" fill="#b4b4b4" stroke="#b4b4b4" stroke-width="0.35" text-anchor="end" >-1.18</text>
<text x="816.0" y="878.7" font-size="16" fill="#2060e0" stroke="#2060e0" stroke-width="0.35" text-anchor="end" >-2.01</text>
<line x1="781.6" y1="830.8" x2="781.6" y2="852" stroke="#c8242c" stroke-width="2.2"/>
<polygon points="775.2,846 781.6,859 788,846 781.6,850" fill="#c8242c"/>
<line x1="928.2" y1="846.3" x2="928.2" y2="868" stroke="#c8242c" stroke-width="2.2"/>
<polygon points="921.8,862 928.2,875.4 934.6,862 928.2,866" fill="#c8242c"/>
<text x="908.8" y="770.7" font-size="18.5" fill="#000" stroke="#000" stroke-width="0.35" text-anchor="start" textLength="105.7" lengthAdjust="spacingAndGlyphs">Antibonding</text>
<text x="898.0" y="888.8" font-size="18.5" fill="#000" stroke="#000" stroke-width="0.35" text-anchor="start" textLength="72.7" lengthAdjust="spacingAndGlyphs">Bonding</text>
<text x="996.0" y="873.5" font-size="17" fill="#000" stroke="#000" stroke-width="0.35" text-anchor="start" textLength="33" lengthAdjust="spacingAndGlyphs">Ads</text>
<line x1="991.2" y1="876.6" x2="1032" y2="876.6" stroke="#111" stroke-width="1.3"/>
<text x="0.0" y="0.0" font-size="19.5" fill="#000" stroke="#000" stroke-width="0.35" text-anchor="middle" transform="translate(732.5 867) rotate(-90)">Energy (eV)</text>
<text x="698.5" y="766.5" font-size="32" fill="#000" stroke="#000" stroke-width="0.35" text-anchor="start" >k</text>
<line x1="754.7" y1="928.2" x2="787.8" y2="928.2" stroke="#f8b070" stroke-width="1.3"/>
<line x1="754.7" y1="957.9" x2="787.8" y2="957.9" stroke="#b8b8b8" stroke-width="1.3"/>
<line x1="754.7" y1="987.3" x2="787.8" y2="987.3" stroke="#5a96f0" stroke-width="1.3"/>
<text x="793.6" y="934.9" font-size="19" fill="#222" stroke="#222" stroke-width="0.35" text-anchor="start" textLength="76" lengthAdjust="spacingAndGlyphs">&#945;-MoC<tspan font-size="13.5" dy="4.5">1-x</tspan></text>
<text x="793.6" y="963.0" font-size="19" fill="#222" stroke="#222" stroke-width="0.35" text-anchor="start" textLength="124" lengthAdjust="spacingAndGlyphs">Ru<tspan font-size="13.5" dy="4.5">SA</tspan><tspan dy="-4.5">/&#945;-MoC</tspan><tspan font-size="13.5" dy="4.5">1-x</tspan></text>
<text x="793.6" y="992.5" font-size="19" fill="#222" stroke="#222" stroke-width="0.35" text-anchor="start" textLength="145" lengthAdjust="spacingAndGlyphs">Ru<tspan font-size="13.5" dy="4.5">CS/SA</tspan><tspan dy="-4.5">/&#945;-MoC</tspan><tspan font-size="13.5" dy="4.5">1-x</tspan></text>
</svg>
</body></html>
